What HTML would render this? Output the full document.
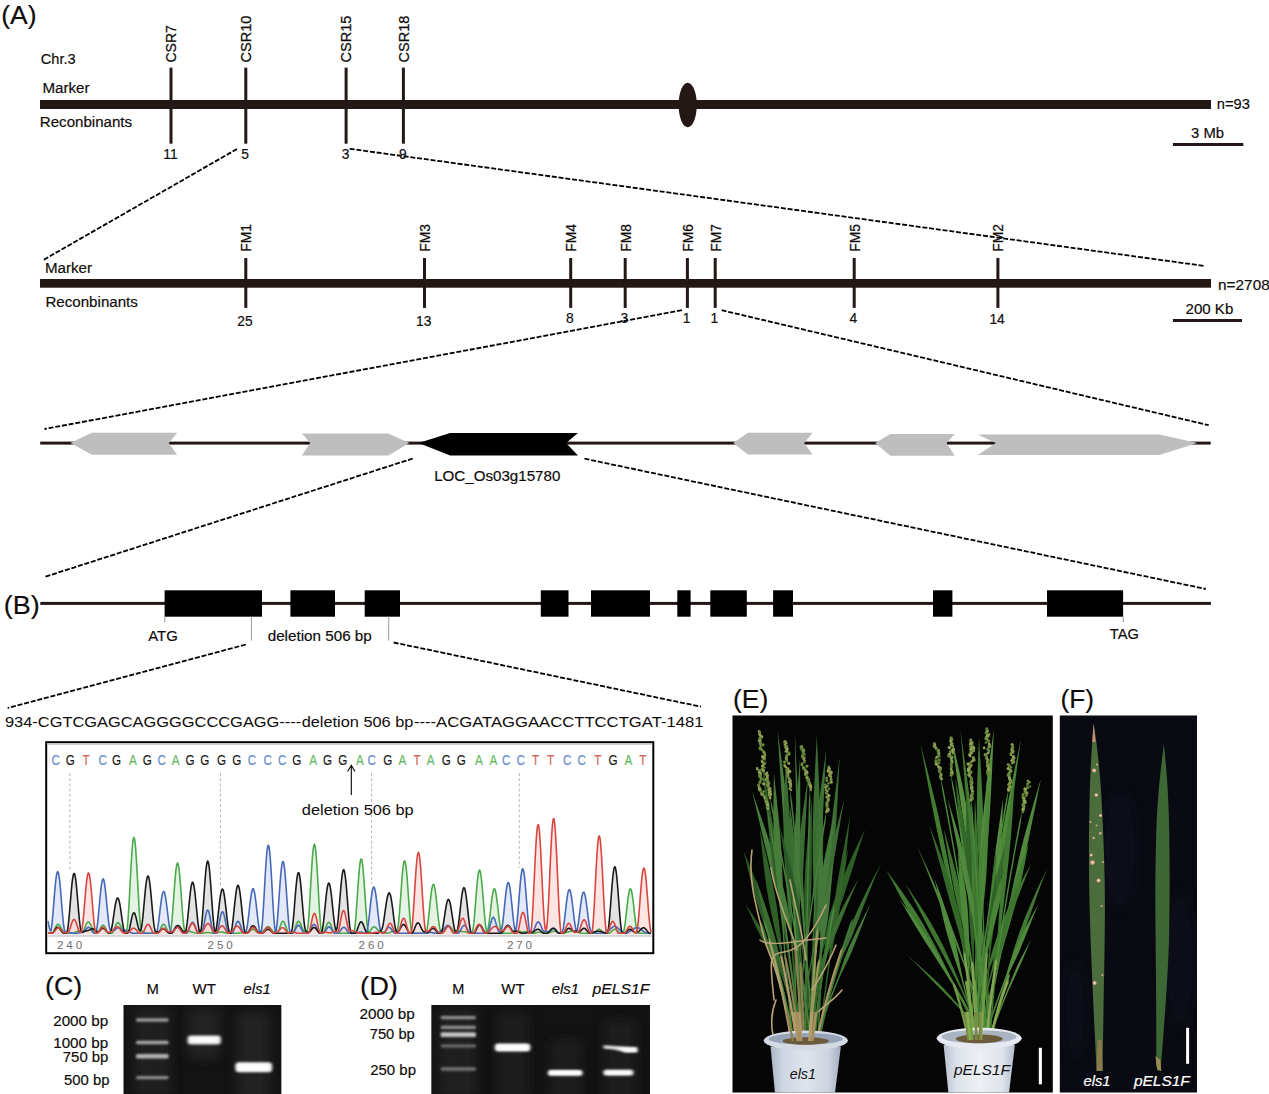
<!DOCTYPE html>
<html><head><meta charset="utf-8"><title>Figure</title>
<style>
html,body{margin:0;padding:0;background:#fff;}
body{width:1269px;height:1094px;overflow:hidden;}
svg{display:block;font-family:"Liberation Sans",sans-serif;}
</style></head><body>
<svg width="1269" height="1094" viewBox="0 0 1269 1094">
<rect width="1269" height="1094" fill="#fff"/>
<text x="1.3" y="23.6" font-size="26.4" textLength="35.3" lengthAdjust="spacingAndGlyphs" fill="#0f0b0a" stroke="#0f0b0a" stroke-width="0.18">(A)</text>
<text x="40.8" y="63.8" font-size="14.2" textLength="34.8" lengthAdjust="spacingAndGlyphs" fill="#0f0b0a" stroke="#0f0b0a" stroke-width="0.18">Chr.3</text>
<text x="42.4" y="93.3" font-size="14.7" textLength="47.1" lengthAdjust="spacingAndGlyphs" fill="#0f0b0a" stroke="#0f0b0a" stroke-width="0.18">Marker</text>
<text x="39.8" y="126.5" font-size="14.7" textLength="92.3" lengthAdjust="spacingAndGlyphs" fill="#0f0b0a" stroke="#0f0b0a" stroke-width="0.18">Reconbinants</text>
<rect x="40" y="100" width="1171" height="9" fill="#231815"/>
<ellipse cx="687.7" cy="105" rx="9.1" ry="22.2" fill="#231815"/>
<rect x="169.5" y="67.6" width="3" height="76.1" fill="#231815"/>
<text transform="translate(176.3,62.5) rotate(-90)" font-size="14.3" textLength="37.3" lengthAdjust="spacingAndGlyphs" fill="#0f0b0a" stroke="#0f0b0a" stroke-width="0.25">CSR7</text>
<text x="170.4" y="159.4" font-size="13.8" text-anchor="middle" fill="#0f0b0a" stroke="#0f0b0a" stroke-width="0.18">11</text>
<rect x="244.3" y="67.6" width="3" height="76.1" fill="#231815"/>
<text transform="translate(251.10000000000002,62.5) rotate(-90)" font-size="14.3" textLength="46.9" lengthAdjust="spacingAndGlyphs" fill="#0f0b0a" stroke="#0f0b0a" stroke-width="0.25">CSR10</text>
<text x="245.20000000000002" y="159.4" font-size="13.8" text-anchor="middle" fill="#0f0b0a" stroke="#0f0b0a" stroke-width="0.18">5</text>
<rect x="344.6" y="67.6" width="3" height="76.1" fill="#231815"/>
<text transform="translate(351.40000000000003,62.5) rotate(-90)" font-size="14.3" textLength="46.9" lengthAdjust="spacingAndGlyphs" fill="#0f0b0a" stroke="#0f0b0a" stroke-width="0.25">CSR15</text>
<text x="345.5" y="159.4" font-size="13.8" text-anchor="middle" fill="#0f0b0a" stroke="#0f0b0a" stroke-width="0.18">3</text>
<rect x="401.9" y="67.6" width="3" height="76.1" fill="#231815"/>
<text transform="translate(408.7,62.5) rotate(-90)" font-size="14.3" textLength="46.9" lengthAdjust="spacingAndGlyphs" fill="#0f0b0a" stroke="#0f0b0a" stroke-width="0.25">CSR18</text>
<text x="402.79999999999995" y="159.4" font-size="13.8" text-anchor="middle" fill="#0f0b0a" stroke="#0f0b0a" stroke-width="0.18">9</text>
<text x="1216.8" y="108.5" font-size="14.7" textLength="33.1" lengthAdjust="spacingAndGlyphs" fill="#0f0b0a" stroke="#0f0b0a" stroke-width="0.18">n=93</text>
<text x="1191" y="138.2" font-size="14.7" textLength="33" lengthAdjust="spacingAndGlyphs" fill="#0f0b0a" stroke="#0f0b0a" stroke-width="0.18">3 Mb</text>
<rect x="1172.9" y="143" width="70.4" height="3" fill="#231815"/>
<line x1="237" y1="149" x2="42.4" y2="260.5" stroke="#000" stroke-width="1.8" stroke-dasharray="5 1.8"/>
<line x1="349.7" y1="148.8" x2="1204.9" y2="266" stroke="#000" stroke-width="1.8" stroke-dasharray="5 1.8"/>
<text x="44.9" y="273.1" font-size="14.7" textLength="47.1" lengthAdjust="spacingAndGlyphs" fill="#0f0b0a" stroke="#0f0b0a" stroke-width="0.18">Marker</text>
<text x="45.4" y="306.7" font-size="14.7" textLength="92.5" lengthAdjust="spacingAndGlyphs" fill="#0f0b0a" stroke="#0f0b0a" stroke-width="0.18">Reconbinants</text>
<rect x="40" y="279" width="1171" height="8.7" fill="#231815"/>
<rect x="244.3" y="258" width="3" height="49.9" fill="#231815"/>
<text transform="translate(251.10000000000002,251.7) rotate(-90)" font-size="14.3" textLength="27.7" lengthAdjust="spacingAndGlyphs" fill="#0f0b0a" stroke="#0f0b0a" stroke-width="0.25">FM1</text>
<text x="245.0" y="326" font-size="13.8" text-anchor="middle" fill="#0f0b0a" stroke="#0f0b0a" stroke-width="0.18">25</text>
<rect x="423.0" y="258" width="3" height="49.9" fill="#231815"/>
<text transform="translate(429.8,251.7) rotate(-90)" font-size="14.3" textLength="27.7" lengthAdjust="spacingAndGlyphs" fill="#0f0b0a" stroke="#0f0b0a" stroke-width="0.25">FM3</text>
<text x="423.7" y="326" font-size="13.8" text-anchor="middle" fill="#0f0b0a" stroke="#0f0b0a" stroke-width="0.18">13</text>
<rect x="569.2" y="258" width="3" height="49.9" fill="#231815"/>
<text transform="translate(576.0,251.7) rotate(-90)" font-size="14.3" textLength="27.7" lengthAdjust="spacingAndGlyphs" fill="#0f0b0a" stroke="#0f0b0a" stroke-width="0.25">FM4</text>
<text x="569.9000000000001" y="322.8" font-size="13.8" text-anchor="middle" fill="#0f0b0a" stroke="#0f0b0a" stroke-width="0.18">8</text>
<rect x="623.7" y="258" width="3" height="49.9" fill="#231815"/>
<text transform="translate(630.5,251.7) rotate(-90)" font-size="14.3" textLength="27.7" lengthAdjust="spacingAndGlyphs" fill="#0f0b0a" stroke="#0f0b0a" stroke-width="0.25">FM8</text>
<text x="624.4000000000001" y="322.8" font-size="13.8" text-anchor="middle" fill="#0f0b0a" stroke="#0f0b0a" stroke-width="0.18">3</text>
<rect x="685.9" y="258" width="3" height="49.9" fill="#231815"/>
<text transform="translate(692.6999999999999,251.7) rotate(-90)" font-size="14.3" textLength="27.7" lengthAdjust="spacingAndGlyphs" fill="#0f0b0a" stroke="#0f0b0a" stroke-width="0.25">FM6</text>
<text x="686.6" y="322.8" font-size="13.8" text-anchor="middle" fill="#0f0b0a" stroke="#0f0b0a" stroke-width="0.18">1</text>
<rect x="713.7" y="258" width="3" height="49.9" fill="#231815"/>
<text transform="translate(720.5,251.7) rotate(-90)" font-size="14.3" textLength="27.7" lengthAdjust="spacingAndGlyphs" fill="#0f0b0a" stroke="#0f0b0a" stroke-width="0.25">FM7</text>
<text x="714.4000000000001" y="322.8" font-size="13.8" text-anchor="middle" fill="#0f0b0a" stroke="#0f0b0a" stroke-width="0.18">1</text>
<rect x="852.7" y="258" width="3" height="49.9" fill="#231815"/>
<text transform="translate(859.5,251.7) rotate(-90)" font-size="14.3" textLength="27.7" lengthAdjust="spacingAndGlyphs" fill="#0f0b0a" stroke="#0f0b0a" stroke-width="0.25">FM5</text>
<text x="853.4000000000001" y="322.8" font-size="13.8" text-anchor="middle" fill="#0f0b0a" stroke="#0f0b0a" stroke-width="0.18">4</text>
<rect x="996.4" y="258" width="3" height="49.9" fill="#231815"/>
<text transform="translate(1003.1999999999999,251.7) rotate(-90)" font-size="14.3" textLength="27.7" lengthAdjust="spacingAndGlyphs" fill="#0f0b0a" stroke="#0f0b0a" stroke-width="0.25">FM2</text>
<text x="997.1" y="323.5" font-size="13.8" text-anchor="middle" fill="#0f0b0a" stroke="#0f0b0a" stroke-width="0.18">14</text>
<text x="1218.1" y="289.8" font-size="14.7" textLength="51.6" lengthAdjust="spacingAndGlyphs" fill="#0f0b0a" stroke="#0f0b0a" stroke-width="0.18">n=2708</text>
<text x="1185.5" y="314.3" font-size="14.7" textLength="47.8" lengthAdjust="spacingAndGlyphs" fill="#0f0b0a" stroke="#0f0b0a" stroke-width="0.18">200 Kb</text>
<rect x="1172.9" y="319" width="69.1" height="3" fill="#231815"/>
<line x1="681.9" y1="310.2" x2="44.5" y2="429" stroke="#000" stroke-width="1.8" stroke-dasharray="5 1.8"/>
<line x1="721.6" y1="310.2" x2="1208.7" y2="425.2" stroke="#000" stroke-width="1.8" stroke-dasharray="5 1.8"/>
<rect x="40.2" y="441.6" width="1170.5" height="3" fill="#231815"/>
<polygon points="70.4,443.1 91.9,432.8 177.1,432.8 168.8,443.1 177.1,454.7 91.9,454.7" fill="#bebebe"/>
<polygon points="301.9,433.5 388.3,433.5 409.3,443.1 388.3,455.5 301.9,455.5 310.2,443.1" fill="#bebebe"/>
<polygon points="418.6,443.1 450.1,433 578,433 566.1,443.1 578,455.5 450.1,455.5" fill="#000"/>
<polygon points="733.3,443.1 747.9,432.8 812.7,432.8 804.1,443.1 812.7,454.5 747.9,454.5" fill="#bebebe"/>
<polygon points="875.2,443.1 890.4,434 954.7,434 946.6,443.1 954.7,455.7 890.4,455.7" fill="#bebebe"/>
<polygon points="977.7,434.6 1159.5,434.6 1197.4,443.1 1159.5,455 977.7,455 995.9,443.1" fill="#bebebe"/>
<text x="434.2" y="480.7" font-size="14.5" textLength="126.1" lengthAdjust="spacingAndGlyphs" fill="#0f0b0a" stroke="#0f0b0a" stroke-width="0.18">LOC_Os03g15780</text>
<line x1="412.8" y1="458.5" x2="44.1" y2="577.1" stroke="#000" stroke-width="1.8" stroke-dasharray="5 1.8"/>
<line x1="584.5" y1="458.7" x2="1205.8" y2="589" stroke="#000" stroke-width="1.8" stroke-dasharray="5 1.8"/>
<text x="3.8" y="613.7" font-size="26.4" textLength="36" lengthAdjust="spacingAndGlyphs" fill="#0f0b0a" stroke="#0f0b0a" stroke-width="0.18">(B)</text>
<rect x="40.3" y="601.9" width="1170.6" height="3" fill="#231815"/>
<rect x="164.6" y="590.3" width="97.4" height="26.4" fill="#000"/>
<rect x="290.4" y="590.3" width="44.6" height="26.4" fill="#000"/>
<rect x="364.7" y="590.3" width="35.3" height="26.4" fill="#000"/>
<rect x="540.8" y="590.3" width="27.7" height="26.4" fill="#000"/>
<rect x="591" y="590.3" width="59" height="26.4" fill="#000"/>
<rect x="677.3" y="590.3" width="13.3" height="26.4" fill="#000"/>
<rect x="710.3" y="590.3" width="36.5" height="26.4" fill="#000"/>
<rect x="773.1" y="590.3" width="19.9" height="26.4" fill="#000"/>
<rect x="933" y="590.3" width="19.4" height="26.4" fill="#000"/>
<rect x="1047" y="590.3" width="76.1" height="26.4" fill="#000"/>
<line x1="164.8" y1="616.7" x2="164.8" y2="622.5" stroke="#9a9a9a" stroke-width="1"/>
<line x1="251.4" y1="616.7" x2="251.4" y2="640.7" stroke="#9a9a9a" stroke-width="1"/>
<line x1="388.7" y1="616.7" x2="388.7" y2="640.7" stroke="#9a9a9a" stroke-width="1"/>
<line x1="1123.3" y1="616.7" x2="1123.3" y2="622.5" stroke="#9a9a9a" stroke-width="1"/>
<text x="148.3" y="641.4" font-size="14.2" textLength="29.5" lengthAdjust="spacingAndGlyphs" fill="#0f0b0a" stroke="#0f0b0a" stroke-width="0.18">ATG</text>
<text x="267.7" y="640.7" font-size="14.2" textLength="104.1" lengthAdjust="spacingAndGlyphs" fill="#0f0b0a" stroke="#0f0b0a" stroke-width="0.18">deletion 506 bp</text>
<text x="1109.8" y="638.7" font-size="14.2" textLength="29" lengthAdjust="spacingAndGlyphs" fill="#0f0b0a" stroke="#0f0b0a" stroke-width="0.18">TAG</text>
<line x1="245.8" y1="644.5" x2="7.6" y2="708" stroke="#000" stroke-width="1.8" stroke-dasharray="5 1.8"/>
<line x1="393.7" y1="642.5" x2="701" y2="706.7" stroke="#000" stroke-width="1.8" stroke-dasharray="5 1.8"/>
<text x="5" y="727.1" font-size="15" textLength="296.2" lengthAdjust="spacingAndGlyphs" fill="#0f0b0a" stroke="#0f0b0a" stroke-width="0">934-CGTCGAGCAGGGGCCCGAGG----</text>
<text x="301.7" y="727.1" font-size="15" textLength="111.7" lengthAdjust="spacingAndGlyphs" fill="#0f0b0a" stroke="#0f0b0a" stroke-width="0">deletion 506 bp</text>
<text x="413.9" y="727.1" font-size="15" textLength="289.6" lengthAdjust="spacingAndGlyphs" fill="#0f0b0a" stroke="#0f0b0a" stroke-width="0">----ACGATAGGAACCTTCCTGAT-1481</text>
<g id="chrom">
<rect x="46.2" y="742.2" width="607.1" height="211" fill="#fff" stroke="#000" stroke-width="2"/>
<rect x="47.2" y="743.2" width="605.1" height="1.6" fill="#c8c8c8"/>
<rect x="47.2" y="935.3" width="605.1" height="1.3" fill="#c4c4c4"/>
<text transform="translate(55.7,764.6) scale(0.8,1)" text-anchor="middle" font-size="14.6" fill="#6a8bd0" stroke="#6a8bd0" stroke-width="0.15">C</text>
<text transform="translate(70.3,764.6) scale(0.8,1)" text-anchor="middle" font-size="14.6" fill="#1c1c1c" stroke="#1c1c1c" stroke-width="0.15">G</text>
<text transform="translate(86,764.6) scale(0.8,1)" text-anchor="middle" font-size="14.6" fill="#d4605a" stroke="#d4605a" stroke-width="0.15">T</text>
<text transform="translate(102.6,764.6) scale(0.8,1)" text-anchor="middle" font-size="14.6" fill="#6a8bd0" stroke="#6a8bd0" stroke-width="0.15">C</text>
<text transform="translate(116.5,764.6) scale(0.8,1)" text-anchor="middle" font-size="14.6" fill="#1c1c1c" stroke="#1c1c1c" stroke-width="0.15">G</text>
<text transform="translate(132.9,764.6) scale(0.8,1)" text-anchor="middle" font-size="14.6" fill="#5cb85c" stroke="#5cb85c" stroke-width="0.15">A</text>
<text transform="translate(147.2,764.6) scale(0.8,1)" text-anchor="middle" font-size="14.6" fill="#1c1c1c" stroke="#1c1c1c" stroke-width="0.15">G</text>
<text transform="translate(161.6,764.6) scale(0.8,1)" text-anchor="middle" font-size="14.6" fill="#6a8bd0" stroke="#6a8bd0" stroke-width="0.15">C</text>
<text transform="translate(175.7,764.6) scale(0.8,1)" text-anchor="middle" font-size="14.6" fill="#5cb85c" stroke="#5cb85c" stroke-width="0.15">A</text>
<text transform="translate(190.1,764.6) scale(0.8,1)" text-anchor="middle" font-size="14.6" fill="#1c1c1c" stroke="#1c1c1c" stroke-width="0.15">G</text>
<text transform="translate(204.7,764.6) scale(0.8,1)" text-anchor="middle" font-size="14.6" fill="#1c1c1c" stroke="#1c1c1c" stroke-width="0.15">G</text>
<text transform="translate(221.6,764.6) scale(0.8,1)" text-anchor="middle" font-size="14.6" fill="#1c1c1c" stroke="#1c1c1c" stroke-width="0.15">G</text>
<text transform="translate(236.8,764.6) scale(0.8,1)" text-anchor="middle" font-size="14.6" fill="#1c1c1c" stroke="#1c1c1c" stroke-width="0.15">G</text>
<text transform="translate(251.9,764.6) scale(0.8,1)" text-anchor="middle" font-size="14.6" fill="#6a8bd0" stroke="#6a8bd0" stroke-width="0.15">C</text>
<text transform="translate(267.8,764.6) scale(0.8,1)" text-anchor="middle" font-size="14.6" fill="#6a8bd0" stroke="#6a8bd0" stroke-width="0.15">C</text>
<text transform="translate(282.1,764.6) scale(0.8,1)" text-anchor="middle" font-size="14.6" fill="#6a8bd0" stroke="#6a8bd0" stroke-width="0.15">C</text>
<text transform="translate(296.8,764.6) scale(0.8,1)" text-anchor="middle" font-size="14.6" fill="#1c1c1c" stroke="#1c1c1c" stroke-width="0.15">G</text>
<text transform="translate(313.2,764.6) scale(0.8,1)" text-anchor="middle" font-size="14.6" fill="#5cb85c" stroke="#5cb85c" stroke-width="0.15">A</text>
<text transform="translate(327.5,764.6) scale(0.8,1)" text-anchor="middle" font-size="14.6" fill="#1c1c1c" stroke="#1c1c1c" stroke-width="0.15">G</text>
<text transform="translate(342.9,764.6) scale(0.8,1)" text-anchor="middle" font-size="14.6" fill="#1c1c1c" stroke="#1c1c1c" stroke-width="0.15">G</text>
<text transform="translate(359.9,764.6) scale(0.8,1)" text-anchor="middle" font-size="14.6" fill="#5cb85c" stroke="#5cb85c" stroke-width="0.15">A</text>
<text transform="translate(371.6,764.6) scale(0.8,1)" text-anchor="middle" font-size="14.6" fill="#6a8bd0" stroke="#6a8bd0" stroke-width="0.15">C</text>
<text transform="translate(387.7,764.6) scale(0.8,1)" text-anchor="middle" font-size="14.6" fill="#1c1c1c" stroke="#1c1c1c" stroke-width="0.15">G</text>
<text transform="translate(402.3,764.6) scale(0.8,1)" text-anchor="middle" font-size="14.6" fill="#5cb85c" stroke="#5cb85c" stroke-width="0.15">A</text>
<text transform="translate(417.1,764.6) scale(0.8,1)" text-anchor="middle" font-size="14.6" fill="#d4605a" stroke="#d4605a" stroke-width="0.15">T</text>
<text transform="translate(430.6,764.6) scale(0.8,1)" text-anchor="middle" font-size="14.6" fill="#5cb85c" stroke="#5cb85c" stroke-width="0.15">A</text>
<text transform="translate(446.3,764.6) scale(0.8,1)" text-anchor="middle" font-size="14.6" fill="#1c1c1c" stroke="#1c1c1c" stroke-width="0.15">G</text>
<text transform="translate(461.3,764.6) scale(0.8,1)" text-anchor="middle" font-size="14.6" fill="#1c1c1c" stroke="#1c1c1c" stroke-width="0.15">G</text>
<text transform="translate(479,764.6) scale(0.8,1)" text-anchor="middle" font-size="14.6" fill="#5cb85c" stroke="#5cb85c" stroke-width="0.15">A</text>
<text transform="translate(493.3,764.6) scale(0.8,1)" text-anchor="middle" font-size="14.6" fill="#5cb85c" stroke="#5cb85c" stroke-width="0.15">A</text>
<text transform="translate(506.1,764.6) scale(0.8,1)" text-anchor="middle" font-size="14.6" fill="#6a8bd0" stroke="#6a8bd0" stroke-width="0.15">C</text>
<text transform="translate(520.6,764.6) scale(0.8,1)" text-anchor="middle" font-size="14.6" fill="#6a8bd0" stroke="#6a8bd0" stroke-width="0.15">C</text>
<text transform="translate(535.5,764.6) scale(0.8,1)" text-anchor="middle" font-size="14.6" fill="#d4605a" stroke="#d4605a" stroke-width="0.15">T</text>
<text transform="translate(550.5,764.6) scale(0.8,1)" text-anchor="middle" font-size="14.6" fill="#d4605a" stroke="#d4605a" stroke-width="0.15">T</text>
<text transform="translate(567.2,764.6) scale(0.8,1)" text-anchor="middle" font-size="14.6" fill="#6a8bd0" stroke="#6a8bd0" stroke-width="0.15">C</text>
<text transform="translate(581.8,764.6) scale(0.8,1)" text-anchor="middle" font-size="14.6" fill="#6a8bd0" stroke="#6a8bd0" stroke-width="0.15">C</text>
<text transform="translate(597.9,764.6) scale(0.8,1)" text-anchor="middle" font-size="14.6" fill="#d4605a" stroke="#d4605a" stroke-width="0.15">T</text>
<text transform="translate(613,764.6) scale(0.8,1)" text-anchor="middle" font-size="14.6" fill="#1c1c1c" stroke="#1c1c1c" stroke-width="0.15">G</text>
<text transform="translate(628.3,764.6) scale(0.8,1)" text-anchor="middle" font-size="14.6" fill="#5cb85c" stroke="#5cb85c" stroke-width="0.15">A</text>
<text transform="translate(642.9,764.6) scale(0.8,1)" text-anchor="middle" font-size="14.6" fill="#d4605a" stroke="#d4605a" stroke-width="0.15">T</text>
<line x1="69.9" y1="773" x2="69.9" y2="871" stroke="#b8b8b8" stroke-width="1" stroke-dasharray="3 2.2"/>
<line x1="220.4" y1="773" x2="220.4" y2="886" stroke="#b8b8b8" stroke-width="1" stroke-dasharray="3 2.2"/>
<line x1="371.6" y1="773" x2="371.6" y2="884" stroke="#b8b8b8" stroke-width="1" stroke-dasharray="3 2.2"/>
<line x1="519.3" y1="773" x2="519.3" y2="868" stroke="#b8b8b8" stroke-width="1" stroke-dasharray="3 2.2"/>
<path d="M48,934.3 L48.0,933.3 L48.6,933.3 L49.2,933.3 L49.8,933.3 L50.4,933.3 L51.0,933.3 L51.6,933.3 L52.2,933.2 L52.8,932.7 L53.4,931.9 L54.0,930.8 L54.6,929.5 L55.2,928.1 L55.8,926.8 L56.4,925.7 L57.0,924.9 L57.6,924.4 L58.2,924.3 L58.8,924.6 L59.4,925.1 L60.0,926.0 L60.6,927.0 L61.2,928.1 L61.8,929.2 L62.4,930.2 L63.0,931.1 L63.6,931.6 L64.2,931.9 L64.8,932.0 L65.4,932.2 L66.0,932.4 L66.6,932.7 L67.2,932.9 L67.8,933.1 L68.4,933.2 L69.0,933.3 L69.6,933.3 L70.2,933.3 L70.8,933.3 L71.4,933.3 L72.0,933.3 L72.6,933.2 L73.2,933.1 L73.8,932.8 L74.4,932.5 L75.0,932.2 L75.6,931.9 L76.2,931.7 L76.8,931.5 L77.4,931.3 L78.0,931.3 L78.6,931.4 L79.2,931.5 L79.8,931.7 L80.4,931.9 L81.0,932.0 L81.6,932.1 L82.2,932.1 L82.8,931.9 L83.4,931.1 L84.0,929.9 L84.6,928.4 L85.2,926.8 L85.8,925.2 L86.4,923.9 L87.0,922.9 L87.6,922.2 L88.2,922.0 L88.8,922.1 L89.4,922.6 L90.0,923.4 L90.6,924.5 L91.2,925.9 L91.8,927.3 L92.4,928.7 L93.0,930.0 L93.6,931.0 L94.2,931.6 L94.8,931.9 L95.4,932.1 L96.0,932.3 L96.6,932.5 L97.2,932.6 L97.8,932.4 L98.4,931.9 L99.0,931.0 L99.6,929.9 L100.2,928.7 L100.8,927.5 L101.4,926.5 L102.0,925.8 L102.6,925.4 L103.2,925.3 L103.8,925.6 L104.4,926.3 L105.0,927.2 L105.6,928.3 L106.2,929.5 L106.8,930.7 L107.4,931.7 L108.0,932.6 L108.6,933.1 L109.2,933.3 L109.8,933.3 L110.4,933.3 L111.0,933.3 L111.6,933.3 L112.2,933.0 L112.8,932.3 L113.4,931.3 L114.0,930.0 L114.6,928.5 L115.2,926.9 L115.8,925.4 L116.4,924.2 L117.0,923.3 L117.6,922.7 L118.2,922.6 L118.8,923.0 L119.4,923.7 L120.0,924.8 L120.6,926.1 L121.2,927.5 L121.8,928.8 L122.4,929.9 L123.0,930.8 L123.6,931.3 L124.2,931.4 L124.8,931.5 L125.4,931.6 L126.0,931.8 L126.6,931.2 L127.2,928.1 L127.8,922.3 L128.4,914.3 L129.0,904.5 L129.6,893.5 L130.2,882.0 L130.8,870.7 L131.4,860.3 L132.0,851.3 L132.6,844.2 L133.2,839.5 L133.8,837.6 L134.4,838.4 L135.0,842.0 L135.6,848.1 L136.2,856.4 L136.8,866.4 L137.4,877.3 L138.0,888.6 L138.6,899.6 L139.2,909.7 L139.8,918.3 L140.4,925.0 L141.0,929.2 L141.6,930.8 L142.2,931.1 L142.8,931.4 L143.4,931.8 L144.0,932.3 L144.6,932.7 L145.2,933.0 L145.8,933.2 L146.4,933.3 L147.0,933.3 L147.6,933.3 L148.2,933.3 L148.8,933.3 L149.4,933.3 L150.0,933.3 L150.6,933.3 L151.2,933.3 L151.8,933.3 L152.4,933.3 L153.0,933.3 L153.6,933.3 L154.2,933.3 L154.8,933.3 L155.4,933.3 L156.0,933.3 L156.6,933.3 L157.2,933.3 L157.8,933.2 L158.4,932.7 L159.0,931.9 L159.6,930.8 L160.2,929.5 L160.8,928.1 L161.4,926.8 L162.0,925.7 L162.6,924.9 L163.2,924.4 L163.8,924.3 L164.4,924.7 L165.0,925.4 L165.6,926.4 L166.2,927.7 L166.8,929.0 L167.4,930.4 L168.0,931.6 L168.6,932.5 L169.2,933.1 L169.8,933.3 L170.4,932.3 L171.0,929.2 L171.6,924.3 L172.2,917.8 L172.8,910.2 L173.4,901.9 L174.0,893.3 L174.6,885.1 L175.2,877.6 L175.8,871.4 L176.4,866.7 L177.0,863.8 L177.6,863.0 L178.2,864.3 L178.8,867.5 L179.4,872.5 L180.0,879.0 L180.6,886.6 L181.2,894.9 L181.8,903.2 L182.4,911.3 L183.0,918.5 L183.6,924.4 L184.2,928.6 L184.8,930.9 L185.4,931.3 L186.0,931.2 L186.6,931.1 L187.2,931.1 L187.8,931.1 L188.4,931.2 L189.0,931.2 L189.6,931.4 L190.2,931.5 L190.8,931.7 L191.4,931.9 L192.0,932.0 L192.6,932.2 L193.2,932.4 L193.8,932.6 L194.4,932.8 L195.0,933.0 L195.6,933.1 L196.2,933.2 L196.8,933.3 L197.4,933.3 L198.0,933.3 L198.6,933.3 L199.2,933.3 L199.8,933.3 L200.4,933.3 L201.0,933.3 L201.6,933.3 L202.2,933.2 L202.8,933.2 L203.4,933.1 L204.0,933.0 L204.6,932.8 L205.2,932.7 L205.8,932.6 L206.4,932.6 L207.0,932.5 L207.6,932.5 L208.2,932.5 L208.8,932.6 L209.4,932.6 L210.0,932.7 L210.6,932.8 L211.2,932.9 L211.8,933.0 L212.4,933.1 L213.0,933.2 L213.6,933.3 L214.2,933.2 L214.8,933.1 L215.4,933.0 L216.0,932.9 L216.6,932.7 L217.2,932.6 L217.8,932.4 L218.4,932.2 L219.0,932.1 L219.6,932.0 L220.2,932.0 L220.8,932.0 L221.4,932.0 L222.0,932.0 L222.6,932.1 L223.2,932.3 L223.8,932.4 L224.4,932.6 L225.0,932.7 L225.6,932.9 L226.2,933.0 L226.8,933.2 L227.4,933.2 L228.0,933.3 L228.6,933.3 L229.2,933.3 L229.8,933.3 L230.4,933.3 L231.0,933.3 L231.6,933.3 L232.2,933.3 L232.8,933.3 L233.4,933.3 L234.0,933.3 L234.6,933.3 L235.2,933.3 L235.8,933.3 L236.4,933.3 L237.0,933.3 L237.6,933.3 L238.2,933.2 L238.8,933.1 L239.4,933.0 L240.0,932.9 L240.6,932.8 L241.2,932.6 L241.8,932.5 L242.4,932.4 L243.0,932.4 L243.6,932.3 L244.2,932.3 L244.8,932.3 L245.4,932.3 L246.0,932.4 L246.6,932.5 L247.2,932.6 L247.8,932.5 L248.4,932.2 L249.0,931.9 L249.6,931.4 L250.2,930.9 L250.8,930.4 L251.4,929.9 L252.0,929.6 L252.6,929.3 L253.2,929.3 L253.8,929.5 L254.4,929.8 L255.0,930.2 L255.6,930.8 L256.2,931.4 L256.8,932.0 L257.4,932.5 L258.0,932.8 L258.6,932.9 L259.2,932.8 L259.8,932.7 L260.4,932.4 L261.0,932.2 L261.6,932.0 L262.2,931.8 L262.8,931.4 L263.4,930.8 L264.0,930.2 L264.6,929.4 L265.2,928.7 L265.8,928.0 L266.4,927.4 L267.0,926.9 L267.6,926.7 L268.2,926.7 L268.8,926.9 L269.4,927.3 L270.0,927.9 L270.6,928.6 L271.2,929.3 L271.8,930.1 L272.4,930.8 L273.0,931.4 L273.6,931.8 L274.2,932.0 L274.8,932.2 L275.4,932.3 L276.0,932.5 L276.6,932.7 L277.2,932.7 L277.8,932.2 L278.4,931.2 L279.0,929.8 L279.6,928.2 L280.2,926.4 L280.8,924.7 L281.4,923.2 L282.0,922.1 L282.6,921.4 L283.2,921.3 L283.8,921.8 L284.4,922.7 L285.0,924.1 L285.6,925.8 L286.2,927.6 L286.8,929.4 L287.4,931.0 L288.0,932.2 L288.6,933.0 L289.2,933.3 L289.8,933.3 L290.4,933.3 L291.0,933.3 L291.6,933.3 L292.2,933.3 L292.8,933.1 L293.4,932.4 L294.0,931.2 L294.6,929.7 L295.2,927.9 L295.8,926.1 L296.4,924.4 L297.0,923.0 L297.6,921.9 L298.2,921.4 L298.8,921.4 L299.4,921.9 L300.0,922.9 L300.6,924.1 L301.2,925.5 L301.8,927.0 L302.4,928.4 L303.0,929.7 L303.6,930.6 L304.2,931.2 L304.8,931.3 L305.4,931.4 L306.0,931.5 L306.6,931.6 L307.2,930.9 L307.8,927.6 L308.4,921.9 L309.0,914.1 L309.6,904.7 L310.2,894.3 L310.8,883.5 L311.4,873.0 L312.0,863.4 L312.6,855.3 L313.2,849.3 L313.8,845.5 L314.4,844.3 L315.0,845.7 L315.6,849.6 L316.2,855.9 L316.8,864.1 L317.4,873.7 L318.0,884.3 L318.6,895.2 L319.2,905.7 L319.8,915.1 L320.4,923.0 L321.0,928.9 L321.6,932.4 L322.2,933.3 L322.8,933.3 L323.4,932.9 L324.0,932.0 L324.6,930.7 L325.2,929.2 L325.8,927.5 L326.4,925.9 L327.0,924.4 L327.6,923.3 L328.2,922.6 L328.8,922.3 L329.4,922.6 L330.0,923.3 L330.6,924.4 L331.2,925.9 L331.8,927.5 L332.4,929.2 L333.0,930.7 L333.6,932.0 L334.2,932.9 L334.8,933.3 L335.4,933.3 L336.0,933.3 L336.6,933.3 L337.2,933.3 L337.8,933.3 L338.4,933.3 L339.0,933.3 L339.6,933.3 L340.2,933.3 L340.8,933.3 L341.4,933.3 L342.0,933.3 L342.6,933.3 L343.2,933.3 L343.8,933.3 L344.4,933.3 L345.0,933.3 L345.6,933.3 L346.2,933.3 L346.8,933.3 L347.4,933.3 L348.0,933.3 L348.6,933.3 L349.2,933.3 L349.8,933.3 L350.4,933.3 L351.0,933.3 L351.6,933.3 L352.2,933.3 L352.8,933.3 L353.4,933.3 L354.0,932.5 L354.6,929.6 L355.2,924.7 L355.8,918.1 L356.4,910.2 L357.0,901.4 L357.6,892.3 L358.2,883.5 L358.8,875.4 L359.4,868.5 L360.0,863.3 L360.6,860.0 L361.2,858.9 L361.8,860.0 L362.4,863.3 L363.0,868.5 L363.6,875.4 L364.2,883.5 L364.8,892.3 L365.4,901.4 L366.0,910.2 L366.6,918.1 L367.2,924.7 L367.8,929.6 L368.4,932.2 L369.0,932.5 L369.6,931.8 L370.2,930.9 L370.8,930.0 L371.4,929.1 L372.0,928.3 L372.6,927.6 L373.2,927.2 L373.8,926.9 L374.4,926.9 L375.0,927.1 L375.6,927.5 L376.2,928.1 L376.8,928.8 L377.4,929.5 L378.0,930.2 L378.6,930.7 L379.2,931.1 L379.8,931.3 L380.4,931.3 L381.0,931.4 L381.6,931.5 L382.2,931.7 L382.8,931.9 L383.4,932.1 L384.0,932.4 L384.6,932.6 L385.2,932.8 L385.8,933.0 L386.4,933.1 L387.0,933.2 L387.6,933.2 L388.2,933.1 L388.8,932.9 L389.4,932.6 L390.0,932.4 L390.6,932.1 L391.2,931.8 L391.8,931.5 L392.4,931.2 L393.0,930.9 L393.6,930.7 L394.2,930.6 L394.8,930.5 L395.4,930.5 L396.0,930.4 L396.6,930.4 L397.2,930.1 L397.8,928.1 L398.4,924.0 L399.0,918.3 L399.6,911.3 L400.2,903.3 L400.8,894.9 L401.4,886.5 L402.0,878.6 L402.6,871.7 L403.2,866.3 L403.8,862.6 L404.4,860.9 L405.0,861.4 L405.6,863.9 L406.2,868.3 L406.8,874.4 L407.4,881.8 L408.0,890.2 L408.6,898.9 L409.2,907.6 L409.8,915.6 L410.4,922.6 L411.0,928.0 L411.6,931.6 L412.2,933.1 L412.8,933.3 L413.4,933.3 L414.0,933.3 L414.6,933.3 L415.2,933.3 L415.8,933.3 L416.4,933.3 L417.0,933.3 L417.6,933.3 L418.2,933.3 L418.8,933.3 L419.4,933.3 L420.0,933.3 L420.6,933.3 L421.2,933.3 L421.8,933.3 L422.4,933.3 L423.0,933.3 L423.6,933.3 L424.2,933.3 L424.8,933.3 L425.4,933.3 L426.0,933.0 L426.6,931.4 L427.2,928.4 L427.8,924.3 L428.4,919.3 L429.0,913.7 L429.6,907.8 L430.2,902.0 L430.8,896.6 L431.4,891.9 L432.0,888.1 L432.6,885.6 L433.2,884.4 L433.8,884.6 L434.4,886.3 L435.0,889.2 L435.6,893.3 L436.2,898.2 L436.8,903.8 L437.4,909.6 L438.0,915.3 L438.6,920.5 L439.2,925.0 L439.8,928.5 L440.4,930.7 L441.0,931.6 L441.6,931.8 L442.2,932.0 L442.8,931.9 L443.4,931.6 L444.0,931.1 L444.6,930.4 L445.2,929.5 L445.8,928.6 L446.4,927.8 L447.0,927.0 L447.6,926.4 L448.2,926.1 L448.8,926.0 L449.4,926.2 L450.0,926.7 L450.6,927.3 L451.2,928.0 L451.8,928.8 L452.4,929.6 L453.0,930.2 L453.6,930.7 L454.2,930.9 L454.8,930.9 L455.4,931.0 L456.0,931.0 L456.6,931.1 L457.2,931.1 L457.8,931.1 L458.4,931.1 L459.0,931.1 L459.6,931.1 L460.2,931.2 L460.8,931.3 L461.4,931.4 L462.0,931.5 L462.6,931.6 L463.2,931.7 L463.8,931.7 L464.4,931.8 L465.0,931.8 L465.6,931.9 L466.2,932.0 L466.8,932.2 L467.4,932.3 L468.0,932.5 L468.6,932.7 L469.2,932.9 L469.8,933.1 L470.4,933.2 L471.0,933.3 L471.6,933.3 L472.2,932.9 L472.8,930.7 L473.4,926.8 L474.0,921.4 L474.6,914.8 L475.2,907.4 L475.8,899.7 L476.4,892.1 L477.0,885.1 L477.6,879.0 L478.2,874.3 L478.8,871.3 L479.4,870.0 L480.0,870.6 L480.6,873.0 L481.2,877.1 L481.8,882.6 L482.4,889.3 L483.0,896.6 L483.6,904.2 L484.2,911.6 L484.8,918.4 L485.4,924.1 L486.0,928.5 L486.6,931.2 L487.2,931.6 L487.8,929.9 L488.4,927.0 L489.0,923.1 L489.6,918.5 L490.2,913.3 L490.8,908.0 L491.4,902.9 L492.0,898.2 L492.6,894.2 L493.2,891.2 L493.8,889.4 L494.4,888.8 L495.0,889.6 L495.6,891.6 L496.2,894.7 L496.8,898.8 L497.4,903.6 L498.0,908.9 L498.6,914.3 L499.2,919.5 L499.8,924.2 L500.4,928.2 L501.0,931.1 L501.6,932.8 L502.2,933.3 L502.8,933.3 L503.4,933.3 L504.0,933.3 L504.6,933.3 L505.2,933.3 L505.8,933.3 L506.4,933.3 L507.0,933.3 L507.6,933.3 L508.2,933.3 L508.8,933.3 L509.4,933.3 L510.0,933.3 L510.6,933.3 L511.2,933.2 L511.8,933.0 L512.4,932.8 L513.0,932.6 L513.6,932.4 L514.2,932.2 L514.8,931.9 L515.4,931.7 L516.0,931.6 L516.6,931.4 L517.2,931.3 L517.8,931.3 L518.4,931.3 L519.0,931.4 L519.6,931.5 L520.2,931.6 L520.8,931.8 L521.4,932.0 L522.0,932.0 L522.6,932.1 L523.2,932.0 L523.8,931.9 L524.4,931.8 L525.0,931.7 L525.6,931.6 L526.2,931.5 L526.8,931.5 L527.4,931.6 L528.0,931.7 L528.6,932.0 L529.2,932.2 L529.8,932.5 L530.4,932.8 L531.0,933.0 L531.6,933.2 L532.2,933.3 L532.8,933.3 L533.4,933.2 L534.0,933.2 L534.6,933.1 L535.2,933.0 L535.8,932.8 L536.4,932.7 L537.0,932.6 L537.6,932.4 L538.2,932.3 L538.8,932.3 L539.4,932.3 L540.0,932.3 L540.6,932.3 L541.2,932.4 L541.8,932.5 L542.4,932.6 L543.0,932.7 L543.6,932.8 L544.2,933.0 L544.8,933.1 L545.4,933.2 L546.0,933.3 L546.6,933.3 L547.2,933.3 L547.8,933.2 L548.4,933.1 L549.0,932.9 L549.6,932.7 L550.2,932.4 L550.8,932.1 L551.4,931.8 L552.0,931.6 L552.6,931.4 L553.2,931.2 L553.8,931.2 L554.4,931.2 L555.0,931.3 L555.6,931.5 L556.2,931.7 L556.8,931.9 L557.4,932.2 L558.0,932.5 L558.6,932.8 L559.2,933.0 L559.8,933.2 L560.4,933.3 L561.0,933.3 L561.6,933.3 L562.2,933.3 L562.8,933.2 L563.4,933.1 L564.0,933.0 L564.6,932.8 L565.2,932.7 L565.8,932.5 L566.4,932.3 L567.0,932.2 L567.6,932.0 L568.2,931.9 L568.8,931.7 L569.4,931.6 L570.0,931.4 L570.6,931.3 L571.2,931.2 L571.8,931.1 L572.4,931.1 L573.0,931.1 L573.6,931.2 L574.2,931.2 L574.8,931.3 L575.4,931.4 L576.0,931.6 L576.6,931.8 L577.2,932.0 L577.8,932.2 L578.4,932.4 L579.0,932.6 L579.6,932.8 L580.2,932.9 L580.8,933.1 L581.4,933.2 L582.0,933.2 L582.6,933.3 L583.2,933.3 L583.8,933.3 L584.4,933.3 L585.0,933.3 L585.6,933.3 L586.2,933.3 L586.8,933.3 L587.4,933.3 L588.0,933.3 L588.6,933.3 L589.2,933.3 L589.8,933.3 L590.4,933.3 L591.0,933.3 L591.6,933.3 L592.2,933.3 L592.8,933.3 L593.4,933.2 L594.0,932.9 L594.6,932.5 L595.2,932.0 L595.8,931.4 L596.4,930.8 L597.0,930.2 L597.6,929.8 L598.2,929.5 L598.8,929.3 L599.4,929.3 L600.0,929.6 L600.6,929.9 L601.2,930.4 L601.8,931.0 L602.4,931.6 L603.0,932.2 L603.6,932.7 L604.2,933.0 L604.8,933.3 L605.4,933.3 L606.0,933.3 L606.6,933.3 L607.2,933.3 L607.8,933.3 L608.4,933.3 L609.0,933.3 L609.6,933.0 L610.2,932.7 L610.8,932.2 L611.4,931.6 L612.0,931.0 L612.6,930.4 L613.2,929.9 L613.8,929.6 L614.4,929.3 L615.0,929.3 L615.6,929.5 L616.2,929.8 L616.8,930.2 L617.4,930.8 L618.0,931.4 L618.6,932.0 L619.2,932.5 L619.8,932.9 L620.4,933.2 L621.0,933.3 L621.6,933.3 L622.2,933.3 L622.8,933.3 L623.4,932.4 L624.0,930.2 L624.6,926.9 L625.2,922.7 L625.8,917.8 L626.4,912.4 L627.0,907.0 L627.6,901.8 L628.2,897.2 L628.8,893.4 L629.4,890.6 L630.0,889.1 L630.6,888.9 L631.2,890.0 L631.8,892.3 L632.4,895.8 L633.0,900.2 L633.6,905.2 L634.2,910.6 L634.8,916.0 L635.4,921.1 L636.0,925.6 L636.6,929.3 L637.2,931.8 L637.8,933.1 L638.4,933.3 L639.0,933.3 L639.6,933.3 L640.2,933.3 L640.8,933.3 L641.4,933.3 L642.0,933.3 L642.6,933.3 L643.2,933.3 L643.8,933.3 L644.4,933.3 L645.0,933.3 L645.6,933.3 L646.2,933.3 L646.8,933.3 L647.4,933.3 L648.0,933.3 L648.6,933.3 L649.2,933.3 L649.8,933.3 L650.4,933.3 L651.0,933.3 L651.6,934.3 Z" fill="#dff0dd" fill-opacity="0.8" stroke="none"/>
<path d="M48,934.3 L48.0,921.0 L48.6,924.4 L49.2,927.2 L49.8,929.3 L50.4,930.8 L51.0,930.8 L51.6,927.0 L52.2,921.7 L52.8,915.3 L53.4,908.1 L54.0,900.6 L54.6,893.2 L55.2,886.3 L55.8,880.4 L56.4,875.8 L57.0,872.8 L57.6,871.6 L58.2,872.2 L58.8,874.7 L59.4,878.7 L60.0,884.2 L60.6,890.8 L61.2,898.0 L61.8,905.5 L62.4,912.7 L63.0,919.3 L63.6,924.8 L64.2,928.9 L64.8,931.5 L65.4,932.3 L66.0,932.2 L66.6,932.1 L67.2,932.1 L67.8,932.2 L68.4,932.3 L69.0,932.5 L69.6,932.6 L70.2,932.8 L70.8,933.0 L71.4,933.1 L72.0,933.2 L72.6,933.3 L73.2,933.3 L73.8,933.3 L74.4,933.3 L75.0,933.3 L75.6,933.3 L76.2,933.3 L76.8,933.3 L77.4,933.2 L78.0,933.1 L78.6,932.9 L79.2,932.8 L79.8,932.7 L80.4,932.6 L81.0,932.5 L81.6,932.5 L82.2,932.5 L82.8,932.5 L83.4,932.2 L84.0,931.8 L84.6,931.1 L85.2,930.4 L85.8,929.6 L86.4,928.8 L87.0,928.1 L87.6,927.6 L88.2,927.3 L88.8,927.3 L89.4,927.6 L90.0,928.1 L90.6,928.8 L91.2,929.7 L91.8,930.6 L92.4,931.5 L93.0,932.3 L93.6,932.8 L94.2,933.2 L94.8,933.3 L95.4,933.3 L96.0,932.5 L96.6,930.1 L97.2,926.3 L97.8,921.3 L98.4,915.3 L99.0,908.9 L99.6,902.2 L100.2,895.8 L100.8,890.0 L101.4,885.2 L102.0,881.6 L102.6,879.5 L103.2,878.9 L103.8,880.0 L104.4,882.6 L105.0,886.7 L105.6,891.9 L106.2,897.8 L106.8,904.1 L107.4,910.4 L108.0,916.3 L108.6,921.6 L109.2,925.8 L109.8,928.8 L110.4,930.4 L111.0,930.7 L111.6,930.8 L112.2,930.8 L112.8,930.8 L113.4,930.6 L114.0,930.4 L114.6,930.0 L115.2,929.6 L115.8,929.1 L116.4,928.6 L117.0,928.1 L117.6,927.8 L118.2,927.7 L118.8,927.8 L119.4,928.0 L120.0,928.4 L120.6,928.8 L121.2,929.3 L121.8,929.8 L122.4,930.1 L123.0,930.4 L123.6,930.5 L124.2,930.4 L124.8,930.4 L125.4,930.5 L126.0,930.6 L126.6,930.8 L127.2,931.0 L127.8,931.2 L128.4,931.5 L129.0,931.8 L129.6,932.1 L130.2,932.4 L130.8,932.6 L131.4,932.9 L132.0,933.0 L132.6,933.1 L133.2,933.2 L133.8,933.3 L134.4,933.3 L135.0,933.3 L135.6,933.3 L136.2,933.3 L136.8,933.3 L137.4,933.3 L138.0,933.3 L138.6,933.3 L139.2,933.3 L139.8,933.3 L140.4,933.3 L141.0,933.3 L141.6,933.3 L142.2,933.3 L142.8,933.3 L143.4,933.3 L144.0,933.3 L144.6,933.3 L145.2,933.3 L145.8,933.3 L146.4,933.3 L147.0,933.3 L147.6,933.3 L148.2,933.3 L148.8,933.3 L149.4,933.3 L150.0,933.3 L150.6,933.3 L151.2,933.3 L151.8,933.3 L152.4,933.3 L153.0,933.3 L153.6,933.3 L154.2,933.3 L154.8,933.3 L155.4,933.3 L156.0,933.3 L156.6,932.5 L157.2,930.4 L157.8,927.4 L158.4,923.4 L159.0,918.8 L159.6,913.8 L160.2,908.8 L160.8,903.9 L161.4,899.6 L162.0,896.0 L162.6,893.3 L163.2,891.8 L163.8,891.4 L164.4,892.3 L165.0,894.4 L165.6,897.5 L166.2,901.5 L166.8,906.1 L167.4,911.1 L168.0,916.1 L168.6,920.9 L169.2,925.1 L169.8,928.5 L170.4,930.9 L171.0,932.2 L171.6,932.3 L172.2,932.0 L172.8,931.3 L173.4,930.5 L174.0,929.5 L174.6,928.4 L175.2,927.4 L175.8,926.5 L176.4,925.9 L177.0,925.6 L177.6,925.6 L178.2,925.9 L178.8,926.6 L179.4,927.5 L180.0,928.6 L180.6,929.7 L181.2,930.8 L181.8,931.8 L182.4,932.6 L183.0,933.1 L183.6,933.3 L184.2,933.3 L184.8,933.3 L185.4,933.3 L186.0,933.3 L186.6,933.3 L187.2,932.9 L187.8,932.0 L188.4,930.7 L189.0,929.2 L189.6,927.5 L190.2,925.9 L190.8,924.4 L191.4,923.3 L192.0,922.6 L192.6,922.3 L193.2,922.6 L193.8,923.3 L194.4,924.4 L195.0,925.9 L195.6,927.5 L196.2,929.1 L196.8,930.5 L197.4,931.6 L198.0,932.3 L198.6,932.5 L199.2,932.3 L199.8,932.2 L200.4,932.1 L201.0,932.0 L201.6,932.0 L202.2,931.4 L202.8,929.9 L203.4,927.5 L204.0,924.6 L204.6,921.3 L205.2,918.0 L205.8,915.0 L206.4,912.5 L207.0,910.8 L207.6,910.1 L208.2,910.4 L208.8,911.8 L209.4,914.0 L210.0,917.0 L210.6,920.4 L211.2,923.8 L211.8,927.1 L212.4,929.9 L213.0,931.9 L213.6,933.1 L214.2,933.3 L214.8,933.3 L215.4,933.3 L216.0,933.3 L216.6,933.1 L217.2,932.0 L217.8,930.0 L218.4,927.4 L219.0,924.4 L219.6,921.1 L220.2,918.0 L220.8,915.3 L221.4,913.2 L222.0,912.0 L222.6,911.7 L223.2,912.3 L223.8,913.9 L224.4,916.2 L225.0,919.1 L225.6,922.2 L226.2,925.3 L226.8,928.1 L227.4,930.4 L228.0,931.9 L228.6,932.5 L229.2,932.7 L229.8,932.8 L230.4,933.0 L231.0,933.1 L231.6,933.2 L232.2,933.1 L232.8,932.5 L233.4,931.4 L234.0,929.9 L234.6,928.2 L235.2,926.4 L235.8,924.7 L236.4,923.2 L237.0,922.1 L237.6,921.4 L238.2,921.3 L238.8,921.8 L239.4,922.7 L240.0,924.1 L240.6,925.8 L241.2,927.5 L241.8,929.2 L242.4,930.7 L243.0,931.8 L243.6,932.5 L244.2,932.6 L244.8,932.5 L245.4,932.4 L246.0,931.7 L246.6,929.6 L247.2,926.5 L247.8,922.4 L248.4,917.6 L249.0,912.4 L249.6,907.0 L250.2,901.9 L250.8,897.3 L251.4,893.5 L252.0,890.7 L252.6,889.0 L253.2,888.7 L253.8,889.7 L254.4,891.9 L255.0,895.3 L255.6,899.5 L256.2,904.5 L256.8,909.8 L257.4,915.2 L258.0,920.4 L258.6,925.0 L259.2,928.7 L259.8,931.5 L260.4,933.0 L261.0,932.7 L261.6,929.7 L262.2,924.3 L262.8,916.9 L263.4,907.8 L264.0,897.6 L264.6,886.9 L265.2,876.3 L265.8,866.4 L266.4,857.9 L267.0,851.3 L267.6,847.0 L268.2,845.2 L268.8,846.0 L269.4,849.4 L270.0,855.3 L270.6,863.1 L271.2,872.6 L271.8,883.0 L272.4,893.8 L273.0,904.3 L273.6,913.9 L274.2,922.1 L274.8,928.2 L275.4,931.9 L276.0,931.4 L276.6,927.6 L277.2,922.1 L277.8,915.1 L278.4,907.0 L279.0,898.4 L279.6,889.8 L280.2,881.6 L280.8,874.3 L281.4,868.4 L282.0,864.1 L282.6,861.7 L283.2,861.5 L283.8,863.4 L284.4,867.3 L285.0,873.0 L285.6,880.2 L286.2,888.5 L286.8,897.3 L287.4,906.1 L288.0,914.3 L288.6,921.6 L289.2,927.4 L289.8,931.3 L290.4,933.2 L291.0,933.3 L291.6,933.3 L292.2,933.3 L292.8,933.2 L293.4,932.7 L294.0,931.9 L294.6,930.9 L295.2,929.7 L295.8,928.5 L296.4,927.4 L297.0,926.4 L297.6,925.7 L298.2,925.3 L298.8,925.3 L299.4,925.7 L300.0,926.4 L300.6,927.4 L301.2,928.5 L301.8,929.7 L302.4,930.9 L303.0,931.9 L303.6,932.7 L304.2,933.2 L304.8,933.3 L305.4,933.3 L306.0,933.3 L306.6,933.3 L307.2,933.3 L307.8,933.3 L308.4,933.1 L309.0,932.5 L309.6,931.6 L310.2,930.4 L310.8,929.0 L311.4,927.7 L312.0,926.4 L312.6,925.4 L313.2,924.7 L313.8,924.3 L314.4,924.4 L315.0,924.9 L315.6,925.7 L316.2,926.8 L316.8,928.1 L317.4,929.5 L318.0,930.8 L318.6,931.9 L319.2,932.7 L319.8,933.2 L320.4,933.3 L321.0,933.3 L321.6,933.3 L322.2,933.3 L322.8,933.3 L323.4,933.1 L324.0,932.7 L324.6,932.1 L325.2,931.3 L325.8,930.4 L326.4,929.4 L327.0,928.5 L327.6,927.7 L328.2,927.2 L328.8,926.9 L329.4,926.9 L330.0,927.3 L330.6,927.9 L331.2,928.8 L331.8,929.7 L332.4,930.7 L333.0,931.7 L333.6,932.5 L334.2,933.0 L334.8,933.3 L335.4,933.3 L336.0,933.3 L336.6,933.3 L337.2,933.3 L337.8,933.3 L338.4,933.0 L339.0,932.5 L339.6,931.8 L340.2,930.9 L340.8,930.0 L341.4,929.1 L342.0,928.3 L342.6,927.8 L343.2,927.4 L343.8,927.3 L344.4,927.5 L345.0,927.9 L345.6,928.6 L346.2,929.4 L346.8,930.3 L347.4,931.2 L348.0,932.0 L348.6,932.7 L349.2,933.1 L349.8,933.3 L350.4,933.3 L351.0,933.3 L351.6,933.3 L352.2,933.3 L352.8,933.3 L353.4,933.3 L354.0,933.3 L354.6,933.3 L355.2,933.3 L355.8,933.3 L356.4,933.2 L357.0,933.0 L357.6,932.8 L358.2,932.6 L358.8,932.4 L359.4,932.2 L360.0,932.0 L360.6,932.0 L361.2,932.0 L361.8,932.2 L362.4,932.4 L363.0,932.6 L363.6,932.8 L364.2,933.0 L364.8,933.2 L365.4,933.3 L366.0,933.3 L366.6,932.6 L367.2,930.6 L367.8,927.4 L368.4,923.2 L369.0,918.2 L369.6,912.8 L370.2,907.2 L370.8,901.7 L371.4,896.8 L372.0,892.6 L372.6,889.5 L373.2,887.6 L373.8,887.0 L374.4,887.9 L375.0,890.0 L375.6,893.2 L376.2,897.4 L376.8,902.3 L377.4,907.6 L378.0,913.1 L378.6,918.4 L379.2,923.3 L379.8,927.3 L380.4,930.3 L381.0,932.1 L381.6,932.7 L382.2,932.9 L382.8,933.1 L383.4,933.1 L384.0,932.8 L384.6,932.1 L385.2,931.3 L385.8,930.5 L386.4,929.5 L387.0,928.7 L387.6,928.0 L388.2,927.5 L388.8,927.3 L389.4,927.4 L390.0,927.7 L390.6,928.2 L391.2,929.0 L391.8,929.8 L392.4,930.8 L393.0,931.6 L393.6,932.4 L394.2,932.9 L394.8,933.2 L395.4,933.3 L396.0,933.3 L396.6,933.3 L397.2,933.3 L397.8,933.3 L398.4,933.3 L399.0,933.3 L399.6,933.3 L400.2,933.3 L400.8,933.3 L401.4,933.3 L402.0,933.3 L402.6,933.3 L403.2,933.3 L403.8,933.3 L404.4,933.3 L405.0,933.3 L405.6,933.3 L406.2,933.3 L406.8,933.3 L407.4,933.3 L408.0,933.3 L408.6,933.3 L409.2,933.3 L409.8,933.3 L410.4,933.3 L411.0,933.3 L411.6,933.3 L412.2,933.3 L412.8,933.3 L413.4,933.3 L414.0,933.3 L414.6,933.3 L415.2,933.3 L415.8,933.3 L416.4,933.3 L417.0,933.3 L417.6,933.3 L418.2,933.3 L418.8,933.3 L419.4,933.3 L420.0,933.3 L420.6,933.3 L421.2,933.3 L421.8,933.3 L422.4,933.3 L423.0,933.3 L423.6,933.3 L424.2,933.3 L424.8,933.3 L425.4,933.3 L426.0,933.3 L426.6,933.2 L427.2,933.0 L427.8,932.9 L428.4,932.7 L429.0,932.6 L429.6,932.5 L430.2,932.4 L430.8,932.4 L431.4,932.5 L432.0,932.6 L432.6,932.7 L433.2,932.9 L433.8,933.0 L434.4,933.1 L435.0,933.2 L435.6,933.3 L436.2,933.3 L436.8,933.3 L437.4,933.2 L438.0,932.9 L438.6,932.6 L439.2,932.2 L439.8,931.8 L440.4,931.3 L441.0,930.9 L441.6,930.6 L442.2,930.3 L442.8,929.9 L443.4,929.4 L444.0,928.7 L444.6,928.0 L445.2,927.3 L445.8,926.7 L446.4,926.1 L447.0,925.6 L447.6,925.4 L448.2,925.5 L448.8,925.9 L449.4,926.6 L450.0,927.5 L450.6,928.6 L451.2,929.7 L451.8,930.8 L452.4,931.8 L453.0,932.6 L453.6,933.1 L454.2,933.3 L454.8,933.3 L455.4,933.3 L456.0,933.3 L456.6,933.3 L457.2,933.3 L457.8,933.3 L458.4,933.1 L459.0,932.7 L459.6,931.9 L460.2,931.0 L460.8,929.8 L461.4,928.7 L462.0,927.6 L462.6,926.6 L463.2,925.9 L463.8,925.5 L464.4,925.4 L465.0,925.6 L465.6,926.2 L466.2,927.0 L466.8,928.0 L467.4,929.1 L468.0,930.3 L468.6,931.3 L469.2,932.1 L469.8,932.6 L470.4,932.9 L471.0,933.1 L471.6,933.2 L472.2,933.3 L472.8,933.3 L473.4,933.3 L474.0,933.3 L474.6,933.3 L475.2,933.3 L475.8,933.3 L476.4,933.3 L477.0,933.3 L477.6,933.3 L478.2,933.3 L478.8,933.3 L479.4,933.3 L480.0,933.3 L480.6,933.3 L481.2,933.3 L481.8,933.3 L482.4,933.3 L483.0,933.3 L483.6,933.3 L484.2,933.3 L484.8,933.3 L485.4,933.3 L486.0,933.3 L486.6,933.3 L487.2,933.3 L487.8,932.8 L488.4,931.6 L489.0,929.9 L489.6,927.7 L490.2,925.3 L490.8,922.9 L491.4,920.7 L492.0,919.0 L492.6,917.8 L493.2,917.3 L493.8,917.6 L494.4,918.5 L495.0,920.0 L495.6,922.0 L496.2,924.1 L496.8,926.3 L497.4,928.4 L498.0,930.1 L498.6,931.2 L499.2,931.8 L499.8,931.8 L500.4,931.8 L501.0,931.4 L501.6,929.6 L502.2,926.5 L502.8,922.2 L503.4,917.1 L504.0,911.4 L504.6,905.4 L505.2,899.6 L505.8,894.1 L506.4,889.4 L507.0,885.7 L507.6,883.4 L508.2,882.5 L508.8,883.1 L509.4,885.1 L510.0,888.4 L510.6,892.9 L511.2,898.3 L511.8,904.1 L512.4,910.2 L513.0,916.1 L513.6,921.5 L514.2,926.0 L514.8,929.4 L515.4,931.1 L516.0,929.6 L516.6,925.8 L517.2,920.4 L517.8,913.9 L518.4,906.6 L519.0,898.9 L519.6,891.3 L520.2,884.2 L520.8,878.1 L521.4,873.3 L522.0,870.1 L522.6,868.8 L523.2,869.4 L523.8,871.9 L524.4,876.1 L525.0,881.8 L525.6,888.6 L526.2,896.2 L526.8,904.0 L527.4,911.6 L528.0,918.6 L528.6,924.5 L529.2,928.9 L529.8,931.7 L530.4,932.6 L531.0,932.5 L531.6,932.5 L532.2,932.3 L532.8,931.7 L533.4,930.7 L534.0,929.5 L534.6,928.1 L535.2,926.6 L535.8,925.2 L536.4,923.8 L537.0,922.8 L537.6,922.1 L538.2,921.9 L538.8,922.1 L539.4,922.7 L540.0,923.8 L540.6,925.1 L541.2,926.5 L541.8,928.0 L542.4,929.3 L543.0,930.3 L543.6,931.0 L544.2,931.2 L544.8,931.2 L545.4,931.2 L546.0,931.2 L546.6,931.3 L547.2,931.3 L547.8,931.5 L548.4,931.5 L549.0,931.4 L549.6,931.1 L550.2,930.7 L550.8,930.3 L551.4,929.7 L552.0,929.2 L552.6,928.7 L553.2,928.4 L553.8,928.3 L554.4,928.5 L555.0,928.8 L555.6,929.4 L556.2,930.1 L556.8,930.8 L557.4,931.5 L558.0,932.2 L558.6,932.8 L559.2,933.1 L559.8,933.3 L560.4,933.3 L561.0,933.3 L561.6,933.3 L562.2,932.6 L562.8,930.7 L563.4,927.7 L564.0,923.6 L564.6,918.8 L565.2,913.6 L565.8,908.3 L566.4,903.1 L567.0,898.5 L567.6,894.6 L568.2,891.7 L568.8,890.0 L569.4,889.5 L570.0,890.3 L570.6,892.2 L571.2,895.2 L571.8,899.1 L572.4,903.7 L573.0,908.7 L573.6,913.9 L574.2,918.9 L574.8,923.4 L575.4,927.2 L576.0,930.1 L576.6,931.0 L577.2,929.5 L577.8,926.8 L578.4,923.1 L579.0,918.7 L579.6,913.9 L580.2,908.9 L580.8,904.1 L581.4,899.9 L582.0,896.3 L582.6,893.8 L583.2,892.4 L583.8,892.1 L584.4,893.1 L585.0,895.1 L585.6,898.1 L586.2,901.9 L586.8,906.3 L587.4,911.0 L588.0,915.8 L588.6,920.3 L589.2,924.3 L589.8,927.6 L590.4,930.0 L591.0,931.2 L591.6,931.5 L592.2,931.7 L592.8,931.9 L593.4,932.2 L594.0,932.5 L594.6,932.7 L595.2,933.0 L595.8,933.1 L596.4,933.3 L597.0,933.3 L597.6,933.3 L598.2,933.3 L598.8,933.3 L599.4,933.3 L600.0,933.3 L600.6,933.3 L601.2,933.3 L601.8,933.3 L602.4,933.3 L603.0,933.2 L603.6,933.1 L604.2,933.0 L604.8,932.7 L605.4,932.5 L606.0,932.1 L606.6,931.8 L607.2,931.4 L607.8,931.1 L608.4,930.7 L609.0,930.4 L609.6,929.9 L610.2,929.4 L610.8,928.7 L611.4,928.1 L612.0,927.6 L612.6,927.1 L613.2,926.7 L613.8,926.4 L614.4,926.3 L615.0,926.3 L615.6,926.4 L616.2,926.7 L616.8,927.1 L617.4,927.6 L618.0,928.1 L618.6,928.7 L619.2,929.3 L619.8,929.9 L620.4,930.5 L621.0,930.9 L621.6,931.3 L622.2,931.7 L622.8,932.2 L623.4,932.5 L624.0,932.8 L624.6,933.0 L625.2,933.2 L625.8,933.3 L626.4,933.2 L627.0,933.1 L627.6,932.8 L628.2,932.5 L628.8,932.1 L629.4,931.7 L630.0,931.3 L630.6,930.8 L631.2,930.3 L631.8,929.9 L632.4,929.5 L633.0,929.2 L633.6,928.8 L634.2,928.5 L634.8,928.2 L635.4,927.9 L636.0,927.8 L636.6,927.7 L637.2,927.7 L637.8,927.8 L638.4,927.9 L639.0,928.1 L639.6,928.4 L640.2,928.7 L640.8,929.1 L641.4,929.6 L642.0,930.2 L642.6,930.7 L643.2,931.2 L643.8,931.7 L644.4,932.0 L645.0,932.3 L645.6,932.5 L646.2,932.7 L646.8,932.9 L647.4,933.1 L648.0,933.2 L648.6,933.3 L649.2,933.3 L649.8,933.3 L650.4,933.3 L651.0,933.3 L651.6,934.3 Z" fill="#dde4f5" fill-opacity="0.8" stroke="none"/>
<path d="M48,934.3 L48.0,933.3 L48.6,933.3 L49.2,933.3 L49.8,933.3 L50.4,933.3 L51.0,933.3 L51.6,933.3 L52.2,933.1 L52.8,932.7 L53.4,932.0 L54.0,931.2 L54.6,930.3 L55.2,929.4 L55.8,928.6 L56.4,927.9 L57.0,927.5 L57.6,927.3 L58.2,927.4 L58.8,927.8 L59.4,928.3 L60.0,929.1 L60.6,930.0 L61.2,930.9 L61.8,931.8 L62.4,932.5 L63.0,933.0 L63.6,933.3 L64.2,933.3 L64.8,933.3 L65.4,933.3 L66.0,933.3 L66.6,933.2 L67.2,931.7 L67.8,928.5 L68.4,923.9 L69.0,918.0 L69.6,911.2 L70.2,904.0 L70.8,896.7 L71.4,889.8 L72.0,883.7 L72.6,878.8 L73.2,875.4 L73.8,873.6 L74.4,873.6 L75.0,875.4 L75.6,878.8 L76.2,883.7 L76.8,889.8 L77.4,896.7 L78.0,904.0 L78.6,911.1 L79.2,917.8 L79.8,923.5 L80.4,928.0 L81.0,930.9 L81.6,932.1 L82.2,932.0 L82.8,931.8 L83.4,931.6 L84.0,931.5 L84.6,931.3 L85.2,931.2 L85.8,931.0 L86.4,930.9 L87.0,930.8 L87.6,930.6 L88.2,930.4 L88.8,930.2 L89.4,930.0 L90.0,929.7 L90.6,929.4 L91.2,929.1 L91.8,928.9 L92.4,928.8 L93.0,928.9 L93.6,929.1 L94.2,929.5 L94.8,930.0 L95.4,930.5 L96.0,931.0 L96.6,931.5 L97.2,931.9 L97.8,932.1 L98.4,931.9 L99.0,931.6 L99.6,931.0 L100.2,930.4 L100.8,929.7 L101.4,929.1 L102.0,928.6 L102.6,928.4 L103.2,928.3 L103.8,928.5 L104.4,928.9 L105.0,929.5 L105.6,930.2 L106.2,930.9 L106.8,931.7 L107.4,932.3 L108.0,932.8 L108.6,933.1 L109.2,933.1 L109.8,932.9 L110.4,932.4 L111.0,931.0 L111.6,928.7 L112.2,925.5 L112.8,921.8 L113.4,917.7 L114.0,913.5 L114.6,909.4 L115.2,905.7 L115.8,902.5 L116.4,900.1 L117.0,898.5 L117.6,897.9 L118.2,898.3 L118.8,899.7 L119.4,902.0 L120.0,905.1 L120.6,908.9 L121.2,913.1 L121.8,917.4 L122.4,921.6 L123.0,925.5 L123.6,928.7 L124.2,931.2 L124.8,932.8 L125.4,933.3 L126.0,933.3 L126.6,933.2 L127.2,933.2 L127.8,933.0 L128.4,932.2 L129.0,930.6 L129.6,928.4 L130.2,925.6 L130.8,922.6 L131.4,919.6 L132.0,916.9 L132.6,914.8 L133.2,913.3 L133.8,912.7 L134.4,912.9 L135.0,914.0 L135.6,915.9 L136.2,918.3 L136.8,920.9 L137.4,923.7 L138.0,926.3 L138.6,928.4 L139.2,930.0 L139.8,930.8 L140.4,930.9 L141.0,929.7 L141.6,927.0 L142.2,922.9 L142.8,917.6 L143.4,911.4 L144.0,904.7 L144.6,897.9 L145.2,891.5 L145.8,885.8 L146.4,881.2 L147.0,877.9 L147.6,876.2 L148.2,876.0 L148.8,877.5 L149.4,880.5 L150.0,884.9 L150.6,890.4 L151.2,896.7 L151.8,903.4 L152.4,910.2 L153.0,916.6 L153.6,922.2 L154.2,926.7 L154.8,929.8 L155.4,931.5 L156.0,931.8 L156.6,931.8 L157.2,931.9 L157.8,932.0 L158.4,931.9 L159.0,931.6 L159.6,931.2 L160.2,930.7 L160.8,930.2 L161.4,929.7 L162.0,929.2 L162.6,928.9 L163.2,928.8 L163.8,928.9 L164.4,929.1 L165.0,929.5 L165.6,930.1 L166.2,930.7 L166.8,931.4 L167.4,932.0 L168.0,932.5 L168.6,932.9 L169.2,933.2 L169.8,933.3 L170.4,933.3 L171.0,933.3 L171.6,933.3 L172.2,932.9 L172.8,932.3 L173.4,931.5 L174.0,930.5 L174.6,929.4 L175.2,928.4 L175.8,927.5 L176.4,926.6 L177.0,926.0 L177.6,925.7 L178.2,925.6 L178.8,925.8 L179.4,926.3 L180.0,927.0 L180.6,927.8 L181.2,928.8 L181.8,929.7 L182.4,930.5 L183.0,931.1 L183.6,931.5 L184.2,931.8 L184.8,932.1 L185.4,931.9 L186.0,930.2 L186.6,927.0 L187.2,922.7 L187.8,917.4 L188.4,911.4 L189.0,905.1 L189.6,899.1 L190.2,893.5 L190.8,888.8 L191.4,885.2 L192.0,883.0 L192.6,882.2 L193.2,883.0 L193.8,885.2 L194.4,888.8 L195.0,893.5 L195.6,899.1 L196.2,905.1 L196.8,911.4 L197.4,917.4 L198.0,922.8 L198.6,927.3 L199.2,930.5 L199.8,932.4 L200.4,932.6 L201.0,930.3 L201.6,926.0 L202.2,919.9 L202.8,912.5 L203.4,904.1 L204.0,895.3 L204.6,886.5 L205.2,878.5 L205.8,871.5 L206.4,866.1 L207.0,862.6 L207.6,861.1 L208.2,861.8 L208.8,864.5 L209.4,869.2 L210.0,875.5 L210.6,883.1 L211.2,891.4 L211.8,900.1 L212.4,908.6 L213.0,916.5 L213.6,923.2 L214.2,928.5 L214.8,931.9 L215.4,932.4 L216.0,930.3 L216.6,927.0 L217.2,922.7 L217.8,917.8 L218.4,912.5 L219.0,907.1 L219.6,901.9 L220.2,897.3 L220.8,893.6 L221.4,890.8 L222.0,889.3 L222.6,889.1 L223.2,890.2 L223.8,892.5 L224.4,896.0 L225.0,900.3 L225.6,905.3 L226.2,910.7 L226.8,916.1 L227.4,921.2 L228.0,925.7 L228.6,929.3 L229.2,931.8 L229.8,933.1 L230.4,933.3 L231.0,932.3 L231.6,930.0 L232.2,926.4 L232.8,921.8 L233.4,916.5 L234.0,910.7 L234.6,904.9 L235.2,899.3 L235.8,894.3 L236.4,890.1 L237.0,887.2 L237.6,885.5 L238.2,885.3 L238.8,886.5 L239.4,889.0 L240.0,892.8 L240.6,897.5 L241.2,902.9 L241.8,908.8 L242.4,914.6 L243.0,920.1 L243.6,925.0 L244.2,928.9 L244.8,931.7 L245.4,933.1 L246.0,933.2 L246.6,933.1 L247.2,933.0 L247.8,932.5 L248.4,931.8 L249.0,930.9 L249.6,929.9 L250.2,928.8 L250.8,927.8 L251.4,926.9 L252.0,926.2 L252.6,925.8 L253.2,925.7 L253.8,925.9 L254.4,926.4 L255.0,927.1 L255.6,928.0 L256.2,929.1 L256.8,930.1 L257.4,931.1 L258.0,931.9 L258.6,932.5 L259.2,932.9 L259.8,933.0 L260.4,933.1 L261.0,933.2 L261.6,933.3 L262.2,933.3 L262.8,933.0 L263.4,932.7 L264.0,932.2 L264.6,931.6 L265.2,931.0 L265.8,930.4 L266.4,929.9 L267.0,929.6 L267.6,929.3 L268.2,929.3 L268.8,929.5 L269.4,929.8 L270.0,930.2 L270.6,930.8 L271.2,931.4 L271.8,932.0 L272.4,932.5 L273.0,932.9 L273.6,933.2 L274.2,933.3 L274.8,933.3 L275.4,933.3 L276.0,933.3 L276.6,933.3 L277.2,933.3 L277.8,933.3 L278.4,933.3 L279.0,933.3 L279.6,933.3 L280.2,933.3 L280.8,933.3 L281.4,933.3 L282.0,933.3 L282.6,933.3 L283.2,933.3 L283.8,933.3 L284.4,933.3 L285.0,933.3 L285.6,933.3 L286.2,933.3 L286.8,933.3 L287.4,933.3 L288.0,933.3 L288.6,933.3 L289.2,933.3 L289.8,933.3 L290.4,933.3 L291.0,933.2 L291.6,931.9 L292.2,928.9 L292.8,924.4 L293.4,918.5 L294.0,911.7 L294.6,904.3 L295.2,896.8 L295.8,889.7 L296.4,883.3 L297.0,878.2 L297.6,874.6 L298.2,872.8 L298.8,872.8 L299.4,874.6 L300.0,878.2 L300.6,883.2 L301.2,889.4 L301.8,896.4 L302.4,903.6 L303.0,910.7 L303.6,917.2 L304.2,922.8 L304.8,927.1 L305.4,930.1 L306.0,931.6 L306.6,931.9 L307.2,932.1 L307.8,932.4 L308.4,932.5 L309.0,932.3 L309.6,931.9 L310.2,931.3 L310.8,930.5 L311.4,929.7 L312.0,928.9 L312.6,928.2 L313.2,927.7 L313.8,927.5 L314.4,927.5 L315.0,927.8 L315.6,928.3 L316.2,929.0 L316.8,929.9 L317.4,930.8 L318.0,931.6 L318.6,932.3 L319.2,932.9 L319.8,933.2 L320.4,933.3 L321.0,933.3 L321.6,932.8 L322.2,930.8 L322.8,927.5 L323.4,923.0 L324.0,917.7 L324.6,911.7 L325.2,905.6 L325.8,899.6 L326.4,894.1 L327.0,889.5 L327.6,886.0 L328.2,883.7 L328.8,883.0 L329.4,883.7 L330.0,885.9 L330.6,889.3 L331.2,893.7 L331.8,899.0 L332.4,904.8 L333.0,910.6 L333.6,916.3 L334.2,921.4 L334.8,925.7 L335.4,928.7 L336.0,930.4 L336.6,929.8 L337.2,926.9 L337.8,922.4 L338.4,916.6 L339.0,909.8 L339.6,902.5 L340.2,895.1 L340.8,887.9 L341.4,881.5 L342.0,876.2 L342.6,872.3 L343.2,870.1 L343.8,869.7 L344.4,871.2 L345.0,874.3 L345.6,879.1 L346.2,885.2 L346.8,892.3 L347.4,899.9 L348.0,907.6 L348.6,915.0 L349.2,921.6 L349.8,926.9 L350.4,930.8 L351.0,932.9 L351.6,933.3 L352.2,933.3 L352.8,933.3 L353.4,933.3 L354.0,933.3 L354.6,933.3 L355.2,933.2 L355.8,932.6 L356.4,931.6 L357.0,930.2 L357.6,928.6 L358.2,926.9 L358.8,925.3 L359.4,923.8 L360.0,922.7 L360.6,922.0 L361.2,921.8 L361.8,922.1 L362.4,922.9 L363.0,924.1 L363.6,925.6 L364.2,927.3 L364.8,928.9 L365.4,930.4 L366.0,931.6 L366.6,932.5 L367.2,932.8 L367.8,932.9 L368.4,933.1 L369.0,933.2 L369.6,933.2 L370.2,933.3 L370.8,933.3 L371.4,933.3 L372.0,933.3 L372.6,933.3 L373.2,933.3 L373.8,933.3 L374.4,933.3 L375.0,933.3 L375.6,933.3 L376.2,933.3 L376.8,933.3 L377.4,933.3 L378.0,933.2 L378.6,932.9 L379.2,932.5 L379.8,931.9 L380.4,931.2 L381.0,930.4 L381.6,929.6 L382.2,928.3 L382.8,926.0 L383.4,922.9 L384.0,919.1 L384.6,915.0 L385.2,910.6 L385.8,906.4 L386.4,902.4 L387.0,899.0 L387.6,896.2 L388.2,894.2 L388.8,893.0 L389.4,892.8 L390.0,893.8 L390.6,895.8 L391.2,898.7 L391.8,902.4 L392.4,906.7 L393.0,911.4 L393.6,916.3 L394.2,920.9 L394.8,924.9 L395.4,928.3 L396.0,930.6 L396.6,931.9 L397.2,932.0 L397.8,931.7 L398.4,931.3 L399.0,930.6 L399.6,929.7 L400.2,928.6 L400.8,927.5 L401.4,926.4 L402.0,925.5 L402.6,924.9 L403.2,924.5 L403.8,924.5 L404.4,924.8 L405.0,925.5 L405.6,926.4 L406.2,927.5 L406.8,928.7 L407.4,929.9 L408.0,931.1 L408.6,932.1 L409.2,932.8 L409.8,933.2 L410.4,933.3 L411.0,933.3 L411.6,933.2 L412.2,933.0 L412.8,932.4 L413.4,931.3 L414.0,930.0 L414.6,928.5 L415.2,927.0 L415.8,925.5 L416.4,924.3 L417.0,923.4 L417.6,922.9 L418.2,922.9 L418.8,923.3 L419.4,924.1 L420.0,925.2 L420.6,926.5 L421.2,927.8 L421.8,929.1 L422.4,930.2 L423.0,931.0 L423.6,931.6 L424.2,931.8 L424.8,931.8 L425.4,931.9 L426.0,932.1 L426.6,932.4 L427.2,932.6 L427.8,932.6 L428.4,932.3 L429.0,931.9 L429.6,931.2 L430.2,930.4 L430.8,929.7 L431.4,929.1 L432.0,928.6 L432.6,928.4 L433.2,928.3 L433.8,928.5 L434.4,928.9 L435.0,929.5 L435.6,930.2 L436.2,930.9 L436.8,931.7 L437.4,932.3 L438.0,932.9 L438.6,933.2 L439.2,933.3 L439.8,933.3 L440.4,933.3 L441.0,933.1 L441.6,932.0 L442.2,929.9 L442.8,927.2 L443.4,923.8 L444.0,919.9 L444.6,915.9 L445.2,911.8 L445.8,908.0 L446.4,904.7 L447.0,902.1 L447.6,900.3 L448.2,899.5 L448.8,899.6 L449.4,900.7 L450.0,902.7 L450.6,905.5 L451.2,909.0 L451.8,912.8 L452.4,916.8 L453.0,920.8 L453.6,924.4 L454.2,927.6 L454.8,930.0 L455.4,931.7 L456.0,932.4 L456.6,932.3 L457.2,930.9 L457.8,928.4 L458.4,924.7 L459.0,920.2 L459.6,915.0 L460.2,909.5 L460.8,904.0 L461.4,898.9 L462.0,894.5 L462.6,891.0 L463.2,888.6 L463.8,887.6 L464.4,887.9 L465.0,889.6 L465.6,892.5 L466.2,896.5 L466.8,901.3 L467.4,906.7 L468.0,912.2 L468.6,917.7 L469.2,922.7 L469.8,927.0 L470.4,930.3 L471.0,932.4 L471.6,933.2 L472.2,933.3 L472.8,933.3 L473.4,933.3 L474.0,933.1 L474.6,932.5 L475.2,931.6 L475.8,930.5 L476.4,929.3 L477.0,928.1 L477.6,926.9 L478.2,926.0 L478.8,925.3 L479.4,924.9 L480.0,925.0 L480.6,925.3 L481.2,926.0 L481.8,927.0 L482.4,928.1 L483.0,929.3 L483.6,930.4 L484.2,931.4 L484.8,932.2 L485.4,932.6 L486.0,932.7 L486.6,932.8 L487.2,932.9 L487.8,933.0 L488.4,933.1 L489.0,933.2 L489.6,933.3 L490.2,933.3 L490.8,933.3 L491.4,933.3 L492.0,933.3 L492.6,933.3 L493.2,933.3 L493.8,933.3 L494.4,933.3 L495.0,933.3 L495.6,933.3 L496.2,933.3 L496.8,933.3 L497.4,933.3 L498.0,933.3 L498.6,933.3 L499.2,933.3 L499.8,933.3 L500.4,933.1 L501.0,933.0 L501.6,932.7 L502.2,932.4 L502.8,931.8 L503.4,931.0 L504.0,930.0 L504.6,928.9 L505.2,927.8 L505.8,926.9 L506.4,926.2 L507.0,925.7 L507.6,925.4 L508.2,925.4 L508.8,925.8 L509.4,926.3 L510.0,927.1 L510.6,928.0 L511.2,929.0 L511.8,929.9 L512.4,930.6 L513.0,931.1 L513.6,931.4 L514.2,931.4 L514.8,931.3 L515.4,931.2 L516.0,931.2 L516.6,931.3 L517.2,931.4 L517.8,931.6 L518.4,931.9 L519.0,932.2 L519.6,932.5 L520.2,932.7 L520.8,932.9 L521.4,933.1 L522.0,933.2 L522.6,933.3 L523.2,933.3 L523.8,933.3 L524.4,933.2 L525.0,933.1 L525.6,933.0 L526.2,932.9 L526.8,932.8 L527.4,932.7 L528.0,932.6 L528.6,932.6 L529.2,932.5 L529.8,932.4 L530.4,932.4 L531.0,932.4 L531.6,932.4 L532.2,932.4 L532.8,932.2 L533.4,931.9 L534.0,931.5 L534.6,931.0 L535.2,930.5 L535.8,930.1 L536.4,929.7 L537.0,929.4 L537.6,929.2 L538.2,929.3 L538.8,929.5 L539.4,929.8 L540.0,930.2 L540.6,930.8 L541.2,931.4 L541.8,932.0 L542.4,932.5 L543.0,932.9 L543.6,933.2 L544.2,933.3 L544.8,933.3 L545.4,933.3 L546.0,933.3 L546.6,933.3 L547.2,933.2 L547.8,933.0 L548.4,932.5 L549.0,931.9 L549.6,931.2 L550.2,930.4 L550.8,929.7 L551.4,929.1 L552.0,928.6 L552.6,928.4 L553.2,928.3 L553.8,928.5 L554.4,928.9 L555.0,929.5 L555.6,930.2 L556.2,930.9 L556.8,931.7 L557.4,932.3 L558.0,932.9 L558.6,933.2 L559.2,933.3 L559.8,933.3 L560.4,933.3 L561.0,933.3 L561.6,933.3 L562.2,933.3 L562.8,933.3 L563.4,933.2 L564.0,932.9 L564.6,932.3 L565.2,931.7 L565.8,930.9 L566.4,930.2 L567.0,929.5 L567.6,928.9 L568.2,928.5 L568.8,928.3 L569.4,928.4 L570.0,928.6 L570.6,929.0 L571.2,929.5 L571.8,929.9 L572.4,930.4 L573.0,930.8 L573.6,931.1 L574.2,931.3 L574.8,931.3 L575.4,931.2 L576.0,931.2 L576.6,931.2 L577.2,931.4 L577.8,931.6 L578.4,931.8 L579.0,931.8 L579.6,931.6 L580.2,931.3 L580.8,930.7 L581.4,930.1 L582.0,929.5 L582.6,928.9 L583.2,928.5 L583.8,928.3 L584.4,928.4 L585.0,928.6 L585.6,929.1 L586.2,929.7 L586.8,930.4 L587.4,931.2 L588.0,931.9 L588.6,932.5 L589.2,933.0 L589.8,933.2 L590.4,933.2 L591.0,933.1 L591.6,932.9 L592.2,932.8 L592.8,932.6 L593.4,932.4 L594.0,932.2 L594.6,932.1 L595.2,931.8 L595.8,931.7 L596.4,931.5 L597.0,931.3 L597.6,931.2 L598.2,931.2 L598.8,931.2 L599.4,931.3 L600.0,931.3 L600.6,931.5 L601.2,931.6 L601.8,931.8 L602.4,932.0 L603.0,932.2 L603.6,932.4 L604.2,932.6 L604.8,932.7 L605.4,932.9 L606.0,933.1 L606.6,933.2 L607.2,933.2 L607.8,932.0 L608.4,928.7 L609.0,923.8 L609.6,917.4 L610.2,910.0 L610.8,902.0 L611.4,893.9 L612.0,886.2 L612.6,879.2 L613.2,873.5 L613.8,869.4 L614.4,867.1 L615.0,866.8 L615.6,868.5 L616.2,872.0 L616.8,877.2 L617.4,883.7 L618.0,891.3 L618.6,899.3 L619.2,907.4 L619.8,915.1 L620.4,921.8 L621.0,927.3 L621.6,931.1 L622.2,933.1 L622.8,933.3 L623.4,933.3 L624.0,933.3 L624.6,933.1 L625.2,932.8 L625.8,932.4 L626.4,931.8 L627.0,931.2 L627.6,930.6 L628.2,930.1 L628.8,929.7 L629.4,929.4 L630.0,929.3 L630.6,929.4 L631.2,929.7 L631.8,930.1 L632.4,930.6 L633.0,931.2 L633.6,931.7 L634.2,932.1 L634.8,932.4 L635.4,932.6 L636.0,932.5 L636.6,932.4 L637.2,932.1 L637.8,932.0 L638.4,931.7 L639.0,931.3 L639.6,930.7 L640.2,930.1 L640.8,929.5 L641.4,928.9 L642.0,928.4 L642.6,928.0 L643.2,927.8 L643.8,927.8 L644.4,928.0 L645.0,928.4 L645.6,929.0 L646.2,929.7 L646.8,930.5 L647.4,931.2 L648.0,932.0 L648.6,932.6 L649.2,933.0 L649.8,933.3 L650.4,933.3 L651.0,933.3 L651.6,934.3 Z" fill="#dcdcdc" fill-opacity="0.8" stroke="none"/>
<path d="M48,934.3 L48.0,933.3 L48.6,933.3 L49.2,933.3 L49.8,933.3 L50.4,933.3 L51.0,933.3 L51.6,933.3 L52.2,933.2 L52.8,933.0 L53.4,932.5 L54.0,931.9 L54.6,931.2 L55.2,930.4 L55.8,929.7 L56.4,929.0 L57.0,928.5 L57.6,928.0 L58.2,927.8 L58.8,927.8 L59.4,928.0 L60.0,928.4 L60.6,929.0 L61.2,929.8 L61.8,930.6 L62.4,931.4 L63.0,932.1 L63.6,932.6 L64.2,932.8 L64.8,932.8 L65.4,932.8 L66.0,932.7 L66.6,932.5 L67.2,932.4 L67.8,932.4 L68.4,932.0 L69.0,931.2 L69.6,929.8 L70.2,928.1 L70.8,926.2 L71.4,924.2 L72.0,922.4 L72.6,921.0 L73.2,920.0 L73.8,919.5 L74.4,919.6 L75.0,920.2 L75.6,921.3 L76.2,922.9 L76.8,924.7 L77.4,926.6 L78.0,928.4 L78.6,930.1 L79.2,931.3 L79.8,932.0 L80.4,932.2 L81.0,932.2 L81.6,930.7 L82.2,927.7 L82.8,923.1 L83.4,917.3 L84.0,910.6 L84.6,903.5 L85.2,896.3 L85.8,889.4 L86.4,883.3 L87.0,878.4 L87.6,874.9 L88.2,873.1 L88.8,873.1 L89.4,874.9 L90.0,878.4 L90.6,883.3 L91.2,889.4 L91.8,896.4 L92.4,903.7 L93.0,911.0 L93.6,917.8 L94.2,923.8 L94.8,928.5 L95.4,931.7 L96.0,933.2 L96.6,933.3 L97.2,933.2 L97.8,932.9 L98.4,932.4 L99.0,931.6 L99.6,930.8 L100.2,929.8 L100.8,929.0 L101.4,928.2 L102.0,927.7 L102.6,927.4 L103.2,927.3 L103.8,927.5 L104.4,928.0 L105.0,928.7 L105.6,929.5 L106.2,930.4 L106.8,931.2 L107.4,931.9 L108.0,932.3 L108.6,932.5 L109.2,932.4 L109.8,932.1 L110.4,931.9 L111.0,931.7 L111.6,931.5 L112.2,931.2 L112.8,930.7 L113.4,930.1 L114.0,929.3 L114.6,928.6 L115.2,927.9 L115.8,927.3 L116.4,926.9 L117.0,926.7 L117.6,926.7 L118.2,927.1 L118.8,927.6 L119.4,928.3 L120.0,929.1 L120.6,930.0 L121.2,930.8 L121.8,931.6 L122.4,932.3 L123.0,932.7 L123.6,932.9 L124.2,932.8 L124.8,932.7 L125.4,932.6 L126.0,932.5 L126.6,932.5 L127.2,932.4 L127.8,932.4 L128.4,932.3 L129.0,931.9 L129.6,931.4 L130.2,930.8 L130.8,930.2 L131.4,929.5 L132.0,928.9 L132.6,928.5 L133.2,928.2 L133.8,928.2 L134.4,928.3 L135.0,928.7 L135.6,929.2 L136.2,929.8 L136.8,930.5 L137.4,931.3 L138.0,932.0 L138.6,932.6 L139.2,933.0 L139.8,933.3 L140.4,933.3 L141.0,933.3 L141.6,933.3 L142.2,933.2 L142.8,932.7 L143.4,931.9 L144.0,930.8 L144.6,929.5 L145.2,928.1 L145.8,926.8 L146.4,925.7 L147.0,924.9 L147.6,924.4 L148.2,924.3 L148.8,924.7 L149.4,925.4 L150.0,926.4 L150.6,927.7 L151.2,929.0 L151.8,930.4 L152.4,931.6 L153.0,932.5 L153.6,933.1 L154.2,933.3 L154.8,933.3 L155.4,933.3 L156.0,933.3 L156.6,933.3 L157.2,933.3 L157.8,933.2 L158.4,933.0 L159.0,932.5 L159.6,931.9 L160.2,931.2 L160.8,930.4 L161.4,929.7 L162.0,929.1 L162.6,928.6 L163.2,928.4 L163.8,928.3 L164.4,928.5 L165.0,928.9 L165.6,929.5 L166.2,930.1 L166.8,930.7 L167.4,931.2 L168.0,931.6 L168.6,931.9 L169.2,931.9 L169.8,931.9 L170.4,931.8 L171.0,931.8 L171.6,931.9 L172.2,931.8 L172.8,931.6 L173.4,931.1 L174.0,930.6 L174.6,929.9 L175.2,929.1 L175.8,928.3 L176.4,927.8 L177.0,927.4 L177.6,927.3 L178.2,927.5 L178.8,927.9 L179.4,928.6 L180.0,929.4 L180.6,930.3 L181.2,931.2 L181.8,932.0 L182.4,932.7 L183.0,933.1 L183.6,933.2 L184.2,933.1 L184.8,932.9 L185.4,932.7 L186.0,932.5 L186.6,932.3 L187.2,931.8 L187.8,931.0 L188.4,929.9 L189.0,928.5 L189.6,927.2 L190.2,925.8 L190.8,924.7 L191.4,923.9 L192.0,923.4 L192.6,923.3 L193.2,923.7 L193.8,924.5 L194.4,925.6 L195.0,927.0 L195.6,928.4 L196.2,929.9 L196.8,931.2 L197.4,932.2 L198.0,932.9 L198.6,933.2 L199.2,933.2 L199.8,933.0 L200.4,932.8 L201.0,932.4 L201.6,932.1 L202.2,931.6 L202.8,930.9 L203.4,930.0 L204.0,928.9 L204.6,927.7 L205.2,926.5 L205.8,925.5 L206.4,924.6 L207.0,924.0 L207.6,923.6 L208.2,923.6 L208.8,923.8 L209.4,924.4 L210.0,925.3 L210.6,926.4 L211.2,927.7 L211.8,928.9 L212.4,930.1 L213.0,931.1 L213.6,931.8 L214.2,932.2 L214.8,932.4 L215.4,932.5 L216.0,932.6 L216.6,932.4 L217.2,932.0 L217.8,931.2 L218.4,930.2 L219.0,929.2 L219.6,928.1 L220.2,927.2 L220.8,926.4 L221.4,925.9 L222.0,925.7 L222.6,925.9 L223.2,926.3 L223.8,927.0 L224.4,927.9 L225.0,928.9 L225.6,930.0 L226.2,931.0 L226.8,931.9 L227.4,932.6 L228.0,933.0 L228.6,933.0 L229.2,932.7 L229.8,932.4 L230.4,932.1 L231.0,931.9 L231.6,931.6 L232.2,931.2 L232.8,930.6 L233.4,929.8 L234.0,928.9 L234.6,928.0 L235.2,927.2 L235.8,926.6 L236.4,926.2 L237.0,926.1 L237.6,926.2 L238.2,926.5 L238.8,927.1 L239.4,927.8 L240.0,928.6 L240.6,929.5 L241.2,930.5 L241.8,931.3 L242.4,932.1 L243.0,932.8 L243.6,933.2 L244.2,933.3 L244.8,933.3 L245.4,933.3 L246.0,933.3 L246.6,933.3 L247.2,933.3 L247.8,933.0 L248.4,932.5 L249.0,931.8 L249.6,930.9 L250.2,930.0 L250.8,929.1 L251.4,928.3 L252.0,927.8 L252.6,927.4 L253.2,927.3 L253.8,927.5 L254.4,927.9 L255.0,928.6 L255.6,929.4 L256.2,930.3 L256.8,931.2 L257.4,932.0 L258.0,932.7 L258.6,933.1 L259.2,933.3 L259.8,933.3 L260.4,933.3 L261.0,933.3 L261.6,933.3 L262.2,933.2 L262.8,932.9 L263.4,932.4 L264.0,931.6 L264.6,930.8 L265.2,929.8 L265.8,929.0 L266.4,928.2 L267.0,927.7 L267.6,927.4 L268.2,927.3 L268.8,927.5 L269.4,928.0 L270.0,928.7 L270.6,929.5 L271.2,930.5 L271.8,931.3 L272.4,932.1 L273.0,932.7 L273.6,933.0 L274.2,933.0 L274.8,932.8 L275.4,932.6 L276.0,932.4 L276.6,932.2 L277.2,932.0 L277.8,931.6 L278.4,931.1 L279.0,930.4 L279.6,929.7 L280.2,929.1 L280.8,928.5 L281.4,928.0 L282.0,927.7 L282.6,927.7 L283.2,927.8 L283.8,928.2 L284.4,928.7 L285.0,929.4 L285.6,930.2 L286.2,930.9 L286.8,931.7 L287.4,932.3 L288.0,932.8 L288.6,933.1 L289.2,933.0 L289.8,932.8 L290.4,932.6 L291.0,932.4 L291.6,932.2 L292.2,932.1 L292.8,932.0 L293.4,932.1 L294.0,932.2 L294.6,932.3 L295.2,932.6 L295.8,932.8 L296.4,933.0 L297.0,933.2 L297.6,933.3 L298.2,933.3 L298.8,933.3 L299.4,933.3 L300.0,933.3 L300.6,933.3 L301.2,933.3 L301.8,933.3 L302.4,933.3 L303.0,933.3 L303.6,933.3 L304.2,933.3 L304.8,933.3 L305.4,933.3 L306.0,933.3 L306.6,933.3 L307.2,933.3 L307.8,933.3 L308.4,933.2 L309.0,932.5 L309.6,930.9 L310.2,928.6 L310.8,925.8 L311.4,922.8 L312.0,919.8 L312.6,917.2 L313.2,915.1 L313.8,913.8 L314.4,913.3 L315.0,913.8 L315.6,915.1 L316.2,917.2 L316.8,919.8 L317.4,922.8 L318.0,925.8 L318.6,928.6 L319.2,930.9 L319.8,932.4 L320.4,933.1 L321.0,933.1 L321.6,932.9 L322.2,932.8 L322.8,932.7 L323.4,932.5 L324.0,932.4 L324.6,932.3 L325.2,932.3 L325.8,932.3 L326.4,932.3 L327.0,932.4 L327.6,932.5 L328.2,932.6 L328.8,932.7 L329.4,932.9 L330.0,932.9 L330.6,932.9 L331.2,932.7 L331.8,932.4 L332.4,932.1 L333.0,931.7 L333.6,931.5 L334.2,931.3 L334.8,931.2 L335.4,931.2 L336.0,931.4 L336.6,931.6 L337.2,931.9 L337.8,931.9 L338.4,930.8 L339.0,928.9 L339.6,926.1 L340.2,922.9 L340.8,919.5 L341.4,916.3 L342.0,913.6 L342.6,911.6 L343.2,910.6 L343.8,910.6 L344.4,911.6 L345.0,913.4 L345.6,916.0 L346.2,918.9 L346.8,922.0 L347.4,925.0 L348.0,927.5 L348.6,929.4 L349.2,930.5 L349.8,930.7 L350.4,930.6 L351.0,930.5 L351.6,930.5 L352.2,930.6 L352.8,930.7 L353.4,930.9 L354.0,931.1 L354.6,931.4 L355.2,931.7 L355.8,931.9 L356.4,932.2 L357.0,932.4 L357.6,932.6 L358.2,932.8 L358.8,933.0 L359.4,933.2 L360.0,933.2 L360.6,933.3 L361.2,933.3 L361.8,933.3 L362.4,933.3 L363.0,933.3 L363.6,933.3 L364.2,933.3 L364.8,933.3 L365.4,933.3 L366.0,933.3 L366.6,933.3 L367.2,933.3 L367.8,933.3 L368.4,933.3 L369.0,933.3 L369.6,933.3 L370.2,933.3 L370.8,933.2 L371.4,933.2 L372.0,933.1 L372.6,933.0 L373.2,932.9 L373.8,932.7 L374.4,932.6 L375.0,932.5 L375.6,932.4 L376.2,932.3 L376.8,932.2 L377.4,932.2 L378.0,932.2 L378.6,932.2 L379.2,932.2 L379.8,932.2 L380.4,932.3 L381.0,932.4 L381.6,932.5 L382.2,932.6 L382.8,932.8 L383.4,932.9 L384.0,933.0 L384.6,932.7 L385.2,932.0 L385.8,930.9 L386.4,929.5 L387.0,928.0 L387.6,926.6 L388.2,925.2 L388.8,924.2 L389.4,923.5 L390.0,923.3 L390.6,923.5 L391.2,924.2 L391.8,925.2 L392.4,926.6 L393.0,928.0 L393.6,929.6 L394.2,930.9 L394.8,932.1 L395.4,932.9 L396.0,933.3 L396.6,933.3 L397.2,933.3 L397.8,933.1 L398.4,932.4 L399.0,931.0 L399.6,929.1 L400.2,926.9 L400.8,924.7 L401.4,922.5 L402.0,920.6 L402.6,919.2 L403.2,918.5 L403.8,918.3 L404.4,918.9 L405.0,920.1 L405.6,921.8 L406.2,923.9 L406.8,926.2 L407.4,928.4 L408.0,930.4 L408.6,932.0 L409.2,933.0 L409.8,933.3 L410.4,933.3 L411.0,933.0 L411.6,930.6 L412.2,926.0 L412.8,919.3 L413.4,911.1 L414.0,901.9 L414.6,892.0 L415.2,882.2 L415.8,873.1 L416.4,865.1 L417.0,858.8 L417.6,854.5 L418.2,852.5 L418.8,852.9 L419.4,855.7 L420.0,860.6 L420.6,867.4 L421.2,875.7 L421.8,885.0 L422.4,894.6 L423.0,904.1 L423.6,912.9 L424.2,920.5 L424.8,926.3 L425.4,930.1 L426.0,931.6 L426.6,931.6 L427.2,931.6 L427.8,931.5 L428.4,931.2 L429.0,930.6 L429.6,929.9 L430.2,929.2 L430.8,928.4 L431.4,927.7 L432.0,927.1 L432.6,926.7 L433.2,926.6 L433.8,926.6 L434.4,927.0 L435.0,927.5 L435.6,928.3 L436.2,929.1 L436.8,930.1 L437.4,931.0 L438.0,931.7 L438.6,932.3 L439.2,932.7 L439.8,932.8 L440.4,932.9 L441.0,933.0 L441.6,933.1 L442.2,933.2 L442.8,933.0 L443.4,932.5 L444.0,931.8 L444.6,930.8 L445.2,929.8 L445.8,928.8 L446.4,927.8 L447.0,927.0 L447.6,926.5 L448.2,926.3 L448.8,926.4 L449.4,926.8 L450.0,927.5 L450.6,928.4 L451.2,929.4 L451.8,930.5 L452.4,931.5 L453.0,932.3 L453.6,932.9 L454.2,933.2 L454.8,933.2 L455.4,933.0 L456.0,932.8 L456.6,932.5 L457.2,932.0 L457.8,930.9 L458.4,929.3 L459.0,927.4 L459.6,925.3 L460.2,923.2 L460.8,921.3 L461.4,919.7 L462.0,918.7 L462.6,918.3 L463.2,918.5 L463.8,919.4 L464.4,920.8 L465.0,922.6 L465.6,924.6 L466.2,926.7 L466.8,928.8 L467.4,930.6 L468.0,932.1 L468.6,933.0 L469.2,933.3 L469.8,933.3 L470.4,933.3 L471.0,933.3 L471.6,933.3 L472.2,933.3 L472.8,933.3 L473.4,933.1 L474.0,932.5 L474.6,931.6 L475.2,930.4 L475.8,929.0 L476.4,927.7 L477.0,926.4 L477.6,925.4 L478.2,924.7 L478.8,924.3 L479.4,924.4 L480.0,924.9 L480.6,925.7 L481.2,926.8 L481.8,928.1 L482.4,929.5 L483.0,930.8 L483.6,931.9 L484.2,932.7 L484.8,933.1 L485.4,933.1 L486.0,932.9 L486.6,932.7 L487.2,932.4 L487.8,932.2 L488.4,931.9 L489.0,931.6 L489.6,931.0 L490.2,930.3 L490.8,929.6 L491.4,928.8 L492.0,928.2 L492.6,927.6 L493.2,927.1 L493.8,926.7 L494.4,926.5 L495.0,926.4 L495.6,926.4 L496.2,926.7 L496.8,927.1 L497.4,927.6 L498.0,928.2 L498.6,928.9 L499.2,929.4 L499.8,929.9 L500.4,930.2 L501.0,930.4 L501.6,930.6 L502.2,930.9 L502.8,930.9 L503.4,930.6 L504.0,930.1 L504.6,929.4 L505.2,928.7 L505.8,927.9 L506.4,927.2 L507.0,926.6 L507.6,926.3 L508.2,926.3 L508.8,926.6 L509.4,927.1 L510.0,927.9 L510.6,928.9 L511.2,930.0 L511.8,931.0 L512.4,931.9 L513.0,932.7 L513.6,933.1 L514.2,933.3 L514.8,933.3 L515.4,933.3 L516.0,933.3 L516.6,933.3 L517.2,933.1 L517.8,932.0 L518.4,930.0 L519.0,927.4 L519.6,924.4 L520.2,921.2 L520.8,918.2 L521.4,915.6 L522.0,913.6 L522.6,912.5 L523.2,912.4 L523.8,913.2 L524.4,914.8 L525.0,917.2 L525.6,920.2 L526.2,923.3 L526.8,926.4 L527.4,929.2 L528.0,931.4 L528.6,932.8 L529.2,933.3 L529.8,933.3 L530.4,933.3 L531.0,931.7 L531.6,926.9 L532.2,919.3 L532.8,909.3 L533.4,897.6 L534.0,884.7 L534.6,871.5 L535.2,858.7 L535.8,847.2 L536.4,837.4 L537.0,830.2 L537.6,825.8 L538.2,824.5 L538.8,826.5 L539.4,831.5 L540.0,839.2 L540.6,849.3 L541.2,861.2 L541.8,874.0 L542.4,887.0 L543.0,899.4 L543.6,910.5 L544.2,919.5 L544.8,926.0 L545.4,929.5 L546.0,930.0 L546.6,928.1 L547.2,923.0 L547.8,915.0 L548.4,904.5 L549.0,892.2 L549.6,878.8 L550.2,865.1 L550.8,852.0 L551.4,840.2 L552.0,830.5 L552.6,823.4 L553.2,819.3 L553.8,818.5 L554.4,821.1 L555.0,826.8 L555.6,835.4 L556.2,846.4 L556.8,859.1 L557.4,872.7 L558.0,886.5 L558.6,899.7 L559.2,911.6 L559.8,921.3 L560.4,928.4 L561.0,932.4 L561.6,933.2 L562.2,933.3 L562.8,933.3 L563.4,932.9 L564.0,932.1 L564.6,930.9 L565.2,929.6 L565.8,928.0 L566.4,926.6 L567.0,925.2 L567.6,924.2 L568.2,923.5 L568.8,923.3 L569.4,923.5 L570.0,924.2 L570.6,925.2 L571.2,926.6 L571.8,928.0 L572.4,929.4 L573.0,930.7 L573.6,931.7 L574.2,932.3 L574.8,932.4 L575.4,932.3 L576.0,932.1 L576.6,932.0 L577.2,932.0 L577.8,931.9 L578.4,931.7 L579.0,930.9 L579.6,929.6 L580.2,928.1 L580.8,926.3 L581.4,924.5 L582.0,922.8 L582.6,921.4 L583.2,920.3 L583.8,919.8 L584.4,919.8 L585.0,920.4 L585.6,921.5 L586.2,923.0 L586.8,924.9 L587.4,926.8 L588.0,928.7 L588.6,930.4 L589.2,931.7 L589.8,932.6 L590.4,932.9 L591.0,933.0 L591.6,933.1 L592.2,931.3 L592.8,926.6 L593.4,919.4 L594.0,910.0 L594.6,899.2 L595.2,887.5 L595.8,875.6 L596.4,864.2 L597.0,854.1 L597.6,845.7 L598.2,839.7 L598.8,836.3 L599.4,835.9 L600.0,838.3 L600.6,843.4 L601.2,851.1 L601.8,860.7 L602.4,871.7 L603.0,883.5 L603.6,895.4 L604.2,906.6 L604.8,916.5 L605.4,924.4 L606.0,930.0 L606.6,932.9 L607.2,932.9 L607.8,932.0 L608.4,930.7 L609.0,929.1 L609.6,927.3 L610.2,925.5 L610.8,923.9 L611.4,922.6 L612.0,921.7 L612.6,921.3 L613.2,921.5 L613.8,922.2 L614.4,923.4 L615.0,924.9 L615.6,926.7 L616.2,928.5 L616.8,930.2 L617.4,931.6 L618.0,932.7 L618.6,933.2 L619.2,933.3 L619.8,933.3 L620.4,933.3 L621.0,933.3 L621.6,933.3 L622.2,933.3 L622.8,933.3 L623.4,933.3 L624.0,933.3 L624.6,933.0 L625.2,932.5 L625.8,931.7 L626.4,930.7 L627.0,929.6 L627.6,928.6 L628.2,927.7 L628.8,926.9 L629.4,926.5 L630.0,926.3 L630.6,926.5 L631.2,926.9 L631.8,927.7 L632.4,928.6 L633.0,929.6 L633.6,930.7 L634.2,931.6 L634.8,932.3 L635.4,932.8 L636.0,933.0 L636.6,932.4 L637.2,930.1 L637.8,926.0 L638.4,920.3 L639.0,913.5 L639.6,905.9 L640.2,898.0 L640.8,890.3 L641.4,883.1 L642.0,877.0 L642.6,872.2 L643.2,869.2 L643.8,868.0 L644.4,868.8 L645.0,871.4 L645.6,875.8 L646.2,881.7 L646.8,888.6 L647.4,896.3 L648.0,904.3 L648.6,912.0 L649.2,919.0 L649.8,925.0 L650.4,929.5 L651.0,932.3 L651.6,934.3 Z" fill="#fbdedc" fill-opacity="0.8" stroke="none"/>
<path d="M48.0,933.3 L48.6,933.3 L49.2,933.3 L49.8,933.3 L50.4,933.3 L51.0,933.3 L51.6,933.3 L52.2,933.2 L52.8,932.7 L53.4,931.9 L54.0,930.8 L54.6,929.5 L55.2,928.1 L55.8,926.8 L56.4,925.7 L57.0,924.9 L57.6,924.4 L58.2,924.3 L58.8,924.6 L59.4,925.1 L60.0,926.0 L60.6,927.0 L61.2,928.1 L61.8,929.2 L62.4,930.2 L63.0,931.1 L63.6,931.6 L64.2,931.9 L64.8,932.0 L65.4,932.2 L66.0,932.4 L66.6,932.7 L67.2,932.9 L67.8,933.1 L68.4,933.2 L69.0,933.3 L69.6,933.3 L70.2,933.3 L70.8,933.3 L71.4,933.3 L72.0,933.3 L72.6,933.2 L73.2,933.1 L73.8,932.8 L74.4,932.5 L75.0,932.2 L75.6,931.9 L76.2,931.7 L76.8,931.5 L77.4,931.3 L78.0,931.3 L78.6,931.4 L79.2,931.5 L79.8,931.7 L80.4,931.9 L81.0,932.0 L81.6,932.1 L82.2,932.1 L82.8,931.9 L83.4,931.1 L84.0,929.9 L84.6,928.4 L85.2,926.8 L85.8,925.2 L86.4,923.9 L87.0,922.9 L87.6,922.2 L88.2,922.0 L88.8,922.1 L89.4,922.6 L90.0,923.4 L90.6,924.5 L91.2,925.9 L91.8,927.3 L92.4,928.7 L93.0,930.0 L93.6,931.0 L94.2,931.6 L94.8,931.9 L95.4,932.1 L96.0,932.3 L96.6,932.5 L97.2,932.6 L97.8,932.4 L98.4,931.9 L99.0,931.0 L99.6,929.9 L100.2,928.7 L100.8,927.5 L101.4,926.5 L102.0,925.8 L102.6,925.4 L103.2,925.3 L103.8,925.6 L104.4,926.3 L105.0,927.2 L105.6,928.3 L106.2,929.5 L106.8,930.7 L107.4,931.7 L108.0,932.6 L108.6,933.1 L109.2,933.3 L109.8,933.3 L110.4,933.3 L111.0,933.3 L111.6,933.3 L112.2,933.0 L112.8,932.3 L113.4,931.3 L114.0,930.0 L114.6,928.5 L115.2,926.9 L115.8,925.4 L116.4,924.2 L117.0,923.3 L117.6,922.7 L118.2,922.6 L118.8,923.0 L119.4,923.7 L120.0,924.8 L120.6,926.1 L121.2,927.5 L121.8,928.8 L122.4,929.9 L123.0,930.8 L123.6,931.3 L124.2,931.4 L124.8,931.5 L125.4,931.6 L126.0,931.8 L126.6,931.2 L127.2,928.1 L127.8,922.3 L128.4,914.3 L129.0,904.5 L129.6,893.5 L130.2,882.0 L130.8,870.7 L131.4,860.3 L132.0,851.3 L132.6,844.2 L133.2,839.5 L133.8,837.6 L134.4,838.4 L135.0,842.0 L135.6,848.1 L136.2,856.4 L136.8,866.4 L137.4,877.3 L138.0,888.6 L138.6,899.6 L139.2,909.7 L139.8,918.3 L140.4,925.0 L141.0,929.2 L141.6,930.8 L142.2,931.1 L142.8,931.4 L143.4,931.8 L144.0,932.3 L144.6,932.7 L145.2,933.0 L145.8,933.2 L146.4,933.3 L147.0,933.3 L147.6,933.3 L148.2,933.3 L148.8,933.3 L149.4,933.3 L150.0,933.3 L150.6,933.3 L151.2,933.3 L151.8,933.3 L152.4,933.3 L153.0,933.3 L153.6,933.3 L154.2,933.3 L154.8,933.3 L155.4,933.3 L156.0,933.3 L156.6,933.3 L157.2,933.3 L157.8,933.2 L158.4,932.7 L159.0,931.9 L159.6,930.8 L160.2,929.5 L160.8,928.1 L161.4,926.8 L162.0,925.7 L162.6,924.9 L163.2,924.4 L163.8,924.3 L164.4,924.7 L165.0,925.4 L165.6,926.4 L166.2,927.7 L166.8,929.0 L167.4,930.4 L168.0,931.6 L168.6,932.5 L169.2,933.1 L169.8,933.3 L170.4,932.3 L171.0,929.2 L171.6,924.3 L172.2,917.8 L172.8,910.2 L173.4,901.9 L174.0,893.3 L174.6,885.1 L175.2,877.6 L175.8,871.4 L176.4,866.7 L177.0,863.8 L177.6,863.0 L178.2,864.3 L178.8,867.5 L179.4,872.5 L180.0,879.0 L180.6,886.6 L181.2,894.9 L181.8,903.2 L182.4,911.3 L183.0,918.5 L183.6,924.4 L184.2,928.6 L184.8,930.9 L185.4,931.3 L186.0,931.2 L186.6,931.1 L187.2,931.1 L187.8,931.1 L188.4,931.2 L189.0,931.2 L189.6,931.4 L190.2,931.5 L190.8,931.7 L191.4,931.9 L192.0,932.0 L192.6,932.2 L193.2,932.4 L193.8,932.6 L194.4,932.8 L195.0,933.0 L195.6,933.1 L196.2,933.2 L196.8,933.3 L197.4,933.3 L198.0,933.3 L198.6,933.3 L199.2,933.3 L199.8,933.3 L200.4,933.3 L201.0,933.3 L201.6,933.3 L202.2,933.2 L202.8,933.2 L203.4,933.1 L204.0,933.0 L204.6,932.8 L205.2,932.7 L205.8,932.6 L206.4,932.6 L207.0,932.5 L207.6,932.5 L208.2,932.5 L208.8,932.6 L209.4,932.6 L210.0,932.7 L210.6,932.8 L211.2,932.9 L211.8,933.0 L212.4,933.1 L213.0,933.2 L213.6,933.3 L214.2,933.2 L214.8,933.1 L215.4,933.0 L216.0,932.9 L216.6,932.7 L217.2,932.6 L217.8,932.4 L218.4,932.2 L219.0,932.1 L219.6,932.0 L220.2,932.0 L220.8,932.0 L221.4,932.0 L222.0,932.0 L222.6,932.1 L223.2,932.3 L223.8,932.4 L224.4,932.6 L225.0,932.7 L225.6,932.9 L226.2,933.0 L226.8,933.2 L227.4,933.2 L228.0,933.3 L228.6,933.3 L229.2,933.3 L229.8,933.3 L230.4,933.3 L231.0,933.3 L231.6,933.3 L232.2,933.3 L232.8,933.3 L233.4,933.3 L234.0,933.3 L234.6,933.3 L235.2,933.3 L235.8,933.3 L236.4,933.3 L237.0,933.3 L237.6,933.3 L238.2,933.2 L238.8,933.1 L239.4,933.0 L240.0,932.9 L240.6,932.8 L241.2,932.6 L241.8,932.5 L242.4,932.4 L243.0,932.4 L243.6,932.3 L244.2,932.3 L244.8,932.3 L245.4,932.3 L246.0,932.4 L246.6,932.5 L247.2,932.6 L247.8,932.5 L248.4,932.2 L249.0,931.9 L249.6,931.4 L250.2,930.9 L250.8,930.4 L251.4,929.9 L252.0,929.6 L252.6,929.3 L253.2,929.3 L253.8,929.5 L254.4,929.8 L255.0,930.2 L255.6,930.8 L256.2,931.4 L256.8,932.0 L257.4,932.5 L258.0,932.8 L258.6,932.9 L259.2,932.8 L259.8,932.7 L260.4,932.4 L261.0,932.2 L261.6,932.0 L262.2,931.8 L262.8,931.4 L263.4,930.8 L264.0,930.2 L264.6,929.4 L265.2,928.7 L265.8,928.0 L266.4,927.4 L267.0,926.9 L267.6,926.7 L268.2,926.7 L268.8,926.9 L269.4,927.3 L270.0,927.9 L270.6,928.6 L271.2,929.3 L271.8,930.1 L272.4,930.8 L273.0,931.4 L273.6,931.8 L274.2,932.0 L274.8,932.2 L275.4,932.3 L276.0,932.5 L276.6,932.7 L277.2,932.7 L277.8,932.2 L278.4,931.2 L279.0,929.8 L279.6,928.2 L280.2,926.4 L280.8,924.7 L281.4,923.2 L282.0,922.1 L282.6,921.4 L283.2,921.3 L283.8,921.8 L284.4,922.7 L285.0,924.1 L285.6,925.8 L286.2,927.6 L286.8,929.4 L287.4,931.0 L288.0,932.2 L288.6,933.0 L289.2,933.3 L289.8,933.3 L290.4,933.3 L291.0,933.3 L291.6,933.3 L292.2,933.3 L292.8,933.1 L293.4,932.4 L294.0,931.2 L294.6,929.7 L295.2,927.9 L295.8,926.1 L296.4,924.4 L297.0,923.0 L297.6,921.9 L298.2,921.4 L298.8,921.4 L299.4,921.9 L300.0,922.9 L300.6,924.1 L301.2,925.5 L301.8,927.0 L302.4,928.4 L303.0,929.7 L303.6,930.6 L304.2,931.2 L304.8,931.3 L305.4,931.4 L306.0,931.5 L306.6,931.6 L307.2,930.9 L307.8,927.6 L308.4,921.9 L309.0,914.1 L309.6,904.7 L310.2,894.3 L310.8,883.5 L311.4,873.0 L312.0,863.4 L312.6,855.3 L313.2,849.3 L313.8,845.5 L314.4,844.3 L315.0,845.7 L315.6,849.6 L316.2,855.9 L316.8,864.1 L317.4,873.7 L318.0,884.3 L318.6,895.2 L319.2,905.7 L319.8,915.1 L320.4,923.0 L321.0,928.9 L321.6,932.4 L322.2,933.3 L322.8,933.3 L323.4,932.9 L324.0,932.0 L324.6,930.7 L325.2,929.2 L325.8,927.5 L326.4,925.9 L327.0,924.4 L327.6,923.3 L328.2,922.6 L328.8,922.3 L329.4,922.6 L330.0,923.3 L330.6,924.4 L331.2,925.9 L331.8,927.5 L332.4,929.2 L333.0,930.7 L333.6,932.0 L334.2,932.9 L334.8,933.3 L335.4,933.3 L336.0,933.3 L336.6,933.3 L337.2,933.3 L337.8,933.3 L338.4,933.3 L339.0,933.3 L339.6,933.3 L340.2,933.3 L340.8,933.3 L341.4,933.3 L342.0,933.3 L342.6,933.3 L343.2,933.3 L343.8,933.3 L344.4,933.3 L345.0,933.3 L345.6,933.3 L346.2,933.3 L346.8,933.3 L347.4,933.3 L348.0,933.3 L348.6,933.3 L349.2,933.3 L349.8,933.3 L350.4,933.3 L351.0,933.3 L351.6,933.3 L352.2,933.3 L352.8,933.3 L353.4,933.3 L354.0,932.5 L354.6,929.6 L355.2,924.7 L355.8,918.1 L356.4,910.2 L357.0,901.4 L357.6,892.3 L358.2,883.5 L358.8,875.4 L359.4,868.5 L360.0,863.3 L360.6,860.0 L361.2,858.9 L361.8,860.0 L362.4,863.3 L363.0,868.5 L363.6,875.4 L364.2,883.5 L364.8,892.3 L365.4,901.4 L366.0,910.2 L366.6,918.1 L367.2,924.7 L367.8,929.6 L368.4,932.2 L369.0,932.5 L369.6,931.8 L370.2,930.9 L370.8,930.0 L371.4,929.1 L372.0,928.3 L372.6,927.6 L373.2,927.2 L373.8,926.9 L374.4,926.9 L375.0,927.1 L375.6,927.5 L376.2,928.1 L376.8,928.8 L377.4,929.5 L378.0,930.2 L378.6,930.7 L379.2,931.1 L379.8,931.3 L380.4,931.3 L381.0,931.4 L381.6,931.5 L382.2,931.7 L382.8,931.9 L383.4,932.1 L384.0,932.4 L384.6,932.6 L385.2,932.8 L385.8,933.0 L386.4,933.1 L387.0,933.2 L387.6,933.2 L388.2,933.1 L388.8,932.9 L389.4,932.6 L390.0,932.4 L390.6,932.1 L391.2,931.8 L391.8,931.5 L392.4,931.2 L393.0,930.9 L393.6,930.7 L394.2,930.6 L394.8,930.5 L395.4,930.5 L396.0,930.4 L396.6,930.4 L397.2,930.1 L397.8,928.1 L398.4,924.0 L399.0,918.3 L399.6,911.3 L400.2,903.3 L400.8,894.9 L401.4,886.5 L402.0,878.6 L402.6,871.7 L403.2,866.3 L403.8,862.6 L404.4,860.9 L405.0,861.4 L405.6,863.9 L406.2,868.3 L406.8,874.4 L407.4,881.8 L408.0,890.2 L408.6,898.9 L409.2,907.6 L409.8,915.6 L410.4,922.6 L411.0,928.0 L411.6,931.6 L412.2,933.1 L412.8,933.3 L413.4,933.3 L414.0,933.3 L414.6,933.3 L415.2,933.3 L415.8,933.3 L416.4,933.3 L417.0,933.3 L417.6,933.3 L418.2,933.3 L418.8,933.3 L419.4,933.3 L420.0,933.3 L420.6,933.3 L421.2,933.3 L421.8,933.3 L422.4,933.3 L423.0,933.3 L423.6,933.3 L424.2,933.3 L424.8,933.3 L425.4,933.3 L426.0,933.0 L426.6,931.4 L427.2,928.4 L427.8,924.3 L428.4,919.3 L429.0,913.7 L429.6,907.8 L430.2,902.0 L430.8,896.6 L431.4,891.9 L432.0,888.1 L432.6,885.6 L433.2,884.4 L433.8,884.6 L434.4,886.3 L435.0,889.2 L435.6,893.3 L436.2,898.2 L436.8,903.8 L437.4,909.6 L438.0,915.3 L438.6,920.5 L439.2,925.0 L439.8,928.5 L440.4,930.7 L441.0,931.6 L441.6,931.8 L442.2,932.0 L442.8,931.9 L443.4,931.6 L444.0,931.1 L444.6,930.4 L445.2,929.5 L445.8,928.6 L446.4,927.8 L447.0,927.0 L447.6,926.4 L448.2,926.1 L448.8,926.0 L449.4,926.2 L450.0,926.7 L450.6,927.3 L451.2,928.0 L451.8,928.8 L452.4,929.6 L453.0,930.2 L453.6,930.7 L454.2,930.9 L454.8,930.9 L455.4,931.0 L456.0,931.0 L456.6,931.1 L457.2,931.1 L457.8,931.1 L458.4,931.1 L459.0,931.1 L459.6,931.1 L460.2,931.2 L460.8,931.3 L461.4,931.4 L462.0,931.5 L462.6,931.6 L463.2,931.7 L463.8,931.7 L464.4,931.8 L465.0,931.8 L465.6,931.9 L466.2,932.0 L466.8,932.2 L467.4,932.3 L468.0,932.5 L468.6,932.7 L469.2,932.9 L469.8,933.1 L470.4,933.2 L471.0,933.3 L471.6,933.3 L472.2,932.9 L472.8,930.7 L473.4,926.8 L474.0,921.4 L474.6,914.8 L475.2,907.4 L475.8,899.7 L476.4,892.1 L477.0,885.1 L477.6,879.0 L478.2,874.3 L478.8,871.3 L479.4,870.0 L480.0,870.6 L480.6,873.0 L481.2,877.1 L481.8,882.6 L482.4,889.3 L483.0,896.6 L483.6,904.2 L484.2,911.6 L484.8,918.4 L485.4,924.1 L486.0,928.5 L486.6,931.2 L487.2,931.6 L487.8,929.9 L488.4,927.0 L489.0,923.1 L489.6,918.5 L490.2,913.3 L490.8,908.0 L491.4,902.9 L492.0,898.2 L492.6,894.2 L493.2,891.2 L493.8,889.4 L494.4,888.8 L495.0,889.6 L495.6,891.6 L496.2,894.7 L496.8,898.8 L497.4,903.6 L498.0,908.9 L498.6,914.3 L499.2,919.5 L499.8,924.2 L500.4,928.2 L501.0,931.1 L501.6,932.8 L502.2,933.3 L502.8,933.3 L503.4,933.3 L504.0,933.3 L504.6,933.3 L505.2,933.3 L505.8,933.3 L506.4,933.3 L507.0,933.3 L507.6,933.3 L508.2,933.3 L508.8,933.3 L509.4,933.3 L510.0,933.3 L510.6,933.3 L511.2,933.2 L511.8,933.0 L512.4,932.8 L513.0,932.6 L513.6,932.4 L514.2,932.2 L514.8,931.9 L515.4,931.7 L516.0,931.6 L516.6,931.4 L517.2,931.3 L517.8,931.3 L518.4,931.3 L519.0,931.4 L519.6,931.5 L520.2,931.6 L520.8,931.8 L521.4,932.0 L522.0,932.0 L522.6,932.1 L523.2,932.0 L523.8,931.9 L524.4,931.8 L525.0,931.7 L525.6,931.6 L526.2,931.5 L526.8,931.5 L527.4,931.6 L528.0,931.7 L528.6,932.0 L529.2,932.2 L529.8,932.5 L530.4,932.8 L531.0,933.0 L531.6,933.2 L532.2,933.3 L532.8,933.3 L533.4,933.2 L534.0,933.2 L534.6,933.1 L535.2,933.0 L535.8,932.8 L536.4,932.7 L537.0,932.6 L537.6,932.4 L538.2,932.3 L538.8,932.3 L539.4,932.3 L540.0,932.3 L540.6,932.3 L541.2,932.4 L541.8,932.5 L542.4,932.6 L543.0,932.7 L543.6,932.8 L544.2,933.0 L544.8,933.1 L545.4,933.2 L546.0,933.3 L546.6,933.3 L547.2,933.3 L547.8,933.2 L548.4,933.1 L549.0,932.9 L549.6,932.7 L550.2,932.4 L550.8,932.1 L551.4,931.8 L552.0,931.6 L552.6,931.4 L553.2,931.2 L553.8,931.2 L554.4,931.2 L555.0,931.3 L555.6,931.5 L556.2,931.7 L556.8,931.9 L557.4,932.2 L558.0,932.5 L558.6,932.8 L559.2,933.0 L559.8,933.2 L560.4,933.3 L561.0,933.3 L561.6,933.3 L562.2,933.3 L562.8,933.2 L563.4,933.1 L564.0,933.0 L564.6,932.8 L565.2,932.7 L565.8,932.5 L566.4,932.3 L567.0,932.2 L567.6,932.0 L568.2,931.9 L568.8,931.7 L569.4,931.6 L570.0,931.4 L570.6,931.3 L571.2,931.2 L571.8,931.1 L572.4,931.1 L573.0,931.1 L573.6,931.2 L574.2,931.2 L574.8,931.3 L575.4,931.4 L576.0,931.6 L576.6,931.8 L577.2,932.0 L577.8,932.2 L578.4,932.4 L579.0,932.6 L579.6,932.8 L580.2,932.9 L580.8,933.1 L581.4,933.2 L582.0,933.2 L582.6,933.3 L583.2,933.3 L583.8,933.3 L584.4,933.3 L585.0,933.3 L585.6,933.3 L586.2,933.3 L586.8,933.3 L587.4,933.3 L588.0,933.3 L588.6,933.3 L589.2,933.3 L589.8,933.3 L590.4,933.3 L591.0,933.3 L591.6,933.3 L592.2,933.3 L592.8,933.3 L593.4,933.2 L594.0,932.9 L594.6,932.5 L595.2,932.0 L595.8,931.4 L596.4,930.8 L597.0,930.2 L597.6,929.8 L598.2,929.5 L598.8,929.3 L599.4,929.3 L600.0,929.6 L600.6,929.9 L601.2,930.4 L601.8,931.0 L602.4,931.6 L603.0,932.2 L603.6,932.7 L604.2,933.0 L604.8,933.3 L605.4,933.3 L606.0,933.3 L606.6,933.3 L607.2,933.3 L607.8,933.3 L608.4,933.3 L609.0,933.3 L609.6,933.0 L610.2,932.7 L610.8,932.2 L611.4,931.6 L612.0,931.0 L612.6,930.4 L613.2,929.9 L613.8,929.6 L614.4,929.3 L615.0,929.3 L615.6,929.5 L616.2,929.8 L616.8,930.2 L617.4,930.8 L618.0,931.4 L618.6,932.0 L619.2,932.5 L619.8,932.9 L620.4,933.2 L621.0,933.3 L621.6,933.3 L622.2,933.3 L622.8,933.3 L623.4,932.4 L624.0,930.2 L624.6,926.9 L625.2,922.7 L625.8,917.8 L626.4,912.4 L627.0,907.0 L627.6,901.8 L628.2,897.2 L628.8,893.4 L629.4,890.6 L630.0,889.1 L630.6,888.9 L631.2,890.0 L631.8,892.3 L632.4,895.8 L633.0,900.2 L633.6,905.2 L634.2,910.6 L634.8,916.0 L635.4,921.1 L636.0,925.6 L636.6,929.3 L637.2,931.8 L637.8,933.1 L638.4,933.3 L639.0,933.3 L639.6,933.3 L640.2,933.3 L640.8,933.3 L641.4,933.3 L642.0,933.3 L642.6,933.3 L643.2,933.3 L643.8,933.3 L644.4,933.3 L645.0,933.3 L645.6,933.3 L646.2,933.3 L646.8,933.3 L647.4,933.3 L648.0,933.3 L648.6,933.3 L649.2,933.3 L649.8,933.3 L650.4,933.3 L651.0,933.3" fill="none" stroke="#4aab4a" stroke-width="1.6" stroke-linejoin="round"/>
<path d="M48.0,921.0 L48.6,924.4 L49.2,927.2 L49.8,929.3 L50.4,930.8 L51.0,930.8 L51.6,927.0 L52.2,921.7 L52.8,915.3 L53.4,908.1 L54.0,900.6 L54.6,893.2 L55.2,886.3 L55.8,880.4 L56.4,875.8 L57.0,872.8 L57.6,871.6 L58.2,872.2 L58.8,874.7 L59.4,878.7 L60.0,884.2 L60.6,890.8 L61.2,898.0 L61.8,905.5 L62.4,912.7 L63.0,919.3 L63.6,924.8 L64.2,928.9 L64.8,931.5 L65.4,932.3 L66.0,932.2 L66.6,932.1 L67.2,932.1 L67.8,932.2 L68.4,932.3 L69.0,932.5 L69.6,932.6 L70.2,932.8 L70.8,933.0 L71.4,933.1 L72.0,933.2 L72.6,933.3 L73.2,933.3 L73.8,933.3 L74.4,933.3 L75.0,933.3 L75.6,933.3 L76.2,933.3 L76.8,933.3 L77.4,933.2 L78.0,933.1 L78.6,932.9 L79.2,932.8 L79.8,932.7 L80.4,932.6 L81.0,932.5 L81.6,932.5 L82.2,932.5 L82.8,932.5 L83.4,932.2 L84.0,931.8 L84.6,931.1 L85.2,930.4 L85.8,929.6 L86.4,928.8 L87.0,928.1 L87.6,927.6 L88.2,927.3 L88.8,927.3 L89.4,927.6 L90.0,928.1 L90.6,928.8 L91.2,929.7 L91.8,930.6 L92.4,931.5 L93.0,932.3 L93.6,932.8 L94.2,933.2 L94.8,933.3 L95.4,933.3 L96.0,932.5 L96.6,930.1 L97.2,926.3 L97.8,921.3 L98.4,915.3 L99.0,908.9 L99.6,902.2 L100.2,895.8 L100.8,890.0 L101.4,885.2 L102.0,881.6 L102.6,879.5 L103.2,878.9 L103.8,880.0 L104.4,882.6 L105.0,886.7 L105.6,891.9 L106.2,897.8 L106.8,904.1 L107.4,910.4 L108.0,916.3 L108.6,921.6 L109.2,925.8 L109.8,928.8 L110.4,930.4 L111.0,930.7 L111.6,930.8 L112.2,930.8 L112.8,930.8 L113.4,930.6 L114.0,930.4 L114.6,930.0 L115.2,929.6 L115.8,929.1 L116.4,928.6 L117.0,928.1 L117.6,927.8 L118.2,927.7 L118.8,927.8 L119.4,928.0 L120.0,928.4 L120.6,928.8 L121.2,929.3 L121.8,929.8 L122.4,930.1 L123.0,930.4 L123.6,930.5 L124.2,930.4 L124.8,930.4 L125.4,930.5 L126.0,930.6 L126.6,930.8 L127.2,931.0 L127.8,931.2 L128.4,931.5 L129.0,931.8 L129.6,932.1 L130.2,932.4 L130.8,932.6 L131.4,932.9 L132.0,933.0 L132.6,933.1 L133.2,933.2 L133.8,933.3 L134.4,933.3 L135.0,933.3 L135.6,933.3 L136.2,933.3 L136.8,933.3 L137.4,933.3 L138.0,933.3 L138.6,933.3 L139.2,933.3 L139.8,933.3 L140.4,933.3 L141.0,933.3 L141.6,933.3 L142.2,933.3 L142.8,933.3 L143.4,933.3 L144.0,933.3 L144.6,933.3 L145.2,933.3 L145.8,933.3 L146.4,933.3 L147.0,933.3 L147.6,933.3 L148.2,933.3 L148.8,933.3 L149.4,933.3 L150.0,933.3 L150.6,933.3 L151.2,933.3 L151.8,933.3 L152.4,933.3 L153.0,933.3 L153.6,933.3 L154.2,933.3 L154.8,933.3 L155.4,933.3 L156.0,933.3 L156.6,932.5 L157.2,930.4 L157.8,927.4 L158.4,923.4 L159.0,918.8 L159.6,913.8 L160.2,908.8 L160.8,903.9 L161.4,899.6 L162.0,896.0 L162.6,893.3 L163.2,891.8 L163.8,891.4 L164.4,892.3 L165.0,894.4 L165.6,897.5 L166.2,901.5 L166.8,906.1 L167.4,911.1 L168.0,916.1 L168.6,920.9 L169.2,925.1 L169.8,928.5 L170.4,930.9 L171.0,932.2 L171.6,932.3 L172.2,932.0 L172.8,931.3 L173.4,930.5 L174.0,929.5 L174.6,928.4 L175.2,927.4 L175.8,926.5 L176.4,925.9 L177.0,925.6 L177.6,925.6 L178.2,925.9 L178.8,926.6 L179.4,927.5 L180.0,928.6 L180.6,929.7 L181.2,930.8 L181.8,931.8 L182.4,932.6 L183.0,933.1 L183.6,933.3 L184.2,933.3 L184.8,933.3 L185.4,933.3 L186.0,933.3 L186.6,933.3 L187.2,932.9 L187.8,932.0 L188.4,930.7 L189.0,929.2 L189.6,927.5 L190.2,925.9 L190.8,924.4 L191.4,923.3 L192.0,922.6 L192.6,922.3 L193.2,922.6 L193.8,923.3 L194.4,924.4 L195.0,925.9 L195.6,927.5 L196.2,929.1 L196.8,930.5 L197.4,931.6 L198.0,932.3 L198.6,932.5 L199.2,932.3 L199.8,932.2 L200.4,932.1 L201.0,932.0 L201.6,932.0 L202.2,931.4 L202.8,929.9 L203.4,927.5 L204.0,924.6 L204.6,921.3 L205.2,918.0 L205.8,915.0 L206.4,912.5 L207.0,910.8 L207.6,910.1 L208.2,910.4 L208.8,911.8 L209.4,914.0 L210.0,917.0 L210.6,920.4 L211.2,923.8 L211.8,927.1 L212.4,929.9 L213.0,931.9 L213.6,933.1 L214.2,933.3 L214.8,933.3 L215.4,933.3 L216.0,933.3 L216.6,933.1 L217.2,932.0 L217.8,930.0 L218.4,927.4 L219.0,924.4 L219.6,921.1 L220.2,918.0 L220.8,915.3 L221.4,913.2 L222.0,912.0 L222.6,911.7 L223.2,912.3 L223.8,913.9 L224.4,916.2 L225.0,919.1 L225.6,922.2 L226.2,925.3 L226.8,928.1 L227.4,930.4 L228.0,931.9 L228.6,932.5 L229.2,932.7 L229.8,932.8 L230.4,933.0 L231.0,933.1 L231.6,933.2 L232.2,933.1 L232.8,932.5 L233.4,931.4 L234.0,929.9 L234.6,928.2 L235.2,926.4 L235.8,924.7 L236.4,923.2 L237.0,922.1 L237.6,921.4 L238.2,921.3 L238.8,921.8 L239.4,922.7 L240.0,924.1 L240.6,925.8 L241.2,927.5 L241.8,929.2 L242.4,930.7 L243.0,931.8 L243.6,932.5 L244.2,932.6 L244.8,932.5 L245.4,932.4 L246.0,931.7 L246.6,929.6 L247.2,926.5 L247.8,922.4 L248.4,917.6 L249.0,912.4 L249.6,907.0 L250.2,901.9 L250.8,897.3 L251.4,893.5 L252.0,890.7 L252.6,889.0 L253.2,888.7 L253.8,889.7 L254.4,891.9 L255.0,895.3 L255.6,899.5 L256.2,904.5 L256.8,909.8 L257.4,915.2 L258.0,920.4 L258.6,925.0 L259.2,928.7 L259.8,931.5 L260.4,933.0 L261.0,932.7 L261.6,929.7 L262.2,924.3 L262.8,916.9 L263.4,907.8 L264.0,897.6 L264.6,886.9 L265.2,876.3 L265.8,866.4 L266.4,857.9 L267.0,851.3 L267.6,847.0 L268.2,845.2 L268.8,846.0 L269.4,849.4 L270.0,855.3 L270.6,863.1 L271.2,872.6 L271.8,883.0 L272.4,893.8 L273.0,904.3 L273.6,913.9 L274.2,922.1 L274.8,928.2 L275.4,931.9 L276.0,931.4 L276.6,927.6 L277.2,922.1 L277.8,915.1 L278.4,907.0 L279.0,898.4 L279.6,889.8 L280.2,881.6 L280.8,874.3 L281.4,868.4 L282.0,864.1 L282.6,861.7 L283.2,861.5 L283.8,863.4 L284.4,867.3 L285.0,873.0 L285.6,880.2 L286.2,888.5 L286.8,897.3 L287.4,906.1 L288.0,914.3 L288.6,921.6 L289.2,927.4 L289.8,931.3 L290.4,933.2 L291.0,933.3 L291.6,933.3 L292.2,933.3 L292.8,933.2 L293.4,932.7 L294.0,931.9 L294.6,930.9 L295.2,929.7 L295.8,928.5 L296.4,927.4 L297.0,926.4 L297.6,925.7 L298.2,925.3 L298.8,925.3 L299.4,925.7 L300.0,926.4 L300.6,927.4 L301.2,928.5 L301.8,929.7 L302.4,930.9 L303.0,931.9 L303.6,932.7 L304.2,933.2 L304.8,933.3 L305.4,933.3 L306.0,933.3 L306.6,933.3 L307.2,933.3 L307.8,933.3 L308.4,933.1 L309.0,932.5 L309.6,931.6 L310.2,930.4 L310.8,929.0 L311.4,927.7 L312.0,926.4 L312.6,925.4 L313.2,924.7 L313.8,924.3 L314.4,924.4 L315.0,924.9 L315.6,925.7 L316.2,926.8 L316.8,928.1 L317.4,929.5 L318.0,930.8 L318.6,931.9 L319.2,932.7 L319.8,933.2 L320.4,933.3 L321.0,933.3 L321.6,933.3 L322.2,933.3 L322.8,933.3 L323.4,933.1 L324.0,932.7 L324.6,932.1 L325.2,931.3 L325.8,930.4 L326.4,929.4 L327.0,928.5 L327.6,927.7 L328.2,927.2 L328.8,926.9 L329.4,926.9 L330.0,927.3 L330.6,927.9 L331.2,928.8 L331.8,929.7 L332.4,930.7 L333.0,931.7 L333.6,932.5 L334.2,933.0 L334.8,933.3 L335.4,933.3 L336.0,933.3 L336.6,933.3 L337.2,933.3 L337.8,933.3 L338.4,933.0 L339.0,932.5 L339.6,931.8 L340.2,930.9 L340.8,930.0 L341.4,929.1 L342.0,928.3 L342.6,927.8 L343.2,927.4 L343.8,927.3 L344.4,927.5 L345.0,927.9 L345.6,928.6 L346.2,929.4 L346.8,930.3 L347.4,931.2 L348.0,932.0 L348.6,932.7 L349.2,933.1 L349.8,933.3 L350.4,933.3 L351.0,933.3 L351.6,933.3 L352.2,933.3 L352.8,933.3 L353.4,933.3 L354.0,933.3 L354.6,933.3 L355.2,933.3 L355.8,933.3 L356.4,933.2 L357.0,933.0 L357.6,932.8 L358.2,932.6 L358.8,932.4 L359.4,932.2 L360.0,932.0 L360.6,932.0 L361.2,932.0 L361.8,932.2 L362.4,932.4 L363.0,932.6 L363.6,932.8 L364.2,933.0 L364.8,933.2 L365.4,933.3 L366.0,933.3 L366.6,932.6 L367.2,930.6 L367.8,927.4 L368.4,923.2 L369.0,918.2 L369.6,912.8 L370.2,907.2 L370.8,901.7 L371.4,896.8 L372.0,892.6 L372.6,889.5 L373.2,887.6 L373.8,887.0 L374.4,887.9 L375.0,890.0 L375.6,893.2 L376.2,897.4 L376.8,902.3 L377.4,907.6 L378.0,913.1 L378.6,918.4 L379.2,923.3 L379.8,927.3 L380.4,930.3 L381.0,932.1 L381.6,932.7 L382.2,932.9 L382.8,933.1 L383.4,933.1 L384.0,932.8 L384.6,932.1 L385.2,931.3 L385.8,930.5 L386.4,929.5 L387.0,928.7 L387.6,928.0 L388.2,927.5 L388.8,927.3 L389.4,927.4 L390.0,927.7 L390.6,928.2 L391.2,929.0 L391.8,929.8 L392.4,930.8 L393.0,931.6 L393.6,932.4 L394.2,932.9 L394.8,933.2 L395.4,933.3 L396.0,933.3 L396.6,933.3 L397.2,933.3 L397.8,933.3 L398.4,933.3 L399.0,933.3 L399.6,933.3 L400.2,933.3 L400.8,933.3 L401.4,933.3 L402.0,933.3 L402.6,933.3 L403.2,933.3 L403.8,933.3 L404.4,933.3 L405.0,933.3 L405.6,933.3 L406.2,933.3 L406.8,933.3 L407.4,933.3 L408.0,933.3 L408.6,933.3 L409.2,933.3 L409.8,933.3 L410.4,933.3 L411.0,933.3 L411.6,933.3 L412.2,933.3 L412.8,933.3 L413.4,933.3 L414.0,933.3 L414.6,933.3 L415.2,933.3 L415.8,933.3 L416.4,933.3 L417.0,933.3 L417.6,933.3 L418.2,933.3 L418.8,933.3 L419.4,933.3 L420.0,933.3 L420.6,933.3 L421.2,933.3 L421.8,933.3 L422.4,933.3 L423.0,933.3 L423.6,933.3 L424.2,933.3 L424.8,933.3 L425.4,933.3 L426.0,933.3 L426.6,933.2 L427.2,933.0 L427.8,932.9 L428.4,932.7 L429.0,932.6 L429.6,932.5 L430.2,932.4 L430.8,932.4 L431.4,932.5 L432.0,932.6 L432.6,932.7 L433.2,932.9 L433.8,933.0 L434.4,933.1 L435.0,933.2 L435.6,933.3 L436.2,933.3 L436.8,933.3 L437.4,933.2 L438.0,932.9 L438.6,932.6 L439.2,932.2 L439.8,931.8 L440.4,931.3 L441.0,930.9 L441.6,930.6 L442.2,930.3 L442.8,929.9 L443.4,929.4 L444.0,928.7 L444.6,928.0 L445.2,927.3 L445.8,926.7 L446.4,926.1 L447.0,925.6 L447.6,925.4 L448.2,925.5 L448.8,925.9 L449.4,926.6 L450.0,927.5 L450.6,928.6 L451.2,929.7 L451.8,930.8 L452.4,931.8 L453.0,932.6 L453.6,933.1 L454.2,933.3 L454.8,933.3 L455.4,933.3 L456.0,933.3 L456.6,933.3 L457.2,933.3 L457.8,933.3 L458.4,933.1 L459.0,932.7 L459.6,931.9 L460.2,931.0 L460.8,929.8 L461.4,928.7 L462.0,927.6 L462.6,926.6 L463.2,925.9 L463.8,925.5 L464.4,925.4 L465.0,925.6 L465.6,926.2 L466.2,927.0 L466.8,928.0 L467.4,929.1 L468.0,930.3 L468.6,931.3 L469.2,932.1 L469.8,932.6 L470.4,932.9 L471.0,933.1 L471.6,933.2 L472.2,933.3 L472.8,933.3 L473.4,933.3 L474.0,933.3 L474.6,933.3 L475.2,933.3 L475.8,933.3 L476.4,933.3 L477.0,933.3 L477.6,933.3 L478.2,933.3 L478.8,933.3 L479.4,933.3 L480.0,933.3 L480.6,933.3 L481.2,933.3 L481.8,933.3 L482.4,933.3 L483.0,933.3 L483.6,933.3 L484.2,933.3 L484.8,933.3 L485.4,933.3 L486.0,933.3 L486.6,933.3 L487.2,933.3 L487.8,932.8 L488.4,931.6 L489.0,929.9 L489.6,927.7 L490.2,925.3 L490.8,922.9 L491.4,920.7 L492.0,919.0 L492.6,917.8 L493.2,917.3 L493.8,917.6 L494.4,918.5 L495.0,920.0 L495.6,922.0 L496.2,924.1 L496.8,926.3 L497.4,928.4 L498.0,930.1 L498.6,931.2 L499.2,931.8 L499.8,931.8 L500.4,931.8 L501.0,931.4 L501.6,929.6 L502.2,926.5 L502.8,922.2 L503.4,917.1 L504.0,911.4 L504.6,905.4 L505.2,899.6 L505.8,894.1 L506.4,889.4 L507.0,885.7 L507.6,883.4 L508.2,882.5 L508.8,883.1 L509.4,885.1 L510.0,888.4 L510.6,892.9 L511.2,898.3 L511.8,904.1 L512.4,910.2 L513.0,916.1 L513.6,921.5 L514.2,926.0 L514.8,929.4 L515.4,931.1 L516.0,929.6 L516.6,925.8 L517.2,920.4 L517.8,913.9 L518.4,906.6 L519.0,898.9 L519.6,891.3 L520.2,884.2 L520.8,878.1 L521.4,873.3 L522.0,870.1 L522.6,868.8 L523.2,869.4 L523.8,871.9 L524.4,876.1 L525.0,881.8 L525.6,888.6 L526.2,896.2 L526.8,904.0 L527.4,911.6 L528.0,918.6 L528.6,924.5 L529.2,928.9 L529.8,931.7 L530.4,932.6 L531.0,932.5 L531.6,932.5 L532.2,932.3 L532.8,931.7 L533.4,930.7 L534.0,929.5 L534.6,928.1 L535.2,926.6 L535.8,925.2 L536.4,923.8 L537.0,922.8 L537.6,922.1 L538.2,921.9 L538.8,922.1 L539.4,922.7 L540.0,923.8 L540.6,925.1 L541.2,926.5 L541.8,928.0 L542.4,929.3 L543.0,930.3 L543.6,931.0 L544.2,931.2 L544.8,931.2 L545.4,931.2 L546.0,931.2 L546.6,931.3 L547.2,931.3 L547.8,931.5 L548.4,931.5 L549.0,931.4 L549.6,931.1 L550.2,930.7 L550.8,930.3 L551.4,929.7 L552.0,929.2 L552.6,928.7 L553.2,928.4 L553.8,928.3 L554.4,928.5 L555.0,928.8 L555.6,929.4 L556.2,930.1 L556.8,930.8 L557.4,931.5 L558.0,932.2 L558.6,932.8 L559.2,933.1 L559.8,933.3 L560.4,933.3 L561.0,933.3 L561.6,933.3 L562.2,932.6 L562.8,930.7 L563.4,927.7 L564.0,923.6 L564.6,918.8 L565.2,913.6 L565.8,908.3 L566.4,903.1 L567.0,898.5 L567.6,894.6 L568.2,891.7 L568.8,890.0 L569.4,889.5 L570.0,890.3 L570.6,892.2 L571.2,895.2 L571.8,899.1 L572.4,903.7 L573.0,908.7 L573.6,913.9 L574.2,918.9 L574.8,923.4 L575.4,927.2 L576.0,930.1 L576.6,931.0 L577.2,929.5 L577.8,926.8 L578.4,923.1 L579.0,918.7 L579.6,913.9 L580.2,908.9 L580.8,904.1 L581.4,899.9 L582.0,896.3 L582.6,893.8 L583.2,892.4 L583.8,892.1 L584.4,893.1 L585.0,895.1 L585.6,898.1 L586.2,901.9 L586.8,906.3 L587.4,911.0 L588.0,915.8 L588.6,920.3 L589.2,924.3 L589.8,927.6 L590.4,930.0 L591.0,931.2 L591.6,931.5 L592.2,931.7 L592.8,931.9 L593.4,932.2 L594.0,932.5 L594.6,932.7 L595.2,933.0 L595.8,933.1 L596.4,933.3 L597.0,933.3 L597.6,933.3 L598.2,933.3 L598.8,933.3 L599.4,933.3 L600.0,933.3 L600.6,933.3 L601.2,933.3 L601.8,933.3 L602.4,933.3 L603.0,933.2 L603.6,933.1 L604.2,933.0 L604.8,932.7 L605.4,932.5 L606.0,932.1 L606.6,931.8 L607.2,931.4 L607.8,931.1 L608.4,930.7 L609.0,930.4 L609.6,929.9 L610.2,929.4 L610.8,928.7 L611.4,928.1 L612.0,927.6 L612.6,927.1 L613.2,926.7 L613.8,926.4 L614.4,926.3 L615.0,926.3 L615.6,926.4 L616.2,926.7 L616.8,927.1 L617.4,927.6 L618.0,928.1 L618.6,928.7 L619.2,929.3 L619.8,929.9 L620.4,930.5 L621.0,930.9 L621.6,931.3 L622.2,931.7 L622.8,932.2 L623.4,932.5 L624.0,932.8 L624.6,933.0 L625.2,933.2 L625.8,933.3 L626.4,933.2 L627.0,933.1 L627.6,932.8 L628.2,932.5 L628.8,932.1 L629.4,931.7 L630.0,931.3 L630.6,930.8 L631.2,930.3 L631.8,929.9 L632.4,929.5 L633.0,929.2 L633.6,928.8 L634.2,928.5 L634.8,928.2 L635.4,927.9 L636.0,927.8 L636.6,927.7 L637.2,927.7 L637.8,927.8 L638.4,927.9 L639.0,928.1 L639.6,928.4 L640.2,928.7 L640.8,929.1 L641.4,929.6 L642.0,930.2 L642.6,930.7 L643.2,931.2 L643.8,931.7 L644.4,932.0 L645.0,932.3 L645.6,932.5 L646.2,932.7 L646.8,932.9 L647.4,933.1 L648.0,933.2 L648.6,933.3 L649.2,933.3 L649.8,933.3 L650.4,933.3 L651.0,933.3" fill="none" stroke="#4668b8" stroke-width="1.6" stroke-linejoin="round"/>
<path d="M48.0,933.3 L48.6,933.3 L49.2,933.3 L49.8,933.3 L50.4,933.3 L51.0,933.3 L51.6,933.3 L52.2,933.1 L52.8,932.7 L53.4,932.0 L54.0,931.2 L54.6,930.3 L55.2,929.4 L55.8,928.6 L56.4,927.9 L57.0,927.5 L57.6,927.3 L58.2,927.4 L58.8,927.8 L59.4,928.3 L60.0,929.1 L60.6,930.0 L61.2,930.9 L61.8,931.8 L62.4,932.5 L63.0,933.0 L63.6,933.3 L64.2,933.3 L64.8,933.3 L65.4,933.3 L66.0,933.3 L66.6,933.2 L67.2,931.7 L67.8,928.5 L68.4,923.9 L69.0,918.0 L69.6,911.2 L70.2,904.0 L70.8,896.7 L71.4,889.8 L72.0,883.7 L72.6,878.8 L73.2,875.4 L73.8,873.6 L74.4,873.6 L75.0,875.4 L75.6,878.8 L76.2,883.7 L76.8,889.8 L77.4,896.7 L78.0,904.0 L78.6,911.1 L79.2,917.8 L79.8,923.5 L80.4,928.0 L81.0,930.9 L81.6,932.1 L82.2,932.0 L82.8,931.8 L83.4,931.6 L84.0,931.5 L84.6,931.3 L85.2,931.2 L85.8,931.0 L86.4,930.9 L87.0,930.8 L87.6,930.6 L88.2,930.4 L88.8,930.2 L89.4,930.0 L90.0,929.7 L90.6,929.4 L91.2,929.1 L91.8,928.9 L92.4,928.8 L93.0,928.9 L93.6,929.1 L94.2,929.5 L94.8,930.0 L95.4,930.5 L96.0,931.0 L96.6,931.5 L97.2,931.9 L97.8,932.1 L98.4,931.9 L99.0,931.6 L99.6,931.0 L100.2,930.4 L100.8,929.7 L101.4,929.1 L102.0,928.6 L102.6,928.4 L103.2,928.3 L103.8,928.5 L104.4,928.9 L105.0,929.5 L105.6,930.2 L106.2,930.9 L106.8,931.7 L107.4,932.3 L108.0,932.8 L108.6,933.1 L109.2,933.1 L109.8,932.9 L110.4,932.4 L111.0,931.0 L111.6,928.7 L112.2,925.5 L112.8,921.8 L113.4,917.7 L114.0,913.5 L114.6,909.4 L115.2,905.7 L115.8,902.5 L116.4,900.1 L117.0,898.5 L117.6,897.9 L118.2,898.3 L118.8,899.7 L119.4,902.0 L120.0,905.1 L120.6,908.9 L121.2,913.1 L121.8,917.4 L122.4,921.6 L123.0,925.5 L123.6,928.7 L124.2,931.2 L124.8,932.8 L125.4,933.3 L126.0,933.3 L126.6,933.2 L127.2,933.2 L127.8,933.0 L128.4,932.2 L129.0,930.6 L129.6,928.4 L130.2,925.6 L130.8,922.6 L131.4,919.6 L132.0,916.9 L132.6,914.8 L133.2,913.3 L133.8,912.7 L134.4,912.9 L135.0,914.0 L135.6,915.9 L136.2,918.3 L136.8,920.9 L137.4,923.7 L138.0,926.3 L138.6,928.4 L139.2,930.0 L139.8,930.8 L140.4,930.9 L141.0,929.7 L141.6,927.0 L142.2,922.9 L142.8,917.6 L143.4,911.4 L144.0,904.7 L144.6,897.9 L145.2,891.5 L145.8,885.8 L146.4,881.2 L147.0,877.9 L147.6,876.2 L148.2,876.0 L148.8,877.5 L149.4,880.5 L150.0,884.9 L150.6,890.4 L151.2,896.7 L151.8,903.4 L152.4,910.2 L153.0,916.6 L153.6,922.2 L154.2,926.7 L154.8,929.8 L155.4,931.5 L156.0,931.8 L156.6,931.8 L157.2,931.9 L157.8,932.0 L158.4,931.9 L159.0,931.6 L159.6,931.2 L160.2,930.7 L160.8,930.2 L161.4,929.7 L162.0,929.2 L162.6,928.9 L163.2,928.8 L163.8,928.9 L164.4,929.1 L165.0,929.5 L165.6,930.1 L166.2,930.7 L166.8,931.4 L167.4,932.0 L168.0,932.5 L168.6,932.9 L169.2,933.2 L169.8,933.3 L170.4,933.3 L171.0,933.3 L171.6,933.3 L172.2,932.9 L172.8,932.3 L173.4,931.5 L174.0,930.5 L174.6,929.4 L175.2,928.4 L175.8,927.5 L176.4,926.6 L177.0,926.0 L177.6,925.7 L178.2,925.6 L178.8,925.8 L179.4,926.3 L180.0,927.0 L180.6,927.8 L181.2,928.8 L181.8,929.7 L182.4,930.5 L183.0,931.1 L183.6,931.5 L184.2,931.8 L184.8,932.1 L185.4,931.9 L186.0,930.2 L186.6,927.0 L187.2,922.7 L187.8,917.4 L188.4,911.4 L189.0,905.1 L189.6,899.1 L190.2,893.5 L190.8,888.8 L191.4,885.2 L192.0,883.0 L192.6,882.2 L193.2,883.0 L193.8,885.2 L194.4,888.8 L195.0,893.5 L195.6,899.1 L196.2,905.1 L196.8,911.4 L197.4,917.4 L198.0,922.8 L198.6,927.3 L199.2,930.5 L199.8,932.4 L200.4,932.6 L201.0,930.3 L201.6,926.0 L202.2,919.9 L202.8,912.5 L203.4,904.1 L204.0,895.3 L204.6,886.5 L205.2,878.5 L205.8,871.5 L206.4,866.1 L207.0,862.6 L207.6,861.1 L208.2,861.8 L208.8,864.5 L209.4,869.2 L210.0,875.5 L210.6,883.1 L211.2,891.4 L211.8,900.1 L212.4,908.6 L213.0,916.5 L213.6,923.2 L214.2,928.5 L214.8,931.9 L215.4,932.4 L216.0,930.3 L216.6,927.0 L217.2,922.7 L217.8,917.8 L218.4,912.5 L219.0,907.1 L219.6,901.9 L220.2,897.3 L220.8,893.6 L221.4,890.8 L222.0,889.3 L222.6,889.1 L223.2,890.2 L223.8,892.5 L224.4,896.0 L225.0,900.3 L225.6,905.3 L226.2,910.7 L226.8,916.1 L227.4,921.2 L228.0,925.7 L228.6,929.3 L229.2,931.8 L229.8,933.1 L230.4,933.3 L231.0,932.3 L231.6,930.0 L232.2,926.4 L232.8,921.8 L233.4,916.5 L234.0,910.7 L234.6,904.9 L235.2,899.3 L235.8,894.3 L236.4,890.1 L237.0,887.2 L237.6,885.5 L238.2,885.3 L238.8,886.5 L239.4,889.0 L240.0,892.8 L240.6,897.5 L241.2,902.9 L241.8,908.8 L242.4,914.6 L243.0,920.1 L243.6,925.0 L244.2,928.9 L244.8,931.7 L245.4,933.1 L246.0,933.2 L246.6,933.1 L247.2,933.0 L247.8,932.5 L248.4,931.8 L249.0,930.9 L249.6,929.9 L250.2,928.8 L250.8,927.8 L251.4,926.9 L252.0,926.2 L252.6,925.8 L253.2,925.7 L253.8,925.9 L254.4,926.4 L255.0,927.1 L255.6,928.0 L256.2,929.1 L256.8,930.1 L257.4,931.1 L258.0,931.9 L258.6,932.5 L259.2,932.9 L259.8,933.0 L260.4,933.1 L261.0,933.2 L261.6,933.3 L262.2,933.3 L262.8,933.0 L263.4,932.7 L264.0,932.2 L264.6,931.6 L265.2,931.0 L265.8,930.4 L266.4,929.9 L267.0,929.6 L267.6,929.3 L268.2,929.3 L268.8,929.5 L269.4,929.8 L270.0,930.2 L270.6,930.8 L271.2,931.4 L271.8,932.0 L272.4,932.5 L273.0,932.9 L273.6,933.2 L274.2,933.3 L274.8,933.3 L275.4,933.3 L276.0,933.3 L276.6,933.3 L277.2,933.3 L277.8,933.3 L278.4,933.3 L279.0,933.3 L279.6,933.3 L280.2,933.3 L280.8,933.3 L281.4,933.3 L282.0,933.3 L282.6,933.3 L283.2,933.3 L283.8,933.3 L284.4,933.3 L285.0,933.3 L285.6,933.3 L286.2,933.3 L286.8,933.3 L287.4,933.3 L288.0,933.3 L288.6,933.3 L289.2,933.3 L289.8,933.3 L290.4,933.3 L291.0,933.2 L291.6,931.9 L292.2,928.9 L292.8,924.4 L293.4,918.5 L294.0,911.7 L294.6,904.3 L295.2,896.8 L295.8,889.7 L296.4,883.3 L297.0,878.2 L297.6,874.6 L298.2,872.8 L298.8,872.8 L299.4,874.6 L300.0,878.2 L300.6,883.2 L301.2,889.4 L301.8,896.4 L302.4,903.6 L303.0,910.7 L303.6,917.2 L304.2,922.8 L304.8,927.1 L305.4,930.1 L306.0,931.6 L306.6,931.9 L307.2,932.1 L307.8,932.4 L308.4,932.5 L309.0,932.3 L309.6,931.9 L310.2,931.3 L310.8,930.5 L311.4,929.7 L312.0,928.9 L312.6,928.2 L313.2,927.7 L313.8,927.5 L314.4,927.5 L315.0,927.8 L315.6,928.3 L316.2,929.0 L316.8,929.9 L317.4,930.8 L318.0,931.6 L318.6,932.3 L319.2,932.9 L319.8,933.2 L320.4,933.3 L321.0,933.3 L321.6,932.8 L322.2,930.8 L322.8,927.5 L323.4,923.0 L324.0,917.7 L324.6,911.7 L325.2,905.6 L325.8,899.6 L326.4,894.1 L327.0,889.5 L327.6,886.0 L328.2,883.7 L328.8,883.0 L329.4,883.7 L330.0,885.9 L330.6,889.3 L331.2,893.7 L331.8,899.0 L332.4,904.8 L333.0,910.6 L333.6,916.3 L334.2,921.4 L334.8,925.7 L335.4,928.7 L336.0,930.4 L336.6,929.8 L337.2,926.9 L337.8,922.4 L338.4,916.6 L339.0,909.8 L339.6,902.5 L340.2,895.1 L340.8,887.9 L341.4,881.5 L342.0,876.2 L342.6,872.3 L343.2,870.1 L343.8,869.7 L344.4,871.2 L345.0,874.3 L345.6,879.1 L346.2,885.2 L346.8,892.3 L347.4,899.9 L348.0,907.6 L348.6,915.0 L349.2,921.6 L349.8,926.9 L350.4,930.8 L351.0,932.9 L351.6,933.3 L352.2,933.3 L352.8,933.3 L353.4,933.3 L354.0,933.3 L354.6,933.3 L355.2,933.2 L355.8,932.6 L356.4,931.6 L357.0,930.2 L357.6,928.6 L358.2,926.9 L358.8,925.3 L359.4,923.8 L360.0,922.7 L360.6,922.0 L361.2,921.8 L361.8,922.1 L362.4,922.9 L363.0,924.1 L363.6,925.6 L364.2,927.3 L364.8,928.9 L365.4,930.4 L366.0,931.6 L366.6,932.5 L367.2,932.8 L367.8,932.9 L368.4,933.1 L369.0,933.2 L369.6,933.2 L370.2,933.3 L370.8,933.3 L371.4,933.3 L372.0,933.3 L372.6,933.3 L373.2,933.3 L373.8,933.3 L374.4,933.3 L375.0,933.3 L375.6,933.3 L376.2,933.3 L376.8,933.3 L377.4,933.3 L378.0,933.2 L378.6,932.9 L379.2,932.5 L379.8,931.9 L380.4,931.2 L381.0,930.4 L381.6,929.6 L382.2,928.3 L382.8,926.0 L383.4,922.9 L384.0,919.1 L384.6,915.0 L385.2,910.6 L385.8,906.4 L386.4,902.4 L387.0,899.0 L387.6,896.2 L388.2,894.2 L388.8,893.0 L389.4,892.8 L390.0,893.8 L390.6,895.8 L391.2,898.7 L391.8,902.4 L392.4,906.7 L393.0,911.4 L393.6,916.3 L394.2,920.9 L394.8,924.9 L395.4,928.3 L396.0,930.6 L396.6,931.9 L397.2,932.0 L397.8,931.7 L398.4,931.3 L399.0,930.6 L399.6,929.7 L400.2,928.6 L400.8,927.5 L401.4,926.4 L402.0,925.5 L402.6,924.9 L403.2,924.5 L403.8,924.5 L404.4,924.8 L405.0,925.5 L405.6,926.4 L406.2,927.5 L406.8,928.7 L407.4,929.9 L408.0,931.1 L408.6,932.1 L409.2,932.8 L409.8,933.2 L410.4,933.3 L411.0,933.3 L411.6,933.2 L412.2,933.0 L412.8,932.4 L413.4,931.3 L414.0,930.0 L414.6,928.5 L415.2,927.0 L415.8,925.5 L416.4,924.3 L417.0,923.4 L417.6,922.9 L418.2,922.9 L418.8,923.3 L419.4,924.1 L420.0,925.2 L420.6,926.5 L421.2,927.8 L421.8,929.1 L422.4,930.2 L423.0,931.0 L423.6,931.6 L424.2,931.8 L424.8,931.8 L425.4,931.9 L426.0,932.1 L426.6,932.4 L427.2,932.6 L427.8,932.6 L428.4,932.3 L429.0,931.9 L429.6,931.2 L430.2,930.4 L430.8,929.7 L431.4,929.1 L432.0,928.6 L432.6,928.4 L433.2,928.3 L433.8,928.5 L434.4,928.9 L435.0,929.5 L435.6,930.2 L436.2,930.9 L436.8,931.7 L437.4,932.3 L438.0,932.9 L438.6,933.2 L439.2,933.3 L439.8,933.3 L440.4,933.3 L441.0,933.1 L441.6,932.0 L442.2,929.9 L442.8,927.2 L443.4,923.8 L444.0,919.9 L444.6,915.9 L445.2,911.8 L445.8,908.0 L446.4,904.7 L447.0,902.1 L447.6,900.3 L448.2,899.5 L448.8,899.6 L449.4,900.7 L450.0,902.7 L450.6,905.5 L451.2,909.0 L451.8,912.8 L452.4,916.8 L453.0,920.8 L453.6,924.4 L454.2,927.6 L454.8,930.0 L455.4,931.7 L456.0,932.4 L456.6,932.3 L457.2,930.9 L457.8,928.4 L458.4,924.7 L459.0,920.2 L459.6,915.0 L460.2,909.5 L460.8,904.0 L461.4,898.9 L462.0,894.5 L462.6,891.0 L463.2,888.6 L463.8,887.6 L464.4,887.9 L465.0,889.6 L465.6,892.5 L466.2,896.5 L466.8,901.3 L467.4,906.7 L468.0,912.2 L468.6,917.7 L469.2,922.7 L469.8,927.0 L470.4,930.3 L471.0,932.4 L471.6,933.2 L472.2,933.3 L472.8,933.3 L473.4,933.3 L474.0,933.1 L474.6,932.5 L475.2,931.6 L475.8,930.5 L476.4,929.3 L477.0,928.1 L477.6,926.9 L478.2,926.0 L478.8,925.3 L479.4,924.9 L480.0,925.0 L480.6,925.3 L481.2,926.0 L481.8,927.0 L482.4,928.1 L483.0,929.3 L483.6,930.4 L484.2,931.4 L484.8,932.2 L485.4,932.6 L486.0,932.7 L486.6,932.8 L487.2,932.9 L487.8,933.0 L488.4,933.1 L489.0,933.2 L489.6,933.3 L490.2,933.3 L490.8,933.3 L491.4,933.3 L492.0,933.3 L492.6,933.3 L493.2,933.3 L493.8,933.3 L494.4,933.3 L495.0,933.3 L495.6,933.3 L496.2,933.3 L496.8,933.3 L497.4,933.3 L498.0,933.3 L498.6,933.3 L499.2,933.3 L499.8,933.3 L500.4,933.1 L501.0,933.0 L501.6,932.7 L502.2,932.4 L502.8,931.8 L503.4,931.0 L504.0,930.0 L504.6,928.9 L505.2,927.8 L505.8,926.9 L506.4,926.2 L507.0,925.7 L507.6,925.4 L508.2,925.4 L508.8,925.8 L509.4,926.3 L510.0,927.1 L510.6,928.0 L511.2,929.0 L511.8,929.9 L512.4,930.6 L513.0,931.1 L513.6,931.4 L514.2,931.4 L514.8,931.3 L515.4,931.2 L516.0,931.2 L516.6,931.3 L517.2,931.4 L517.8,931.6 L518.4,931.9 L519.0,932.2 L519.6,932.5 L520.2,932.7 L520.8,932.9 L521.4,933.1 L522.0,933.2 L522.6,933.3 L523.2,933.3 L523.8,933.3 L524.4,933.2 L525.0,933.1 L525.6,933.0 L526.2,932.9 L526.8,932.8 L527.4,932.7 L528.0,932.6 L528.6,932.6 L529.2,932.5 L529.8,932.4 L530.4,932.4 L531.0,932.4 L531.6,932.4 L532.2,932.4 L532.8,932.2 L533.4,931.9 L534.0,931.5 L534.6,931.0 L535.2,930.5 L535.8,930.1 L536.4,929.7 L537.0,929.4 L537.6,929.2 L538.2,929.3 L538.8,929.5 L539.4,929.8 L540.0,930.2 L540.6,930.8 L541.2,931.4 L541.8,932.0 L542.4,932.5 L543.0,932.9 L543.6,933.2 L544.2,933.3 L544.8,933.3 L545.4,933.3 L546.0,933.3 L546.6,933.3 L547.2,933.2 L547.8,933.0 L548.4,932.5 L549.0,931.9 L549.6,931.2 L550.2,930.4 L550.8,929.7 L551.4,929.1 L552.0,928.6 L552.6,928.4 L553.2,928.3 L553.8,928.5 L554.4,928.9 L555.0,929.5 L555.6,930.2 L556.2,930.9 L556.8,931.7 L557.4,932.3 L558.0,932.9 L558.6,933.2 L559.2,933.3 L559.8,933.3 L560.4,933.3 L561.0,933.3 L561.6,933.3 L562.2,933.3 L562.8,933.3 L563.4,933.2 L564.0,932.9 L564.6,932.3 L565.2,931.7 L565.8,930.9 L566.4,930.2 L567.0,929.5 L567.6,928.9 L568.2,928.5 L568.8,928.3 L569.4,928.4 L570.0,928.6 L570.6,929.0 L571.2,929.5 L571.8,929.9 L572.4,930.4 L573.0,930.8 L573.6,931.1 L574.2,931.3 L574.8,931.3 L575.4,931.2 L576.0,931.2 L576.6,931.2 L577.2,931.4 L577.8,931.6 L578.4,931.8 L579.0,931.8 L579.6,931.6 L580.2,931.3 L580.8,930.7 L581.4,930.1 L582.0,929.5 L582.6,928.9 L583.2,928.5 L583.8,928.3 L584.4,928.4 L585.0,928.6 L585.6,929.1 L586.2,929.7 L586.8,930.4 L587.4,931.2 L588.0,931.9 L588.6,932.5 L589.2,933.0 L589.8,933.2 L590.4,933.2 L591.0,933.1 L591.6,932.9 L592.2,932.8 L592.8,932.6 L593.4,932.4 L594.0,932.2 L594.6,932.1 L595.2,931.8 L595.8,931.7 L596.4,931.5 L597.0,931.3 L597.6,931.2 L598.2,931.2 L598.8,931.2 L599.4,931.3 L600.0,931.3 L600.6,931.5 L601.2,931.6 L601.8,931.8 L602.4,932.0 L603.0,932.2 L603.6,932.4 L604.2,932.6 L604.8,932.7 L605.4,932.9 L606.0,933.1 L606.6,933.2 L607.2,933.2 L607.8,932.0 L608.4,928.7 L609.0,923.8 L609.6,917.4 L610.2,910.0 L610.8,902.0 L611.4,893.9 L612.0,886.2 L612.6,879.2 L613.2,873.5 L613.8,869.4 L614.4,867.1 L615.0,866.8 L615.6,868.5 L616.2,872.0 L616.8,877.2 L617.4,883.7 L618.0,891.3 L618.6,899.3 L619.2,907.4 L619.8,915.1 L620.4,921.8 L621.0,927.3 L621.6,931.1 L622.2,933.1 L622.8,933.3 L623.4,933.3 L624.0,933.3 L624.6,933.1 L625.2,932.8 L625.8,932.4 L626.4,931.8 L627.0,931.2 L627.6,930.6 L628.2,930.1 L628.8,929.7 L629.4,929.4 L630.0,929.3 L630.6,929.4 L631.2,929.7 L631.8,930.1 L632.4,930.6 L633.0,931.2 L633.6,931.7 L634.2,932.1 L634.8,932.4 L635.4,932.6 L636.0,932.5 L636.6,932.4 L637.2,932.1 L637.8,932.0 L638.4,931.7 L639.0,931.3 L639.6,930.7 L640.2,930.1 L640.8,929.5 L641.4,928.9 L642.0,928.4 L642.6,928.0 L643.2,927.8 L643.8,927.8 L644.4,928.0 L645.0,928.4 L645.6,929.0 L646.2,929.7 L646.8,930.5 L647.4,931.2 L648.0,932.0 L648.6,932.6 L649.2,933.0 L649.8,933.3 L650.4,933.3 L651.0,933.3" fill="none" stroke="#1a1a1a" stroke-width="1.6" stroke-linejoin="round"/>
<path d="M48.0,933.3 L48.6,933.3 L49.2,933.3 L49.8,933.3 L50.4,933.3 L51.0,933.3 L51.6,933.3 L52.2,933.2 L52.8,933.0 L53.4,932.5 L54.0,931.9 L54.6,931.2 L55.2,930.4 L55.8,929.7 L56.4,929.0 L57.0,928.5 L57.6,928.0 L58.2,927.8 L58.8,927.8 L59.4,928.0 L60.0,928.4 L60.6,929.0 L61.2,929.8 L61.8,930.6 L62.4,931.4 L63.0,932.1 L63.6,932.6 L64.2,932.8 L64.8,932.8 L65.4,932.8 L66.0,932.7 L66.6,932.5 L67.2,932.4 L67.8,932.4 L68.4,932.0 L69.0,931.2 L69.6,929.8 L70.2,928.1 L70.8,926.2 L71.4,924.2 L72.0,922.4 L72.6,921.0 L73.2,920.0 L73.8,919.5 L74.4,919.6 L75.0,920.2 L75.6,921.3 L76.2,922.9 L76.8,924.7 L77.4,926.6 L78.0,928.4 L78.6,930.1 L79.2,931.3 L79.8,932.0 L80.4,932.2 L81.0,932.2 L81.6,930.7 L82.2,927.7 L82.8,923.1 L83.4,917.3 L84.0,910.6 L84.6,903.5 L85.2,896.3 L85.8,889.4 L86.4,883.3 L87.0,878.4 L87.6,874.9 L88.2,873.1 L88.8,873.1 L89.4,874.9 L90.0,878.4 L90.6,883.3 L91.2,889.4 L91.8,896.4 L92.4,903.7 L93.0,911.0 L93.6,917.8 L94.2,923.8 L94.8,928.5 L95.4,931.7 L96.0,933.2 L96.6,933.3 L97.2,933.2 L97.8,932.9 L98.4,932.4 L99.0,931.6 L99.6,930.8 L100.2,929.8 L100.8,929.0 L101.4,928.2 L102.0,927.7 L102.6,927.4 L103.2,927.3 L103.8,927.5 L104.4,928.0 L105.0,928.7 L105.6,929.5 L106.2,930.4 L106.8,931.2 L107.4,931.9 L108.0,932.3 L108.6,932.5 L109.2,932.4 L109.8,932.1 L110.4,931.9 L111.0,931.7 L111.6,931.5 L112.2,931.2 L112.8,930.7 L113.4,930.1 L114.0,929.3 L114.6,928.6 L115.2,927.9 L115.8,927.3 L116.4,926.9 L117.0,926.7 L117.6,926.7 L118.2,927.1 L118.8,927.6 L119.4,928.3 L120.0,929.1 L120.6,930.0 L121.2,930.8 L121.8,931.6 L122.4,932.3 L123.0,932.7 L123.6,932.9 L124.2,932.8 L124.8,932.7 L125.4,932.6 L126.0,932.5 L126.6,932.5 L127.2,932.4 L127.8,932.4 L128.4,932.3 L129.0,931.9 L129.6,931.4 L130.2,930.8 L130.8,930.2 L131.4,929.5 L132.0,928.9 L132.6,928.5 L133.2,928.2 L133.8,928.2 L134.4,928.3 L135.0,928.7 L135.6,929.2 L136.2,929.8 L136.8,930.5 L137.4,931.3 L138.0,932.0 L138.6,932.6 L139.2,933.0 L139.8,933.3 L140.4,933.3 L141.0,933.3 L141.6,933.3 L142.2,933.2 L142.8,932.7 L143.4,931.9 L144.0,930.8 L144.6,929.5 L145.2,928.1 L145.8,926.8 L146.4,925.7 L147.0,924.9 L147.6,924.4 L148.2,924.3 L148.8,924.7 L149.4,925.4 L150.0,926.4 L150.6,927.7 L151.2,929.0 L151.8,930.4 L152.4,931.6 L153.0,932.5 L153.6,933.1 L154.2,933.3 L154.8,933.3 L155.4,933.3 L156.0,933.3 L156.6,933.3 L157.2,933.3 L157.8,933.2 L158.4,933.0 L159.0,932.5 L159.6,931.9 L160.2,931.2 L160.8,930.4 L161.4,929.7 L162.0,929.1 L162.6,928.6 L163.2,928.4 L163.8,928.3 L164.4,928.5 L165.0,928.9 L165.6,929.5 L166.2,930.1 L166.8,930.7 L167.4,931.2 L168.0,931.6 L168.6,931.9 L169.2,931.9 L169.8,931.9 L170.4,931.8 L171.0,931.8 L171.6,931.9 L172.2,931.8 L172.8,931.6 L173.4,931.1 L174.0,930.6 L174.6,929.9 L175.2,929.1 L175.8,928.3 L176.4,927.8 L177.0,927.4 L177.6,927.3 L178.2,927.5 L178.8,927.9 L179.4,928.6 L180.0,929.4 L180.6,930.3 L181.2,931.2 L181.8,932.0 L182.4,932.7 L183.0,933.1 L183.6,933.2 L184.2,933.1 L184.8,932.9 L185.4,932.7 L186.0,932.5 L186.6,932.3 L187.2,931.8 L187.8,931.0 L188.4,929.9 L189.0,928.5 L189.6,927.2 L190.2,925.8 L190.8,924.7 L191.4,923.9 L192.0,923.4 L192.6,923.3 L193.2,923.7 L193.8,924.5 L194.4,925.6 L195.0,927.0 L195.6,928.4 L196.2,929.9 L196.8,931.2 L197.4,932.2 L198.0,932.9 L198.6,933.2 L199.2,933.2 L199.8,933.0 L200.4,932.8 L201.0,932.4 L201.6,932.1 L202.2,931.6 L202.8,930.9 L203.4,930.0 L204.0,928.9 L204.6,927.7 L205.2,926.5 L205.8,925.5 L206.4,924.6 L207.0,924.0 L207.6,923.6 L208.2,923.6 L208.8,923.8 L209.4,924.4 L210.0,925.3 L210.6,926.4 L211.2,927.7 L211.8,928.9 L212.4,930.1 L213.0,931.1 L213.6,931.8 L214.2,932.2 L214.8,932.4 L215.4,932.5 L216.0,932.6 L216.6,932.4 L217.2,932.0 L217.8,931.2 L218.4,930.2 L219.0,929.2 L219.6,928.1 L220.2,927.2 L220.8,926.4 L221.4,925.9 L222.0,925.7 L222.6,925.9 L223.2,926.3 L223.8,927.0 L224.4,927.9 L225.0,928.9 L225.6,930.0 L226.2,931.0 L226.8,931.9 L227.4,932.6 L228.0,933.0 L228.6,933.0 L229.2,932.7 L229.8,932.4 L230.4,932.1 L231.0,931.9 L231.6,931.6 L232.2,931.2 L232.8,930.6 L233.4,929.8 L234.0,928.9 L234.6,928.0 L235.2,927.2 L235.8,926.6 L236.4,926.2 L237.0,926.1 L237.6,926.2 L238.2,926.5 L238.8,927.1 L239.4,927.8 L240.0,928.6 L240.6,929.5 L241.2,930.5 L241.8,931.3 L242.4,932.1 L243.0,932.8 L243.6,933.2 L244.2,933.3 L244.8,933.3 L245.4,933.3 L246.0,933.3 L246.6,933.3 L247.2,933.3 L247.8,933.0 L248.4,932.5 L249.0,931.8 L249.6,930.9 L250.2,930.0 L250.8,929.1 L251.4,928.3 L252.0,927.8 L252.6,927.4 L253.2,927.3 L253.8,927.5 L254.4,927.9 L255.0,928.6 L255.6,929.4 L256.2,930.3 L256.8,931.2 L257.4,932.0 L258.0,932.7 L258.6,933.1 L259.2,933.3 L259.8,933.3 L260.4,933.3 L261.0,933.3 L261.6,933.3 L262.2,933.2 L262.8,932.9 L263.4,932.4 L264.0,931.6 L264.6,930.8 L265.2,929.8 L265.8,929.0 L266.4,928.2 L267.0,927.7 L267.6,927.4 L268.2,927.3 L268.8,927.5 L269.4,928.0 L270.0,928.7 L270.6,929.5 L271.2,930.5 L271.8,931.3 L272.4,932.1 L273.0,932.7 L273.6,933.0 L274.2,933.0 L274.8,932.8 L275.4,932.6 L276.0,932.4 L276.6,932.2 L277.2,932.0 L277.8,931.6 L278.4,931.1 L279.0,930.4 L279.6,929.7 L280.2,929.1 L280.8,928.5 L281.4,928.0 L282.0,927.7 L282.6,927.7 L283.2,927.8 L283.8,928.2 L284.4,928.7 L285.0,929.4 L285.6,930.2 L286.2,930.9 L286.8,931.7 L287.4,932.3 L288.0,932.8 L288.6,933.1 L289.2,933.0 L289.8,932.8 L290.4,932.6 L291.0,932.4 L291.6,932.2 L292.2,932.1 L292.8,932.0 L293.4,932.1 L294.0,932.2 L294.6,932.3 L295.2,932.6 L295.8,932.8 L296.4,933.0 L297.0,933.2 L297.6,933.3 L298.2,933.3 L298.8,933.3 L299.4,933.3 L300.0,933.3 L300.6,933.3 L301.2,933.3 L301.8,933.3 L302.4,933.3 L303.0,933.3 L303.6,933.3 L304.2,933.3 L304.8,933.3 L305.4,933.3 L306.0,933.3 L306.6,933.3 L307.2,933.3 L307.8,933.3 L308.4,933.2 L309.0,932.5 L309.6,930.9 L310.2,928.6 L310.8,925.8 L311.4,922.8 L312.0,919.8 L312.6,917.2 L313.2,915.1 L313.8,913.8 L314.4,913.3 L315.0,913.8 L315.6,915.1 L316.2,917.2 L316.8,919.8 L317.4,922.8 L318.0,925.8 L318.6,928.6 L319.2,930.9 L319.8,932.4 L320.4,933.1 L321.0,933.1 L321.6,932.9 L322.2,932.8 L322.8,932.7 L323.4,932.5 L324.0,932.4 L324.6,932.3 L325.2,932.3 L325.8,932.3 L326.4,932.3 L327.0,932.4 L327.6,932.5 L328.2,932.6 L328.8,932.7 L329.4,932.9 L330.0,932.9 L330.6,932.9 L331.2,932.7 L331.8,932.4 L332.4,932.1 L333.0,931.7 L333.6,931.5 L334.2,931.3 L334.8,931.2 L335.4,931.2 L336.0,931.4 L336.6,931.6 L337.2,931.9 L337.8,931.9 L338.4,930.8 L339.0,928.9 L339.6,926.1 L340.2,922.9 L340.8,919.5 L341.4,916.3 L342.0,913.6 L342.6,911.6 L343.2,910.6 L343.8,910.6 L344.4,911.6 L345.0,913.4 L345.6,916.0 L346.2,918.9 L346.8,922.0 L347.4,925.0 L348.0,927.5 L348.6,929.4 L349.2,930.5 L349.8,930.7 L350.4,930.6 L351.0,930.5 L351.6,930.5 L352.2,930.6 L352.8,930.7 L353.4,930.9 L354.0,931.1 L354.6,931.4 L355.2,931.7 L355.8,931.9 L356.4,932.2 L357.0,932.4 L357.6,932.6 L358.2,932.8 L358.8,933.0 L359.4,933.2 L360.0,933.2 L360.6,933.3 L361.2,933.3 L361.8,933.3 L362.4,933.3 L363.0,933.3 L363.6,933.3 L364.2,933.3 L364.8,933.3 L365.4,933.3 L366.0,933.3 L366.6,933.3 L367.2,933.3 L367.8,933.3 L368.4,933.3 L369.0,933.3 L369.6,933.3 L370.2,933.3 L370.8,933.2 L371.4,933.2 L372.0,933.1 L372.6,933.0 L373.2,932.9 L373.8,932.7 L374.4,932.6 L375.0,932.5 L375.6,932.4 L376.2,932.3 L376.8,932.2 L377.4,932.2 L378.0,932.2 L378.6,932.2 L379.2,932.2 L379.8,932.2 L380.4,932.3 L381.0,932.4 L381.6,932.5 L382.2,932.6 L382.8,932.8 L383.4,932.9 L384.0,933.0 L384.6,932.7 L385.2,932.0 L385.8,930.9 L386.4,929.5 L387.0,928.0 L387.6,926.6 L388.2,925.2 L388.8,924.2 L389.4,923.5 L390.0,923.3 L390.6,923.5 L391.2,924.2 L391.8,925.2 L392.4,926.6 L393.0,928.0 L393.6,929.6 L394.2,930.9 L394.8,932.1 L395.4,932.9 L396.0,933.3 L396.6,933.3 L397.2,933.3 L397.8,933.1 L398.4,932.4 L399.0,931.0 L399.6,929.1 L400.2,926.9 L400.8,924.7 L401.4,922.5 L402.0,920.6 L402.6,919.2 L403.2,918.5 L403.8,918.3 L404.4,918.9 L405.0,920.1 L405.6,921.8 L406.2,923.9 L406.8,926.2 L407.4,928.4 L408.0,930.4 L408.6,932.0 L409.2,933.0 L409.8,933.3 L410.4,933.3 L411.0,933.0 L411.6,930.6 L412.2,926.0 L412.8,919.3 L413.4,911.1 L414.0,901.9 L414.6,892.0 L415.2,882.2 L415.8,873.1 L416.4,865.1 L417.0,858.8 L417.6,854.5 L418.2,852.5 L418.8,852.9 L419.4,855.7 L420.0,860.6 L420.6,867.4 L421.2,875.7 L421.8,885.0 L422.4,894.6 L423.0,904.1 L423.6,912.9 L424.2,920.5 L424.8,926.3 L425.4,930.1 L426.0,931.6 L426.6,931.6 L427.2,931.6 L427.8,931.5 L428.4,931.2 L429.0,930.6 L429.6,929.9 L430.2,929.2 L430.8,928.4 L431.4,927.7 L432.0,927.1 L432.6,926.7 L433.2,926.6 L433.8,926.6 L434.4,927.0 L435.0,927.5 L435.6,928.3 L436.2,929.1 L436.8,930.1 L437.4,931.0 L438.0,931.7 L438.6,932.3 L439.2,932.7 L439.8,932.8 L440.4,932.9 L441.0,933.0 L441.6,933.1 L442.2,933.2 L442.8,933.0 L443.4,932.5 L444.0,931.8 L444.6,930.8 L445.2,929.8 L445.8,928.8 L446.4,927.8 L447.0,927.0 L447.6,926.5 L448.2,926.3 L448.8,926.4 L449.4,926.8 L450.0,927.5 L450.6,928.4 L451.2,929.4 L451.8,930.5 L452.4,931.5 L453.0,932.3 L453.6,932.9 L454.2,933.2 L454.8,933.2 L455.4,933.0 L456.0,932.8 L456.6,932.5 L457.2,932.0 L457.8,930.9 L458.4,929.3 L459.0,927.4 L459.6,925.3 L460.2,923.2 L460.8,921.3 L461.4,919.7 L462.0,918.7 L462.6,918.3 L463.2,918.5 L463.8,919.4 L464.4,920.8 L465.0,922.6 L465.6,924.6 L466.2,926.7 L466.8,928.8 L467.4,930.6 L468.0,932.1 L468.6,933.0 L469.2,933.3 L469.8,933.3 L470.4,933.3 L471.0,933.3 L471.6,933.3 L472.2,933.3 L472.8,933.3 L473.4,933.1 L474.0,932.5 L474.6,931.6 L475.2,930.4 L475.8,929.0 L476.4,927.7 L477.0,926.4 L477.6,925.4 L478.2,924.7 L478.8,924.3 L479.4,924.4 L480.0,924.9 L480.6,925.7 L481.2,926.8 L481.8,928.1 L482.4,929.5 L483.0,930.8 L483.6,931.9 L484.2,932.7 L484.8,933.1 L485.4,933.1 L486.0,932.9 L486.6,932.7 L487.2,932.4 L487.8,932.2 L488.4,931.9 L489.0,931.6 L489.6,931.0 L490.2,930.3 L490.8,929.6 L491.4,928.8 L492.0,928.2 L492.6,927.6 L493.2,927.1 L493.8,926.7 L494.4,926.5 L495.0,926.4 L495.6,926.4 L496.2,926.7 L496.8,927.1 L497.4,927.6 L498.0,928.2 L498.6,928.9 L499.2,929.4 L499.8,929.9 L500.4,930.2 L501.0,930.4 L501.6,930.6 L502.2,930.9 L502.8,930.9 L503.4,930.6 L504.0,930.1 L504.6,929.4 L505.2,928.7 L505.8,927.9 L506.4,927.2 L507.0,926.6 L507.6,926.3 L508.2,926.3 L508.8,926.6 L509.4,927.1 L510.0,927.9 L510.6,928.9 L511.2,930.0 L511.8,931.0 L512.4,931.9 L513.0,932.7 L513.6,933.1 L514.2,933.3 L514.8,933.3 L515.4,933.3 L516.0,933.3 L516.6,933.3 L517.2,933.1 L517.8,932.0 L518.4,930.0 L519.0,927.4 L519.6,924.4 L520.2,921.2 L520.8,918.2 L521.4,915.6 L522.0,913.6 L522.6,912.5 L523.2,912.4 L523.8,913.2 L524.4,914.8 L525.0,917.2 L525.6,920.2 L526.2,923.3 L526.8,926.4 L527.4,929.2 L528.0,931.4 L528.6,932.8 L529.2,933.3 L529.8,933.3 L530.4,933.3 L531.0,931.7 L531.6,926.9 L532.2,919.3 L532.8,909.3 L533.4,897.6 L534.0,884.7 L534.6,871.5 L535.2,858.7 L535.8,847.2 L536.4,837.4 L537.0,830.2 L537.6,825.8 L538.2,824.5 L538.8,826.5 L539.4,831.5 L540.0,839.2 L540.6,849.3 L541.2,861.2 L541.8,874.0 L542.4,887.0 L543.0,899.4 L543.6,910.5 L544.2,919.5 L544.8,926.0 L545.4,929.5 L546.0,930.0 L546.6,928.1 L547.2,923.0 L547.8,915.0 L548.4,904.5 L549.0,892.2 L549.6,878.8 L550.2,865.1 L550.8,852.0 L551.4,840.2 L552.0,830.5 L552.6,823.4 L553.2,819.3 L553.8,818.5 L554.4,821.1 L555.0,826.8 L555.6,835.4 L556.2,846.4 L556.8,859.1 L557.4,872.7 L558.0,886.5 L558.6,899.7 L559.2,911.6 L559.8,921.3 L560.4,928.4 L561.0,932.4 L561.6,933.2 L562.2,933.3 L562.8,933.3 L563.4,932.9 L564.0,932.1 L564.6,930.9 L565.2,929.6 L565.8,928.0 L566.4,926.6 L567.0,925.2 L567.6,924.2 L568.2,923.5 L568.8,923.3 L569.4,923.5 L570.0,924.2 L570.6,925.2 L571.2,926.6 L571.8,928.0 L572.4,929.4 L573.0,930.7 L573.6,931.7 L574.2,932.3 L574.8,932.4 L575.4,932.3 L576.0,932.1 L576.6,932.0 L577.2,932.0 L577.8,931.9 L578.4,931.7 L579.0,930.9 L579.6,929.6 L580.2,928.1 L580.8,926.3 L581.4,924.5 L582.0,922.8 L582.6,921.4 L583.2,920.3 L583.8,919.8 L584.4,919.8 L585.0,920.4 L585.6,921.5 L586.2,923.0 L586.8,924.9 L587.4,926.8 L588.0,928.7 L588.6,930.4 L589.2,931.7 L589.8,932.6 L590.4,932.9 L591.0,933.0 L591.6,933.1 L592.2,931.3 L592.8,926.6 L593.4,919.4 L594.0,910.0 L594.6,899.2 L595.2,887.5 L595.8,875.6 L596.4,864.2 L597.0,854.1 L597.6,845.7 L598.2,839.7 L598.8,836.3 L599.4,835.9 L600.0,838.3 L600.6,843.4 L601.2,851.1 L601.8,860.7 L602.4,871.7 L603.0,883.5 L603.6,895.4 L604.2,906.6 L604.8,916.5 L605.4,924.4 L606.0,930.0 L606.6,932.9 L607.2,932.9 L607.8,932.0 L608.4,930.7 L609.0,929.1 L609.6,927.3 L610.2,925.5 L610.8,923.9 L611.4,922.6 L612.0,921.7 L612.6,921.3 L613.2,921.5 L613.8,922.2 L614.4,923.4 L615.0,924.9 L615.6,926.7 L616.2,928.5 L616.8,930.2 L617.4,931.6 L618.0,932.7 L618.6,933.2 L619.2,933.3 L619.8,933.3 L620.4,933.3 L621.0,933.3 L621.6,933.3 L622.2,933.3 L622.8,933.3 L623.4,933.3 L624.0,933.3 L624.6,933.0 L625.2,932.5 L625.8,931.7 L626.4,930.7 L627.0,929.6 L627.6,928.6 L628.2,927.7 L628.8,926.9 L629.4,926.5 L630.0,926.3 L630.6,926.5 L631.2,926.9 L631.8,927.7 L632.4,928.6 L633.0,929.6 L633.6,930.7 L634.2,931.6 L634.8,932.3 L635.4,932.8 L636.0,933.0 L636.6,932.4 L637.2,930.1 L637.8,926.0 L638.4,920.3 L639.0,913.5 L639.6,905.9 L640.2,898.0 L640.8,890.3 L641.4,883.1 L642.0,877.0 L642.6,872.2 L643.2,869.2 L643.8,868.0 L644.4,868.8 L645.0,871.4 L645.6,875.8 L646.2,881.7 L646.8,888.6 L647.4,896.3 L648.0,904.3 L648.6,912.0 L649.2,919.0 L649.8,925.0 L650.4,929.5 L651.0,932.3" fill="none" stroke="#d9463f" stroke-width="1.6" stroke-linejoin="round"/>
<text x="57" y="948.5" font-size="11.6" letter-spacing="2.9" fill="#6e6e6e">240</text>
<text x="207.6" y="948.5" font-size="11.6" letter-spacing="2.9" fill="#6e6e6e">250</text>
<text x="358.6" y="948.5" font-size="11.6" letter-spacing="2.9" fill="#6e6e6e">260</text>
<text x="506.9" y="948.5" font-size="11.6" letter-spacing="2.9" fill="#6e6e6e">270</text>
<path d="M351.3,795 L351.3,766 M347.6,771.5 L351.3,765.3 L355,771.5" fill="none" stroke="#000" stroke-width="1.1"/>
<text x="301.8" y="814.5" font-size="15" textLength="111.9" lengthAdjust="spacingAndGlyphs" fill="#0f0b0a" stroke="#0f0b0a" stroke-width="0">deletion 506 bp</text>
</g>
<defs>
<filter id="b1" x="-20%" y="-100%" width="140%" height="300%"><feGaussianBlur stdDeviation="1.1 0.9"/></filter>
<filter id="b2" x="-20%" y="-100%" width="140%" height="300%"><feGaussianBlur stdDeviation="1.4 1.3"/></filter>
<filter id="b6" filterUnits="userSpaceOnUse" x="0" y="650" width="1269" height="500"><feGaussianBlur stdDeviation="6"/></filter>
<clipPath id="clipC"><rect x="123.3" y="1004.9" width="158.3" height="90"/></clipPath>
<clipPath id="clipD"><rect x="431.2" y="1004.9" width="218.8" height="90"/></clipPath>
</defs>
<text x="45.1" y="994.8" font-size="26.4" textLength="37.1" lengthAdjust="spacingAndGlyphs" fill="#0f0b0a" stroke="#0f0b0a" stroke-width="0.18">(C)</text>
<text x="152.8" y="994" font-size="14.5" text-anchor="middle" fill="#0f0b0a" stroke="#0f0b0a" stroke-width="0.18">M</text>
<text x="192.6" y="994" font-size="14.5" textLength="23.2" lengthAdjust="spacingAndGlyphs" fill="#0f0b0a" stroke="#0f0b0a" stroke-width="0.18">WT</text>
<text x="243.6" y="994" font-size="14.5" textLength="27.2" lengthAdjust="spacingAndGlyphs" font-style="italic" fill="#0f0b0a" stroke="#0f0b0a" stroke-width="0.18">els1</text>
<text x="53.2" y="1025.6" font-size="15" textLength="55" lengthAdjust="spacingAndGlyphs" fill="#0f0b0a" stroke="#0f0b0a" stroke-width="0.18">2000 bp</text>
<text x="53.2" y="1047.5" font-size="15" textLength="55" lengthAdjust="spacingAndGlyphs" fill="#0f0b0a" stroke="#0f0b0a" stroke-width="0.18">1000 bp</text>
<text x="62.8" y="1062.1" font-size="15" textLength="45.6" lengthAdjust="spacingAndGlyphs" fill="#0f0b0a" stroke="#0f0b0a" stroke-width="0.18">750 bp</text>
<text x="64" y="1084.8" font-size="15" textLength="45.4" lengthAdjust="spacingAndGlyphs" fill="#0f0b0a" stroke="#0f0b0a" stroke-width="0.18">500 bp</text>
<g clip-path="url(#clipC)">
<rect x="123.3" y="1004.9" width="158.3" height="90" fill="#131313"/>
<rect x="134" y="1006" width="37" height="90" fill="#262626" filter="url(#b6)" opacity="0.7"/>
<rect x="188" y="1008" width="32" height="50" fill="#2c2c2c" filter="url(#b6)" opacity="0.7"/>
<rect x="237" y="1012" width="33" height="90" fill="#2a2a2a" filter="url(#b6)" opacity="0.7"/>
<rect x="136" y="1018.3" width="32.6" height="3.4" rx="1.5" fill="#9a9a9a" filter="url(#b1)"/>
<rect x="136" y="1040.7" width="32.6" height="3.6" rx="1.5" fill="#a8a8a8" filter="url(#b1)"/>
<rect x="136" y="1054.1" width="32.6" height="4.4" rx="1.5" fill="#b4b4b4" filter="url(#b1)"/>
<rect x="136" y="1076.1000000000001" width="32.6" height="3.2" rx="1.5" fill="#8e8e8e" filter="url(#b1)"/>
<rect x="187.5" y="1035.6" width="33.4" height="9" rx="3" fill="#e4e4e4" filter="url(#b2)"/>
<rect x="190" y="1037.6" width="28" height="4.5" rx="2" fill="#fff" filter="url(#b1)"/>
<rect x="235.3" y="1062.2" width="36.8" height="10" rx="3.5" fill="#f2f2f2" filter="url(#b2)"/>
<rect x="238" y="1064.5" width="31" height="5.5" rx="2" fill="#fff" filter="url(#b1)"/>
</g>
<text x="360.1" y="994.8" font-size="26.4" textLength="37.8" lengthAdjust="spacingAndGlyphs" fill="#0f0b0a" stroke="#0f0b0a" stroke-width="0.18">(D)</text>
<text x="458.4" y="994" font-size="14.5" text-anchor="middle" fill="#0f0b0a" stroke="#0f0b0a" stroke-width="0.18">M</text>
<text x="501.3" y="994" font-size="14.5" textLength="23.2" lengthAdjust="spacingAndGlyphs" fill="#0f0b0a" stroke="#0f0b0a" stroke-width="0.18">WT</text>
<text x="551.7" y="994" font-size="14.5" textLength="27.3" lengthAdjust="spacingAndGlyphs" font-style="italic" fill="#0f0b0a" stroke="#0f0b0a" stroke-width="0.18">els1</text>
<text x="592.6" y="994" font-size="14.5" textLength="56.7" lengthAdjust="spacingAndGlyphs" font-style="italic" fill="#0f0b0a" stroke="#0f0b0a" stroke-width="0.18">pELS1F</text>
<text x="359.6" y="1018.5" font-size="15" textLength="55.2" lengthAdjust="spacingAndGlyphs" fill="#0f0b0a" stroke="#0f0b0a" stroke-width="0.18">2000 bp</text>
<text x="369.7" y="1038.9" font-size="15" textLength="45.1" lengthAdjust="spacingAndGlyphs" fill="#0f0b0a" stroke="#0f0b0a" stroke-width="0.18">750 bp</text>
<text x="370.2" y="1074.7" font-size="15" textLength="45.8" lengthAdjust="spacingAndGlyphs" fill="#0f0b0a" stroke="#0f0b0a" stroke-width="0.18">250 bp</text>
<g clip-path="url(#clipD)">
<rect x="431.2" y="1004.9" width="218.8" height="90" fill="#131313"/>
<rect x="439" y="1008" width="38" height="90" fill="#262626" filter="url(#b6)" opacity="0.7"/>
<rect x="497" y="1012" width="31" height="90" fill="#242424" filter="url(#b6)" opacity="0.7"/>
<rect x="550" y="1040" width="31" height="60" fill="#202020" filter="url(#b6)" opacity="0.7"/>
<rect x="604" y="1020" width="32" height="80" fill="#232323" filter="url(#b6)" opacity="0.7"/>
<rect x="440.6" y="1015.9" width="35.4" height="3.4" rx="1.5" fill="#909090" filter="url(#b1)"/>
<rect x="440.6" y="1025.7" width="35.4" height="3.4" rx="1.5" fill="#929292" filter="url(#b1)"/>
<rect x="440.6" y="1032.1999999999998" width="35.4" height="4.8" rx="1.5" fill="#c4c4c4" filter="url(#b1)"/>
<rect x="440.6" y="1044.6" width="35.4" height="2.8" rx="1.5" fill="#707070" filter="url(#b1)"/>
<rect x="440.6" y="1067.2" width="35.4" height="3.6" rx="1.5" fill="#747474" filter="url(#b1)"/>
<rect x="494.8" y="1043.4" width="35.6" height="8" rx="3" fill="#f0f0f0" filter="url(#b2)"/>
<rect x="497" y="1045.3" width="31" height="4.4" rx="2" fill="#fff" filter="url(#b1)"/>
<rect x="547.8" y="1069.9" width="34.8" height="5.8" rx="2.5" fill="#f4f4f4" filter="url(#b2)"/>
<rect x="550" y="1071.2" width="30" height="3" rx="1.5" fill="#fff" filter="url(#b1)"/>
<path d="M603.5,1045.2 L618,1046.3 L637.5,1047.2 L637.8,1052.3 L626,1052.5 L614,1049.6 L603.5,1048.4 Z" fill="#e6e6e6" filter="url(#b2)"/>
<path d="M618,1048 L636,1048.6 L636,1051.4 L625,1051.4 Z" fill="#fff" filter="url(#b1)"/>
<rect x="603.3" y="1069.8" width="30.2" height="5.8" rx="2.5" fill="#eeeeee" filter="url(#b2)"/>
<rect x="606" y="1071.2" width="24" height="3" rx="1.5" fill="#fff" filter="url(#b1)"/>
</g>
<text x="733" y="707.6" font-size="26.4" textLength="35.3" lengthAdjust="spacingAndGlyphs" fill="#0f0b0a" stroke="#0f0b0a" stroke-width="0.18">(E)</text>
<text x="1060.6" y="707.6" font-size="26.4" textLength="33.5" lengthAdjust="spacingAndGlyphs" fill="#0f0b0a" stroke="#0f0b0a" stroke-width="0.18">(F)</text>
<defs><clipPath id="clipE"><rect x="732.5" y="715.5" width="320.3" height="377"/></clipPath>
<clipPath id="clipF"><rect x="1059.8" y="715.5" width="137.2" height="377"/></clipPath>
<filter id="soft" x="-5%" y="-5%" width="110%" height="110%"><feGaussianBlur stdDeviation="0.45"/></filter>
<filter id="soft2" x="-5%" y="-5%" width="110%" height="110%"><feGaussianBlur stdDeviation="0.7"/></filter>
<linearGradient id="potg" x1="0" x2="1"><stop offset="0" stop-color="#aab4c4"/><stop offset="0.18" stop-color="#cfd6e2"/><stop offset="0.5" stop-color="#dfe4ec"/><stop offset="0.82" stop-color="#cdd4e0"/><stop offset="1" stop-color="#a4aec0"/></linearGradient>
<linearGradient id="potg2" x1="0" x2="1"><stop offset="0" stop-color="#b8c0ce"/><stop offset="0.18" stop-color="#dde2ea"/><stop offset="0.5" stop-color="#eceff4"/><stop offset="0.82" stop-color="#dfe3eb"/><stop offset="1" stop-color="#b4bccb"/></linearGradient>
</defs>
<rect x="732.5" y="715.5" width="320.3" height="377" fill="#050505"/>
<g clip-path="url(#clipE)">
<g filter="url(#soft)">
<path d="M805.0,1036.7 L804.0,1022.9 L802.9,1009.1 L801.9,995.3 L800.8,981.4 L799.7,967.6 L798.6,953.8 L797.5,939.9 L796.4,926.1 L795.2,912.2 L794.1,898.4 L793.5,884.5 L793.3,870.6 L792.6,856.7 L791.5,842.8 L790.1,829.0 L788.6,815.2 L786.9,801.4 L785.2,787.6 L783.4,773.8 L781.6,760.0 L779.7,746.2 L777.8,732.4 L777.6,732.4 L778.5,746.3 L779.4,760.2 L780.3,774.1 L781.2,788.0 L782.2,801.8 L783.1,815.7 L784.2,829.6 L785.3,843.4 L786.7,857.2 L788.5,871.0 L790.7,884.8 L792.6,898.5 L793.7,912.4 L794.9,926.2 L796.0,940.0 L797.1,953.9 L798.2,967.7 L799.3,981.5 L800.4,995.4 L801.4,1009.2 L802.5,1023.0 L803.5,1036.9Z" fill="#477c3b"/>
<path d="M814.5,1036.3 L813.2,1022.7 L811.9,1009.1 L810.7,995.6 L809.5,982.0 L808.4,968.4 L807.3,954.8 L806.3,941.2 L805.3,927.6 L804.6,913.9 L804.0,900.3 L803.3,886.7 L802.6,873.0 L801.9,859.4 L801.1,845.8 L800.3,832.2 L799.5,818.5 L798.7,804.9 L797.9,791.3 L797.2,777.6 L796.4,764.0 L795.7,750.4 L795.1,736.7 L794.9,736.7 L795.1,750.4 L795.3,764.0 L795.6,777.7 L795.9,791.4 L796.2,805.0 L796.7,818.7 L797.2,832.3 L797.8,846.0 L798.5,859.6 L799.4,873.2 L800.4,886.9 L801.4,900.5 L802.6,914.1 L803.8,927.7 L804.8,941.3 L805.9,954.9 L806.9,968.5 L808.1,982.1 L809.2,995.7 L810.4,1009.3 L811.7,1022.9 L813.0,1036.5Z" fill="#44783a"/>
<path d="M814.6,1037.5 L814.9,1023.8 L815.1,1010.1 L815.3,996.5 L815.6,982.8 L815.8,969.1 L816.0,955.5 L816.1,941.8 L816.3,928.1 L817.0,914.4 L817.9,900.8 L818.7,887.1 L819.3,873.4 L819.8,859.8 L820.2,846.1 L820.3,832.4 L820.1,818.8 L819.8,805.1 L819.4,791.4 L818.8,777.7 L818.2,764.0 L817.5,750.4 L816.9,736.7 L816.7,736.7 L816.0,750.4 L815.3,764.0 L814.6,777.7 L814.0,791.4 L813.4,805.0 L813.0,818.7 L812.6,832.4 L812.6,846.0 L812.7,859.7 L813.0,873.4 L813.4,887.1 L813.9,900.7 L814.5,914.4 L814.8,928.1 L814.6,941.8 L814.5,955.4 L814.3,969.1 L814.1,982.8 L813.8,996.4 L813.6,1010.1 L813.4,1023.8 L813.1,1037.5Z" fill="#3a6c30"/>
<path d="M812.7,1037.3 L814.1,1024.7 L815.6,1012.2 L817.0,999.6 L818.4,987.0 L819.7,974.4 L821.1,961.7 L822.5,949.1 L824.4,936.6 L826.2,924.0 L827.9,911.4 L829.6,898.8 L831.0,886.2 L832.4,873.6 L833.5,860.9 L834.5,848.2 L835.4,835.6 L836.2,822.9 L837.0,810.2 L837.7,797.5 L838.3,784.7 L838.9,772.0 L839.5,759.3 L839.3,759.3 L837.8,771.9 L836.3,784.6 L834.7,797.2 L833.2,809.8 L831.7,822.5 L830.2,835.1 L828.8,847.7 L827.4,860.3 L826.1,873.0 L825.0,885.6 L824.0,898.3 L823.1,910.9 L822.3,923.6 L821.6,936.3 L820.8,949.0 L819.6,961.6 L818.2,974.2 L816.9,986.8 L815.5,999.4 L814.1,1012.0 L812.6,1024.6 L811.2,1037.2Z" fill="#3a6c30"/>
<path d="M816.5,1036.8 L814.0,1025.8 L811.6,1014.8 L809.1,1003.7 L806.5,992.7 L803.9,981.6 L801.3,970.5 L798.6,959.5 L795.8,948.4 L793.1,937.3 L791.1,926.0 L789.1,914.7 L787.0,903.4 L784.5,892.2 L781.6,881.0 L778.4,870.0 L775.0,858.9 L771.5,847.9 L767.9,836.9 L764.2,825.9 L760.4,814.9 L756.6,804.0 L752.7,793.0 L752.5,793.0 L755.2,804.3 L757.9,815.7 L760.6,827.0 L763.2,838.2 L765.9,849.5 L768.6,860.7 L771.4,871.9 L774.2,883.0 L777.3,894.1 L780.6,905.1 L784.2,916.0 L788.0,926.8 L791.6,937.7 L794.4,948.8 L797.1,959.8 L799.8,970.9 L802.4,981.9 L805.0,993.0 L807.6,1004.0 L810.1,1015.1 L812.6,1026.1 L815.0,1037.2Z" fill="#477c3b"/>
<path d="M799.0,1035.6 L800.8,1025.0 L802.7,1014.4 L804.5,1003.8 L806.4,993.2 L808.2,982.7 L810.2,972.1 L812.1,961.4 L814.1,950.8 L816.3,940.3 L819.0,929.8 L821.6,919.3 L824.2,908.8 L826.6,898.2 L828.8,887.6 L830.9,876.9 L832.8,866.3 L834.7,855.6 L836.5,844.8 L838.3,834.1 L840.1,823.4 L841.9,812.6 L843.8,801.8 L843.6,801.8 L840.8,812.3 L838.0,822.9 L835.2,833.4 L832.5,844.0 L829.9,854.6 L827.3,865.1 L824.9,875.7 L822.6,886.4 L820.6,897.0 L818.8,907.7 L817.2,918.4 L815.7,929.2 L814.3,939.9 L812.6,950.6 L810.6,961.2 L808.7,971.8 L806.8,982.4 L804.9,993.0 L803.0,1003.6 L801.2,1014.2 L799.4,1024.8 L797.6,1035.3Z" fill="#3a6c30"/>
<path d="M819.7,1039.1 L821.0,1029.0 L822.3,1019.0 L823.7,1009.0 L825.0,998.9 L826.4,988.9 L827.7,978.8 L829.1,968.7 L830.5,958.7 L832.5,948.7 L834.4,938.7 L836.3,928.7 L838.1,918.7 L839.8,908.7 L841.3,898.6 L842.5,888.5 L843.7,878.4 L844.8,868.2 L845.9,858.1 L846.9,847.9 L847.9,837.8 L848.9,827.6 L849.9,817.4 L849.7,817.4 L847.8,827.4 L845.8,837.4 L843.8,847.5 L841.9,857.5 L840.1,867.6 L838.3,877.6 L836.6,887.6 L835.0,897.7 L833.7,907.8 L832.5,917.9 L831.5,928.0 L830.6,938.2 L829.7,948.3 L829.0,958.5 L827.6,968.5 L826.2,978.6 L824.9,988.7 L823.5,998.7 L822.2,1008.8 L820.8,1018.8 L819.5,1028.8 L818.2,1038.9Z" fill="#2e5e28"/>
<path d="M800.5,1034.5 L802.7,1025.2 L804.9,1015.9 L807.2,1006.6 L809.6,997.3 L812.1,988.1 L814.6,978.8 L817.2,969.5 L819.9,960.2 L822.6,950.9 L825.5,941.7 L829.1,932.6 L833.1,923.7 L836.9,914.7 L840.4,905.6 L843.6,896.4 L846.6,887.0 L849.6,877.7 L852.5,868.3 L855.5,858.9 L858.5,849.4 L861.5,839.9 L864.6,830.4 L864.4,830.4 L860.1,839.4 L855.8,848.4 L851.6,857.4 L847.6,866.5 L843.7,875.6 L840.0,884.7 L836.5,893.9 L833.2,903.2 L830.5,912.6 L828.2,922.1 L826.2,931.7 L824.0,941.2 L821.2,950.5 L818.5,959.8 L815.8,969.1 L813.2,978.4 L810.6,987.7 L808.2,997.0 L805.8,1006.3 L803.5,1015.6 L801.2,1024.9 L799.1,1034.2Z" fill="#2e5e28"/>
<path d="M818.6,1038.4 L820.5,1030.5 L822.5,1022.5 L824.6,1014.6 L826.8,1006.7 L829.1,998.7 L831.4,990.8 L833.9,982.9 L836.4,975.1 L839.0,967.2 L841.7,959.3 L844.8,951.5 L848.5,944.0 L852.0,936.4 L855.0,928.5 L858.0,920.7 L861.0,912.8 L864.0,904.9 L867.2,897.0 L870.3,889.0 L873.6,881.1 L876.8,873.2 L880.3,865.2 L880.1,865.2 L876.1,872.8 L872.1,880.4 L868.2,888.1 L864.4,895.7 L860.7,903.4 L857.1,911.2 L853.7,918.9 L850.4,926.7 L847.3,934.6 L844.8,942.6 L842.8,950.8 L840.3,958.8 L837.6,966.7 L835.0,974.6 L832.4,982.5 L830.0,990.4 L827.6,998.3 L825.4,1006.3 L823.2,1014.2 L821.1,1022.1 L819.1,1030.1 L817.1,1038.1Z" fill="#3a6c30"/>
<path d="M802.9,1037.3 L800.4,1029.0 L797.9,1020.7 L795.4,1012.4 L792.9,1004.0 L790.4,995.7 L787.9,987.3 L785.3,978.9 L782.7,970.5 L780.1,962.1 L777.9,953.6 L775.9,945.0 L773.9,936.3 L771.7,927.7 L769.3,919.1 L766.8,910.6 L764.1,902.1 L761.1,893.7 L757.9,885.3 L754.5,876.9 L751.1,868.6 L747.5,860.3 L744.0,852.0 L743.8,852.0 L745.9,860.8 L748.0,869.6 L750.2,878.4 L752.4,887.1 L754.8,895.7 L757.2,904.3 L760.0,912.8 L762.9,921.2 L765.9,929.5 L769.1,937.8 L772.3,946.1 L775.6,954.3 L778.7,962.6 L781.3,971.0 L783.9,979.4 L786.4,987.8 L789.0,996.1 L791.5,1004.5 L794.0,1012.8 L796.5,1021.1 L799.0,1029.5 L801.4,1037.8Z" fill="#2a5825"/>
<path d="M800.0,1034.4 L798.9,1022.2 L797.8,1009.9 L796.7,997.7 L795.8,985.5 L794.8,973.3 L793.9,961.1 L793.1,948.8 L792.3,936.6 L791.9,924.3 L791.8,912.1 L791.6,899.8 L791.5,887.5 L791.4,875.3 L791.2,863.0 L790.9,850.8 L790.6,838.5 L790.2,826.3 L789.5,814.0 L788.7,801.8 L787.8,789.5 L786.9,777.3 L786.1,765.0 L785.9,765.0 L785.2,777.3 L784.5,789.6 L784.0,801.9 L783.6,814.2 L783.5,826.5 L783.7,838.7 L784.1,851.0 L784.7,863.3 L785.5,875.5 L786.4,887.8 L787.4,900.0 L788.5,912.2 L789.8,924.5 L790.8,936.7 L791.6,948.9 L792.4,961.2 L793.3,973.4 L794.3,985.6 L795.3,997.8 L796.3,1010.1 L797.4,1022.3 L798.5,1034.5Z" fill="#386a30"/>
<path d="M796.4,1037.5 L796.2,1025.7 L796.1,1013.9 L796.1,1002.1 L796.2,990.3 L796.3,978.4 L796.4,966.6 L796.7,954.8 L797.0,943.0 L797.4,931.2 L797.9,919.4 L799.4,907.7 L801.0,896.0 L802.3,884.2 L803.1,872.5 L803.7,860.7 L804.3,848.9 L804.9,837.1 L805.5,825.3 L806.1,813.5 L806.7,801.7 L807.3,789.8 L808.1,778.0 L807.9,778.0 L806.1,789.7 L804.3,801.4 L802.6,813.2 L801.1,824.9 L799.6,836.7 L798.3,848.4 L797.2,860.2 L796.2,872.0 L795.6,883.8 L795.5,895.7 L795.9,907.5 L796.4,919.4 L795.9,931.2 L795.5,943.0 L795.2,954.8 L794.9,966.6 L794.8,978.4 L794.7,990.2 L794.6,1002.1 L794.6,1013.9 L794.7,1025.7 L794.9,1037.5Z" fill="#3a6c30"/>
<path d="M807.8,1036.3 L809.0,1025.0 L810.1,1013.6 L811.2,1002.3 L812.2,990.9 L813.2,979.6 L814.1,968.2 L815.0,956.9 L815.8,945.5 L816.6,934.1 L817.4,922.8 L818.9,911.4 L820.3,900.1 L821.4,888.7 L822.3,877.3 L822.8,865.9 L823.1,854.5 L823.2,843.1 L823.1,831.7 L823.0,820.3 L822.8,808.8 L822.4,797.4 L822.1,786.0 L821.9,786.0 L821.2,797.4 L820.3,808.8 L819.5,820.2 L818.7,831.6 L817.9,842.9 L817.2,854.3 L816.5,865.7 L816.0,877.0 L815.7,888.4 L815.6,899.8 L815.7,911.2 L815.8,922.7 L815.1,934.0 L814.3,945.4 L813.5,956.7 L812.6,968.1 L811.7,979.5 L810.7,990.8 L809.7,1002.1 L808.6,1013.5 L807.5,1024.8 L806.4,1036.2Z" fill="#34642c"/>
<path d="M803.1,1035.8 L801.3,1025.2 L799.5,1014.6 L797.7,1003.9 L796.0,993.3 L794.3,982.6 L792.6,971.9 L790.9,961.2 L789.2,950.5 L787.6,939.8 L786.0,929.1 L784.9,918.3 L784.0,907.5 L783.1,896.7 L782.1,885.9 L780.9,875.1 L779.7,864.3 L778.1,853.6 L776.3,842.8 L774.4,832.1 L772.3,821.4 L770.2,810.7 L768.1,800.0 L767.9,800.0 L768.4,810.9 L768.9,821.8 L769.6,832.7 L770.4,843.6 L771.4,854.4 L772.7,865.2 L774.4,876.0 L776.2,886.7 L778.2,897.4 L780.3,908.0 L782.5,918.7 L784.5,929.3 L786.1,940.0 L787.8,950.8 L789.4,961.5 L791.1,972.1 L792.8,982.8 L794.5,993.5 L796.2,1004.2 L798.0,1014.8 L799.8,1025.5 L801.6,1036.1Z" fill="#34642c"/>
<path d="M808.8,1038.9 L807.8,1028.4 L806.8,1017.8 L805.9,1007.2 L804.9,996.7 L804.0,986.1 L803.1,975.5 L802.2,964.9 L801.3,954.3 L800.8,943.7 L800.5,933.1 L800.2,922.5 L799.9,911.9 L799.4,901.2 L798.9,890.6 L798.3,880.0 L797.7,869.4 L796.7,858.8 L795.5,848.3 L794.3,837.7 L792.9,827.1 L791.5,816.6 L790.1,806.0 L789.9,806.0 L789.8,816.7 L789.7,827.3 L789.7,838.0 L789.9,848.6 L790.2,859.3 L790.7,869.9 L791.5,880.5 L792.4,891.1 L793.5,901.7 L794.6,912.3 L795.9,922.8 L797.2,933.4 L798.6,943.9 L799.8,954.5 L800.7,965.1 L801.6,975.6 L802.5,986.2 L803.4,996.8 L804.4,1007.4 L805.3,1017.9 L806.3,1028.5 L807.3,1039.1Z" fill="#3a6c30"/>
<path d="M810.1,1034.5 L810.6,1024.4 L811.3,1014.2 L812.0,1004.1 L812.7,994.0 L813.5,983.8 L814.3,973.7 L815.2,963.6 L816.3,953.5 L817.8,943.4 L819.4,933.3 L820.9,923.3 L822.5,913.2 L824.0,903.2 L825.5,893.1 L827.0,883.0 L828.4,873.0 L829.6,862.8 L830.8,852.7 L831.9,842.6 L832.9,832.4 L834.0,822.2 L835.1,812.0 L834.9,812.0 L832.5,821.9 L830.1,831.9 L827.9,841.9 L825.8,851.9 L823.8,862.0 L822.1,872.1 L820.7,882.2 L819.4,892.3 L818.3,902.4 L817.3,912.6 L816.5,922.8 L815.8,932.9 L815.1,943.1 L814.6,953.3 L813.8,963.4 L812.8,973.6 L812.0,983.7 L811.2,993.9 L810.5,1004.0 L809.8,1014.2 L809.1,1024.3 L808.6,1034.5Z" fill="#44783a"/>
<path d="M801.6,1035.4 L799.6,1022.9 L797.7,1010.5 L795.8,998.0 L793.8,985.6 L792.0,973.1 L790.1,960.6 L788.2,948.1 L786.6,935.6 L785.1,923.1 L783.6,910.5 L782.1,898.0 L780.6,885.4 L779.0,872.9 L777.4,860.3 L775.8,847.8 L774.0,835.2 L772.1,822.7 L770.2,810.1 L768.2,797.6 L766.1,785.1 L764.1,772.5 L762.1,760.0 L761.9,760.0 L763.0,772.7 L764.1,785.3 L765.3,798.0 L766.6,810.6 L767.9,823.2 L769.3,835.8 L770.9,848.4 L772.7,861.0 L774.5,873.5 L776.4,886.0 L778.4,898.5 L780.5,911.0 L782.6,923.4 L784.7,935.9 L786.7,948.4 L788.6,960.9 L790.5,973.3 L792.4,985.8 L794.3,998.3 L796.2,1010.7 L798.2,1023.2 L800.1,1035.6Z" fill="#2e5e28"/>
<path d="M793.2,1035.8 L792.0,1024.0 L790.9,1012.1 L789.8,1000.3 L788.7,988.5 L787.7,976.6 L786.7,964.8 L785.7,953.0 L784.8,941.1 L783.9,929.3 L783.5,917.4 L783.3,905.5 L783.0,893.6 L782.7,881.7 L782.2,869.8 L781.7,858.0 L781.1,846.1 L780.2,834.2 L779.1,822.4 L777.9,810.6 L776.7,798.7 L775.4,786.9 L774.1,775.0 L773.9,775.0 L773.7,786.9 L773.5,798.9 L773.4,810.8 L773.5,822.7 L773.7,834.6 L774.1,846.5 L774.9,858.4 L775.8,870.2 L776.9,882.1 L778.2,893.9 L779.5,905.8 L781.0,917.6 L782.4,929.4 L783.3,941.2 L784.2,953.1 L785.2,964.9 L786.2,976.8 L787.2,988.6 L788.3,1000.4 L789.4,1012.3 L790.5,1024.1 L791.7,1035.9Z" fill="#477c3b"/>
<path d="M796.4,1035.9 L796.3,1023.4 L796.2,1010.8 L796.1,998.3 L796.1,985.7 L796.1,973.2 L796.1,960.7 L796.2,948.1 L796.5,935.6 L797.0,923.0 L797.6,910.5 L798.2,898.0 L798.7,885.4 L799.2,872.9 L799.6,860.4 L800.0,847.8 L800.2,835.3 L800.3,822.8 L800.3,810.2 L800.3,797.7 L800.2,785.1 L800.1,772.6 L800.1,760.0 L799.9,760.0 L798.9,772.5 L797.8,785.0 L796.8,797.6 L796.0,810.1 L795.2,822.6 L794.5,835.2 L794.1,847.7 L793.9,860.2 L793.7,872.8 L793.7,885.4 L793.8,897.9 L794.0,910.5 L794.3,923.0 L794.6,935.6 L794.7,948.1 L794.6,960.7 L794.6,973.2 L794.6,985.7 L794.6,998.3 L794.7,1010.8 L794.8,1023.4 L794.9,1035.9Z" fill="#44783a"/>
<path d="M812.3,1034.8 L812.4,1021.9 L812.5,1009.0 L812.7,996.2 L812.9,983.3 L813.2,970.4 L813.5,957.6 L813.9,944.7 L814.4,931.9 L814.9,919.0 L815.5,906.2 L816.2,893.3 L817.5,880.5 L818.8,867.7 L820.0,854.9 L821.1,842.0 L822.1,829.2 L822.9,816.4 L823.6,803.5 L824.2,790.7 L824.8,777.8 L825.4,764.9 L826.1,752.0 L825.9,752.0 L824.1,764.8 L822.3,777.5 L820.6,790.3 L819.0,803.2 L817.7,816.0 L816.5,828.8 L815.7,841.7 L815.2,854.6 L814.8,867.4 L814.6,880.3 L814.5,893.2 L814.0,906.1 L813.4,918.9 L812.9,931.8 L812.4,944.7 L812.0,957.5 L811.7,970.4 L811.4,983.3 L811.2,996.2 L811.0,1009.0 L810.9,1021.9 L810.8,1034.8Z" fill="#3d7236"/>
<path d="M809.0,1036.1 L808.7,1025.3 L808.4,1014.6 L808.1,1003.9 L807.9,993.1 L807.8,982.4 L807.7,971.7 L807.6,960.9 L807.6,950.2 L807.8,939.5 L808.7,928.8 L809.6,918.0 L810.3,907.3 L811.0,896.6 L811.4,885.9 L811.6,875.2 L811.7,864.5 L811.8,853.7 L811.8,843.0 L811.9,832.3 L811.9,821.5 L811.9,810.8 L812.1,800.0 L811.9,800.0 L810.7,810.7 L809.4,821.4 L808.3,832.1 L807.3,842.8 L806.4,853.5 L805.5,864.2 L804.9,875.0 L804.4,885.7 L804.2,896.5 L804.4,907.2 L804.7,918.0 L805.3,928.7 L806.0,939.5 L806.1,950.2 L806.1,960.9 L806.2,971.7 L806.3,982.4 L806.4,993.2 L806.6,1003.9 L806.9,1014.6 L807.2,1025.4 L807.5,1036.1Z" fill="#2e5e28"/>
<path d="M812.7,1035.9 L812.0,1026.4 L811.1,1016.9 L810.2,1007.4 L809.3,997.9 L808.2,988.4 L807.1,978.9 L806.0,969.4 L804.7,960.0 L803.4,950.5 L802.8,940.9 L802.1,931.3 L801.3,921.8 L800.2,912.2 L798.7,902.7 L796.9,893.3 L794.9,883.9 L792.7,874.5 L790.4,865.2 L788.0,855.8 L785.4,846.5 L782.8,837.3 L780.1,828.0 L779.9,828.0 L781.5,837.5 L783.0,847.1 L784.4,856.6 L785.9,866.1 L787.3,875.6 L788.8,885.0 L790.3,894.5 L791.8,903.9 L793.6,913.3 L795.6,922.7 L797.7,932.0 L799.9,941.3 L802.0,950.7 L803.2,960.1 L804.5,969.6 L805.6,979.1 L806.7,988.6 L807.8,998.0 L808.7,1007.5 L809.6,1017.0 L810.5,1026.5 L811.2,1036.0Z" fill="#2a5825"/>
<path d="M797.5,1037.5 L795.8,1028.1 L794.1,1018.7 L792.4,1009.4 L790.7,1000.0 L789.0,990.6 L787.4,981.2 L785.7,971.8 L784.0,962.4 L782.5,952.9 L781.5,943.4 L780.4,933.8 L779.2,924.3 L777.9,914.8 L776.6,905.3 L775.0,895.8 L773.3,886.4 L771.3,876.9 L769.2,867.5 L767.0,858.1 L764.7,848.8 L762.4,839.4 L760.1,830.0 L759.9,830.0 L760.9,839.6 L761.9,849.3 L762.9,858.9 L764.0,868.4 L765.2,878.0 L766.6,887.5 L768.1,897.0 L769.9,906.5 L771.9,915.9 L773.9,925.2 L776.1,934.6 L778.4,943.9 L780.7,953.2 L782.5,962.6 L784.2,972.0 L785.9,981.4 L787.6,990.8 L789.2,1000.2 L790.9,1009.6 L792.6,1019.0 L794.3,1028.4 L796.0,1037.7Z" fill="#2e5e28"/>
<path d="M809.4,1034.5 L811.1,1026.2 L812.9,1017.9 L814.7,1009.6 L816.5,1001.3 L818.3,993.0 L820.1,984.6 L821.8,976.3 L823.9,968.0 L826.2,959.8 L828.5,951.5 L830.6,943.2 L832.7,934.9 L834.6,926.5 L836.3,918.1 L837.9,909.6 L839.5,901.2 L841.0,892.7 L842.5,884.2 L843.9,875.6 L845.3,867.1 L846.7,858.6 L848.1,850.0 L847.9,850.0 L845.7,858.4 L843.5,866.7 L841.3,875.1 L839.2,883.5 L837.0,891.8 L835.0,900.2 L832.9,908.6 L831.0,916.9 L829.1,925.3 L827.4,933.7 L825.9,942.2 L824.5,950.6 L823.2,959.1 L821.9,967.6 L820.4,976.0 L818.6,984.3 L816.8,992.7 L815.0,1001.0 L813.2,1009.3 L811.5,1017.6 L809.7,1025.9 L807.9,1034.2Z" fill="#34642c"/>
<path d="M800.0,1036.0 L798.1,1029.0 L796.2,1022.0 L794.3,1015.0 L792.4,1008.0 L790.5,1000.9 L788.6,993.9 L786.6,986.8 L784.8,979.7 L783.2,972.5 L781.7,965.3 L780.1,958.2 L778.4,951.0 L776.7,943.8 L774.8,936.6 L772.9,929.5 L770.7,922.4 L768.4,915.3 L766.1,908.2 L763.6,901.2 L761.2,894.1 L758.6,887.0 L756.1,880.0 L755.9,880.0 L757.5,887.4 L759.0,894.7 L760.6,902.0 L762.2,909.3 L763.9,916.6 L765.6,923.8 L767.5,931.0 L769.5,938.1 L771.6,945.2 L773.8,952.2 L776.1,959.3 L778.4,966.2 L780.8,973.2 L783.2,980.2 L785.2,987.2 L787.1,994.3 L789.0,1001.3 L791.0,1008.4 L792.9,1015.4 L794.8,1022.4 L796.7,1029.4 L798.5,1036.4Z" fill="#3a6c30"/>
<path d="M819.0,1034.5 L819.5,1025.4 L819.9,1016.4 L820.3,1007.3 L820.7,998.2 L821.0,989.2 L821.3,980.1 L821.5,971.0 L821.7,962.0 L821.9,952.9 L822.0,943.8 L822.2,934.8 L823.2,925.7 L824.1,916.6 L824.6,907.5 L824.9,898.5 L824.7,889.4 L824.3,880.3 L823.6,871.2 L822.9,862.2 L822.0,853.1 L821.1,844.0 L820.1,835.0 L819.9,835.0 L819.5,844.1 L819.1,853.2 L818.7,862.3 L818.4,871.3 L818.1,880.4 L817.9,889.5 L817.9,898.5 L818.3,907.6 L818.9,916.6 L819.7,925.7 L820.5,934.7 L820.5,943.8 L820.4,952.9 L820.2,961.9 L820.0,971.0 L819.8,980.1 L819.5,989.1 L819.2,998.2 L818.8,1007.2 L818.4,1016.3 L818.0,1025.4 L817.5,1034.4Z" fill="#44783a"/>
<path d="M811.4,1037.0 L812.3,1029.0 L813.2,1020.9 L814.0,1012.9 L815.0,1004.9 L815.9,996.8 L816.8,988.8 L817.8,980.8 L818.7,972.7 L819.7,964.7 L820.7,956.7 L822.0,948.7 L823.9,940.7 L825.6,932.8 L827.1,924.8 L828.2,916.8 L829.1,908.7 L829.9,900.6 L830.6,892.5 L831.3,884.4 L831.9,876.3 L832.5,868.1 L833.1,860.0 L832.9,860.0 L831.2,868.0 L829.5,875.9 L827.8,883.9 L826.2,891.9 L824.7,899.9 L823.3,907.9 L822.0,915.9 L821.1,924.0 L820.4,932.1 L820.1,940.2 L819.9,948.4 L819.2,956.5 L818.2,964.5 L817.2,972.6 L816.3,980.6 L815.3,988.6 L814.4,996.7 L813.5,1004.7 L812.6,1012.7 L811.7,1020.8 L810.8,1028.8 L809.9,1036.8Z" fill="#44783a"/>
<path d="M802.4,1035.7 L804.0,1028.5 L805.6,1021.3 L807.4,1014.1 L809.3,1007.0 L811.2,999.8 L813.3,992.7 L815.4,985.6 L817.7,978.5 L820.0,971.4 L822.7,964.4 L825.6,957.5 L828.6,950.6 L831.6,943.7 L834.5,936.7 L837.4,929.7 L840.3,922.7 L843.1,915.6 L846.0,908.5 L848.9,901.4 L851.9,894.3 L854.9,887.2 L858.1,880.0 L857.9,880.0 L854.0,886.7 L850.2,893.5 L846.4,900.2 L842.8,907.1 L839.4,914.0 L836.1,920.9 L832.9,927.9 L830.1,934.9 L827.4,942.0 L825.0,949.2 L822.8,956.5 L820.7,963.7 L818.6,970.9 L816.2,978.0 L814.0,985.1 L811.8,992.3 L809.8,999.4 L807.8,1006.6 L806.0,1013.8 L804.2,1021.0 L802.5,1028.2 L800.9,1035.4Z" fill="#3a6c30"/>
<path d="M812.4,1035.3 L809.8,1029.5 L807.2,1023.7 L804.5,1017.9 L801.8,1012.0 L799.1,1006.2 L796.3,1000.3 L793.5,994.4 L790.6,988.6 L787.7,982.6 L785.1,976.6 L782.5,970.4 L779.8,964.3 L777.0,958.3 L774.1,952.2 L771.0,946.2 L767.9,940.2 L764.5,934.2 L761.0,928.3 L757.4,922.5 L753.7,916.6 L749.9,910.8 L746.1,905.0 L745.9,905.0 L748.9,911.3 L751.8,917.7 L754.7,923.9 L757.6,930.1 L760.6,936.3 L763.6,942.4 L766.7,948.4 L769.9,954.3 L773.2,960.2 L776.5,966.0 L779.8,971.8 L783.1,977.6 L786.4,983.3 L789.3,989.2 L792.1,995.1 L794.9,1001.0 L797.7,1006.8 L800.5,1012.7 L803.2,1018.5 L805.8,1024.3 L808.4,1030.1 L811.0,1035.9Z" fill="#2e5e28"/>
<path d="M817.0,1037.9 L819.1,1032.0 L821.2,1026.0 L823.4,1020.1 L825.5,1014.1 L827.8,1008.1 L830.0,1002.1 L832.3,996.1 L834.6,990.1 L837.0,984.1 L839.4,978.1 L842.0,972.2 L844.9,966.3 L847.8,960.5 L850.5,954.5 L853.0,948.4 L855.5,942.3 L857.9,936.2 L860.3,930.0 L862.7,923.8 L865.1,917.5 L867.6,911.3 L870.1,905.0 L869.9,905.0 L866.8,910.9 L863.7,916.9 L860.7,922.9 L857.7,928.8 L854.8,934.8 L852.0,940.8 L849.2,946.8 L846.7,952.9 L844.3,959.0 L842.2,965.2 L840.2,971.5 L838.0,977.6 L835.6,983.6 L833.2,989.6 L830.9,995.6 L828.6,1001.6 L826.4,1007.6 L824.1,1013.6 L822.0,1019.6 L819.8,1025.5 L817.7,1031.5 L815.6,1037.4Z" fill="#44783a"/>
<path d="M811.2,1038.4 L809.8,1027.5 L808.3,1016.5 L806.8,1005.6 L805.3,994.7 L803.7,983.7 L802.1,972.8 L800.4,961.9 L798.7,950.9 L797.0,940.0 L795.2,929.1 L793.4,918.1 L791.5,907.2 L789.6,896.3 L787.7,885.3 L785.7,874.4 L783.7,863.5 L781.6,852.5 L779.5,841.6 L777.4,830.7 L775.2,819.7 L773.0,808.8 L770.1,798.0 L769.9,798.0 L771.5,809.1 L773.8,820.0 L776.0,830.9 L778.1,841.9 L780.2,852.8 L782.3,863.7 L784.3,874.7 L786.3,885.6 L788.2,896.5 L790.1,907.4 L792.0,918.4 L793.8,929.3 L795.6,940.2 L797.3,951.2 L799.0,962.1 L800.7,973.0 L802.3,983.9 L803.9,994.9 L805.4,1005.8 L806.9,1016.7 L808.4,1027.7 L809.8,1038.6Z" fill="#4a7f3c"/>
<g filter="url(#soft2)">
<circle cx="759.2" cy="731.5" r="1.4" fill="#8f9e52"/>
<circle cx="759.7" cy="732.8" r="1.6" fill="#5f8238"/>
<circle cx="759.7" cy="734.2" r="1.4" fill="#8f9e52"/>
<circle cx="760.0" cy="735.5" r="1.2" fill="#8f9e52"/>
<circle cx="761.5" cy="736.8" r="1.8" fill="#92a456"/>
<circle cx="760.0" cy="738.1" r="1.7" fill="#5f8238"/>
<circle cx="760.5" cy="739.5" r="1.5" fill="#5f8238"/>
<circle cx="759.4" cy="740.8" r="1.7" fill="#8f9e52"/>
<circle cx="760.4" cy="742.1" r="1.2" fill="#8f9e52"/>
<circle cx="760.3" cy="743.5" r="1.7" fill="#6a8a3e"/>
<circle cx="763.0" cy="744.8" r="1.6" fill="#6a8a3e"/>
<circle cx="760.7" cy="746.1" r="1.1" fill="#92a456"/>
<circle cx="760.2" cy="747.5" r="1.6" fill="#5f8238"/>
<circle cx="760.4" cy="748.8" r="1.8" fill="#6a8a3e"/>
<circle cx="762.2" cy="750.1" r="1.3" fill="#6a8a3e"/>
<circle cx="763.3" cy="751.5" r="1.3" fill="#6a8a3e"/>
<circle cx="764.2" cy="752.8" r="1.7" fill="#7d9248"/>
<circle cx="764.7" cy="754.1" r="1.4" fill="#5f8238"/>
<circle cx="765.0" cy="755.4" r="1.3" fill="#7d9248"/>
<circle cx="762.7" cy="756.8" r="1.8" fill="#8f9e52"/>
<circle cx="764.0" cy="758.1" r="1.9" fill="#92a456"/>
<circle cx="764.7" cy="759.4" r="1.2" fill="#6a8a3e"/>
<circle cx="761.8" cy="760.8" r="1.3" fill="#6a8a3e"/>
<circle cx="762.5" cy="762.1" r="1.5" fill="#92a456"/>
<circle cx="764.5" cy="763.4" r="1.8" fill="#5f8238"/>
<circle cx="763.3" cy="764.8" r="1.2" fill="#8f9e52"/>
<circle cx="762.6" cy="766.1" r="1.6" fill="#92a456"/>
<circle cx="764.3" cy="767.4" r="1.3" fill="#5f8238"/>
<circle cx="762.0" cy="768.7" r="1.2" fill="#6a8a3e"/>
<circle cx="763.1" cy="770.1" r="1.7" fill="#92a456"/>
<circle cx="763.7" cy="771.4" r="1.2" fill="#8f9e52"/>
<circle cx="767.1" cy="772.7" r="1.2" fill="#8f9e52"/>
<circle cx="766.0" cy="774.1" r="1.6" fill="#92a456"/>
<circle cx="767.4" cy="775.4" r="1.6" fill="#7d9248"/>
<circle cx="767.2" cy="776.7" r="1.3" fill="#8f9e52"/>
<circle cx="767.3" cy="778.0" r="1.5" fill="#8f9e52"/>
<circle cx="766.2" cy="779.4" r="1.3" fill="#92a456"/>
<circle cx="767.4" cy="780.7" r="1.9" fill="#5f8238"/>
<circle cx="767.9" cy="782.0" r="1.7" fill="#6a8a3e"/>
<circle cx="768.6" cy="783.4" r="1.7" fill="#7d9248"/>
<circle cx="767.7" cy="784.7" r="1.8" fill="#6a8a3e"/>
<circle cx="768.1" cy="786.0" r="1.5" fill="#8f9e52"/>
<circle cx="768.7" cy="787.4" r="1.6" fill="#5f8238"/>
<circle cx="769.7" cy="788.7" r="1.9" fill="#6a8a3e"/>
<circle cx="769.2" cy="790.0" r="1.9" fill="#8f9e52"/>
<circle cx="770.0" cy="791.4" r="1.8" fill="#8f9e52"/>
<circle cx="769.4" cy="792.7" r="1.8" fill="#8f9e52"/>
<circle cx="770.7" cy="794.0" r="1.5" fill="#92a456"/>
<circle cx="769.7" cy="795.3" r="1.7" fill="#8f9e52"/>
<circle cx="770.0" cy="796.7" r="1.2" fill="#6a8a3e"/>
<circle cx="770.1" cy="798.0" r="1.4" fill="#92a456"/>
</g>
<path d="M805.9,1034.2 L806.0,1023.1 L806.2,1012.0 L806.4,1000.9 L806.6,989.8 L806.7,978.7 L806.9,967.6 L807.1,956.5 L807.3,945.4 L807.5,934.3 L807.7,923.2 L807.9,912.1 L808.2,901.0 L808.4,889.9 L808.6,878.8 L808.8,867.7 L809.1,856.6 L809.3,845.5 L809.6,834.4 L809.8,823.3 L810.1,812.2 L810.4,801.1 L810.0,790.0 L809.8,790.0 L808.9,801.1 L808.6,812.2 L808.4,823.3 L808.2,834.4 L807.9,845.5 L807.7,856.6 L807.4,867.7 L807.2,878.8 L807.0,889.9 L806.8,901.0 L806.5,912.1 L806.3,923.2 L806.1,934.3 L805.9,945.4 L805.7,956.4 L805.5,967.5 L805.3,978.6 L805.2,989.7 L805.0,1000.8 L804.8,1011.9 L804.6,1023.0 L804.5,1034.1Z" fill="#4a7f3c"/>
<g filter="url(#soft2)">
<circle cx="801.7" cy="746.2" r="1.2" fill="#8f9e52"/>
<circle cx="801.0" cy="747.5" r="1.4" fill="#7d9248"/>
<circle cx="802.1" cy="748.9" r="1.9" fill="#5f8238"/>
<circle cx="803.6" cy="750.2" r="1.7" fill="#6a8a3e"/>
<circle cx="803.2" cy="751.5" r="1.7" fill="#7d9248"/>
<circle cx="803.1" cy="752.8" r="1.5" fill="#5f8238"/>
<circle cx="804.2" cy="754.2" r="1.5" fill="#5f8238"/>
<circle cx="802.6" cy="755.5" r="1.6" fill="#5f8238"/>
<circle cx="802.5" cy="756.8" r="1.8" fill="#5f8238"/>
<circle cx="804.2" cy="758.1" r="1.6" fill="#7d9248"/>
<circle cx="803.7" cy="759.5" r="1.2" fill="#8f9e52"/>
<circle cx="804.8" cy="760.8" r="1.1" fill="#8f9e52"/>
<circle cx="804.4" cy="762.1" r="1.4" fill="#5f8238"/>
<circle cx="802.1" cy="763.5" r="1.2" fill="#7d9248"/>
<circle cx="801.9" cy="764.8" r="1.5" fill="#6a8a3e"/>
<circle cx="806.9" cy="766.1" r="1.7" fill="#6a8a3e"/>
<circle cx="803.4" cy="767.4" r="1.5" fill="#7d9248"/>
<circle cx="804.1" cy="768.8" r="1.8" fill="#6a8a3e"/>
<circle cx="805.3" cy="770.1" r="1.2" fill="#6a8a3e"/>
<circle cx="806.0" cy="771.4" r="1.8" fill="#7d9248"/>
<circle cx="806.7" cy="772.7" r="1.9" fill="#8f9e52"/>
<circle cx="805.2" cy="774.1" r="1.3" fill="#92a456"/>
<circle cx="806.2" cy="775.4" r="1.4" fill="#5f8238"/>
<circle cx="807.3" cy="776.7" r="1.5" fill="#5f8238"/>
<circle cx="806.9" cy="778.1" r="1.5" fill="#92a456"/>
<circle cx="808.6" cy="779.4" r="1.7" fill="#6a8a3e"/>
<circle cx="807.9" cy="780.7" r="1.6" fill="#5f8238"/>
<circle cx="809.2" cy="782.0" r="1.5" fill="#5f8238"/>
<circle cx="809.6" cy="783.4" r="1.5" fill="#5f8238"/>
<circle cx="809.8" cy="784.7" r="1.8" fill="#7d9248"/>
<circle cx="810.5" cy="786.0" r="1.6" fill="#92a456"/>
<circle cx="810.7" cy="787.3" r="1.4" fill="#92a456"/>
<circle cx="810.8" cy="788.7" r="1.3" fill="#7d9248"/>
<circle cx="810.9" cy="790.0" r="1.2" fill="#7d9248"/>
</g>
<path d="M796.3,1034.5 L797.4,1024.4 L798.5,1014.3 L799.6,1004.2 L800.8,994.1 L802.0,984.0 L803.2,973.9 L804.5,963.8 L805.8,953.6 L807.1,943.5 L808.5,933.4 L809.9,923.3 L811.3,913.2 L812.7,903.1 L814.2,893.0 L815.7,882.9 L817.3,872.8 L818.9,862.7 L820.5,852.6 L822.1,842.4 L823.8,832.3 L825.5,822.2 L826.6,812.0 L826.4,812.0 L824.0,822.0 L822.4,832.1 L820.7,842.2 L819.1,852.3 L817.5,862.4 L815.9,872.6 L814.4,882.7 L812.8,892.8 L811.4,902.9 L809.9,913.0 L808.5,923.1 L807.1,933.2 L805.7,943.3 L804.4,953.5 L803.1,963.6 L801.8,973.7 L800.6,983.8 L799.4,993.9 L798.2,1004.0 L797.1,1014.1 L796.0,1024.3 L794.9,1034.4Z" fill="#4a7f3c"/>
<g filter="url(#soft2)">
<circle cx="828.8" cy="767.0" r="1.4" fill="#6a8a3e"/>
<circle cx="829.2" cy="768.4" r="1.7" fill="#7d9248"/>
<circle cx="829.0" cy="769.7" r="1.6" fill="#8f9e52"/>
<circle cx="828.1" cy="771.1" r="1.6" fill="#92a456"/>
<circle cx="830.9" cy="772.5" r="1.9" fill="#8f9e52"/>
<circle cx="830.2" cy="773.8" r="1.6" fill="#92a456"/>
<circle cx="829.4" cy="775.2" r="1.6" fill="#7d9248"/>
<circle cx="830.7" cy="776.5" r="1.5" fill="#8f9e52"/>
<circle cx="826.7" cy="777.9" r="1.5" fill="#5f8238"/>
<circle cx="831.0" cy="779.3" r="1.5" fill="#7d9248"/>
<circle cx="826.8" cy="780.6" r="1.3" fill="#7d9248"/>
<circle cx="831.1" cy="782.0" r="1.8" fill="#8f9e52"/>
<circle cx="828.4" cy="783.4" r="1.2" fill="#6a8a3e"/>
<circle cx="825.3" cy="784.7" r="1.2" fill="#6a8a3e"/>
<circle cx="827.3" cy="786.1" r="1.5" fill="#6a8a3e"/>
<circle cx="825.6" cy="787.5" r="1.4" fill="#8f9e52"/>
<circle cx="828.9" cy="788.8" r="1.2" fill="#6a8a3e"/>
<circle cx="826.2" cy="790.2" r="1.4" fill="#7d9248"/>
<circle cx="827.4" cy="791.5" r="1.2" fill="#8f9e52"/>
<circle cx="826.0" cy="792.9" r="1.2" fill="#6a8a3e"/>
<circle cx="827.2" cy="794.3" r="1.3" fill="#5f8238"/>
<circle cx="828.8" cy="795.6" r="1.7" fill="#92a456"/>
<circle cx="826.4" cy="797.0" r="1.2" fill="#7d9248"/>
<circle cx="828.1" cy="798.4" r="1.4" fill="#92a456"/>
<circle cx="828.3" cy="799.7" r="1.7" fill="#6a8a3e"/>
<circle cx="828.0" cy="801.1" r="1.4" fill="#7d9248"/>
<circle cx="826.9" cy="802.5" r="1.4" fill="#6a8a3e"/>
<circle cx="827.0" cy="803.8" r="1.8" fill="#5f8238"/>
<circle cx="826.9" cy="805.2" r="1.3" fill="#92a456"/>
<circle cx="827.3" cy="806.5" r="1.6" fill="#5f8238"/>
<circle cx="827.0" cy="807.9" r="1.2" fill="#5f8238"/>
<circle cx="828.1" cy="809.3" r="1.6" fill="#8f9e52"/>
<circle cx="827.5" cy="810.6" r="1.9" fill="#8f9e52"/>
<circle cx="826.2" cy="812.0" r="1.2" fill="#7d9248"/>
</g>
<path d="M799.6,1035.9 L798.5,1025.6 L797.4,1015.3 L796.2,1004.9 L795.0,994.6 L793.8,984.3 L792.5,973.9 L791.2,963.6 L789.9,953.3 L788.5,942.9 L787.1,932.6 L785.7,922.3 L784.3,911.9 L782.8,901.6 L781.3,891.3 L779.7,880.9 L778.1,870.6 L776.5,860.3 L774.9,849.9 L773.2,839.6 L771.5,829.2 L769.8,818.9 L767.4,808.7 L767.2,808.7 L768.3,819.2 L770.1,829.5 L771.8,839.8 L773.5,850.1 L775.1,860.5 L776.7,870.8 L778.3,881.1 L779.9,891.5 L781.4,901.8 L782.9,912.1 L784.3,922.5 L785.7,932.8 L787.1,943.1 L788.5,953.4 L789.8,963.8 L791.1,974.1 L792.4,984.4 L793.6,994.8 L794.8,1005.1 L796.0,1015.4 L797.1,1025.8 L798.2,1036.1Z" fill="#4a7f3c"/>
<g filter="url(#soft2)">
<circle cx="757.1" cy="768.0" r="1.3" fill="#6a8a3e"/>
<circle cx="757.3" cy="769.3" r="1.3" fill="#92a456"/>
<circle cx="759.9" cy="770.6" r="1.5" fill="#5f8238"/>
<circle cx="759.1" cy="771.9" r="1.5" fill="#8f9e52"/>
<circle cx="760.3" cy="773.3" r="1.7" fill="#8f9e52"/>
<circle cx="760.3" cy="774.6" r="1.6" fill="#8f9e52"/>
<circle cx="759.9" cy="775.9" r="1.9" fill="#6a8a3e"/>
<circle cx="760.5" cy="777.2" r="1.2" fill="#6a8a3e"/>
<circle cx="761.1" cy="778.5" r="1.6" fill="#6a8a3e"/>
<circle cx="763.4" cy="779.8" r="1.4" fill="#5f8238"/>
<circle cx="760.5" cy="781.1" r="1.3" fill="#5f8238"/>
<circle cx="759.9" cy="782.4" r="1.6" fill="#5f8238"/>
<circle cx="763.7" cy="783.8" r="1.6" fill="#92a456"/>
<circle cx="758.6" cy="785.1" r="1.7" fill="#5f8238"/>
<circle cx="758.9" cy="786.4" r="1.2" fill="#6a8a3e"/>
<circle cx="759.2" cy="787.7" r="1.4" fill="#6a8a3e"/>
<circle cx="759.6" cy="789.0" r="1.9" fill="#92a456"/>
<circle cx="760.2" cy="790.3" r="1.8" fill="#6a8a3e"/>
<circle cx="763.6" cy="791.6" r="1.3" fill="#7d9248"/>
<circle cx="761.2" cy="792.9" r="1.2" fill="#6a8a3e"/>
<circle cx="762.3" cy="794.3" r="1.9" fill="#7d9248"/>
<circle cx="764.4" cy="795.6" r="1.2" fill="#5f8238"/>
<circle cx="764.4" cy="796.9" r="1.2" fill="#8f9e52"/>
<circle cx="764.9" cy="798.2" r="1.2" fill="#92a456"/>
<circle cx="765.6" cy="799.5" r="1.6" fill="#6a8a3e"/>
<circle cx="766.3" cy="800.8" r="1.6" fill="#6a8a3e"/>
<circle cx="766.3" cy="802.1" r="1.7" fill="#7d9248"/>
<circle cx="767.6" cy="803.4" r="1.7" fill="#7d9248"/>
<circle cx="767.1" cy="804.8" r="1.5" fill="#92a456"/>
<circle cx="767.8" cy="806.1" r="1.6" fill="#92a456"/>
<circle cx="767.2" cy="807.4" r="1.6" fill="#5f8238"/>
<circle cx="768.0" cy="808.7" r="1.3" fill="#92a456"/>
</g>
<path d="M813.0,1034.9 L812.3,1023.8 L811.5,1012.6 L810.6,1001.5 L809.8,990.4 L808.9,979.2 L808.0,968.1 L807.1,957.0 L806.2,945.8 L805.2,934.7 L804.2,923.5 L803.2,912.4 L802.2,901.3 L801.1,890.1 L800.1,879.0 L799.0,867.9 L797.9,856.7 L796.7,845.6 L795.6,834.5 L794.4,823.3 L793.2,812.2 L792.0,801.0 L790.1,790.0 L789.9,790.0 L790.5,801.2 L791.8,812.3 L793.0,823.5 L794.2,834.6 L795.3,845.7 L796.5,856.9 L797.6,868.0 L798.7,879.1 L799.7,890.3 L800.8,901.4 L801.8,912.5 L802.8,923.7 L803.8,934.8 L804.8,945.9 L805.7,957.1 L806.6,968.2 L807.5,979.3 L808.4,990.5 L809.2,1001.6 L810.1,1012.7 L810.9,1023.9 L811.6,1035.0Z" fill="#4a7f3c"/>
<g filter="url(#soft2)">
<circle cx="785.1" cy="742.0" r="1.9" fill="#7d9248"/>
<circle cx="786.6" cy="743.3" r="1.1" fill="#8f9e52"/>
<circle cx="784.9" cy="744.7" r="1.3" fill="#8f9e52"/>
<circle cx="786.8" cy="746.0" r="1.2" fill="#5f8238"/>
<circle cx="785.9" cy="747.3" r="1.7" fill="#7d9248"/>
<circle cx="787.1" cy="748.7" r="1.6" fill="#92a456"/>
<circle cx="787.0" cy="750.0" r="1.4" fill="#92a456"/>
<circle cx="786.4" cy="751.3" r="1.7" fill="#8f9e52"/>
<circle cx="788.7" cy="752.7" r="1.5" fill="#5f8238"/>
<circle cx="789.0" cy="754.0" r="1.7" fill="#6a8a3e"/>
<circle cx="786.8" cy="755.3" r="1.3" fill="#7d9248"/>
<circle cx="786.5" cy="756.7" r="1.6" fill="#5f8238"/>
<circle cx="786.1" cy="758.0" r="1.5" fill="#7d9248"/>
<circle cx="786.6" cy="759.3" r="1.4" fill="#8f9e52"/>
<circle cx="786.8" cy="760.7" r="1.4" fill="#5f8238"/>
<circle cx="784.5" cy="762.0" r="1.6" fill="#6a8a3e"/>
<circle cx="788.7" cy="763.3" r="1.5" fill="#8f9e52"/>
<circle cx="784.6" cy="764.7" r="1.3" fill="#5f8238"/>
<circle cx="784.8" cy="766.0" r="1.3" fill="#92a456"/>
<circle cx="786.0" cy="767.3" r="1.2" fill="#92a456"/>
<circle cx="788.0" cy="768.7" r="1.4" fill="#8f9e52"/>
<circle cx="786.6" cy="770.0" r="1.5" fill="#5f8238"/>
<circle cx="789.4" cy="771.3" r="1.9" fill="#92a456"/>
<circle cx="787.7" cy="772.7" r="1.7" fill="#92a456"/>
<circle cx="788.1" cy="774.0" r="1.3" fill="#5f8238"/>
<circle cx="787.9" cy="775.3" r="1.4" fill="#92a456"/>
<circle cx="787.8" cy="776.7" r="1.6" fill="#5f8238"/>
<circle cx="789.0" cy="778.0" r="1.3" fill="#5f8238"/>
<circle cx="789.3" cy="779.3" r="1.4" fill="#7d9248"/>
<circle cx="790.3" cy="780.7" r="1.6" fill="#7d9248"/>
<circle cx="789.3" cy="782.0" r="1.5" fill="#92a456"/>
<circle cx="790.7" cy="783.3" r="1.3" fill="#8f9e52"/>
<circle cx="790.4" cy="784.7" r="1.6" fill="#8f9e52"/>
<circle cx="790.6" cy="786.0" r="1.7" fill="#8f9e52"/>
<circle cx="790.5" cy="787.3" r="1.3" fill="#5f8238"/>
<circle cx="789.7" cy="788.7" r="1.2" fill="#8f9e52"/>
<circle cx="791.0" cy="790.0" r="1.2" fill="#7d9248"/>
</g>
<path d="M794.0,1036.8 L793.0,1031.4 L791.9,1026.0 L790.8,1020.6 L789.7,1015.2 L788.5,1009.9 L787.3,1004.5 L786.1,999.1 L784.9,993.7 L783.6,988.3 L782.3,982.9 L781.0,977.5 L779.6,972.1 L778.2,966.7 L776.8,961.3 L775.4,955.9 L773.9,950.5 L772.4,945.2 L770.8,939.8 L769.3,934.4 L767.7,929.0 L766.0,923.6 L763.5,918.5 L763.4,918.5 L764.2,924.2 L765.8,929.5 L767.4,934.9 L768.9,940.3 L770.5,945.7 L772.0,951.1 L773.4,956.5 L774.9,961.8 L776.3,967.2 L777.7,972.6 L779.0,978.0 L780.4,983.4 L781.7,988.7 L782.9,994.1 L784.2,999.5 L785.4,1004.9 L786.6,1010.3 L787.7,1015.7 L788.8,1021.0 L789.9,1026.4 L791.0,1031.8 L792.0,1037.2Z" fill="#4b8a3d"/>
<path d="M814.7,1037.1 L815.4,1031.2 L816.2,1025.2 L816.9,1019.2 L817.7,1013.3 L818.5,1007.3 L819.4,1001.4 L820.2,995.4 L821.1,989.4 L822.0,983.5 L822.9,977.5 L823.8,971.5 L824.7,965.6 L825.7,959.6 L826.7,953.7 L827.7,947.7 L828.7,941.7 L829.8,935.8 L830.9,929.8 L831.9,923.9 L833.1,917.9 L834.2,911.9 L834.4,905.8 L834.3,905.8 L832.2,911.6 L831.1,917.5 L830.0,923.5 L828.9,929.5 L827.8,935.4 L826.8,941.4 L825.7,947.4 L824.7,953.3 L823.7,959.3 L822.8,965.3 L821.8,971.2 L820.9,977.2 L820.0,983.2 L819.1,989.1 L818.2,995.1 L817.4,1001.1 L816.6,1007.0 L815.7,1013.0 L815.0,1019.0 L814.2,1024.9 L813.5,1030.9 L812.7,1036.9Z" fill="#4b8a3d"/>
<path d="M816.0,1037.1 L816.6,1031.3 L817.2,1025.5 L817.8,1019.7 L818.4,1013.9 L819.1,1008.1 L819.7,1002.3 L820.4,996.6 L821.1,990.8 L821.8,985.0 L822.5,979.2 L823.3,973.4 L824.0,967.6 L824.8,961.8 L825.6,956.0 L826.4,950.2 L827.2,944.4 L828.0,938.6 L828.9,932.8 L829.8,927.1 L830.7,921.3 L831.5,915.5 L831.6,909.5 L831.4,909.5 L829.6,915.2 L828.7,921.0 L827.8,926.8 L826.9,932.6 L826.1,938.3 L825.2,944.1 L824.4,949.9 L823.6,955.7 L822.8,961.5 L822.0,967.3 L821.3,973.1 L820.5,978.9 L819.8,984.7 L819.1,990.5 L818.4,996.3 L817.7,1002.1 L817.1,1007.9 L816.4,1013.7 L815.8,1019.5 L815.2,1025.3 L814.6,1031.1 L814.0,1036.9Z" fill="#356f2e"/>
<path d="M793.2,1036.8 L792.1,1031.5 L791.0,1026.2 L789.8,1020.9 L788.6,1015.6 L787.3,1010.2 L786.0,1004.9 L784.7,999.6 L783.4,994.3 L782.0,989.0 L780.6,983.7 L779.2,978.4 L777.7,973.1 L776.2,967.8 L774.7,962.4 L773.1,957.1 L771.5,951.8 L769.9,946.5 L768.2,941.2 L766.5,935.9 L764.8,930.6 L763.0,925.3 L760.4,920.3 L760.3,920.3 L761.2,925.9 L762.9,931.2 L764.6,936.5 L766.3,941.8 L768.0,947.1 L769.6,952.4 L771.2,957.7 L772.7,963.0 L774.3,968.3 L775.8,973.6 L777.2,978.9 L778.7,984.2 L780.1,989.5 L781.4,994.8 L782.8,1000.1 L784.1,1005.4 L785.4,1010.7 L786.6,1016.0 L787.8,1021.3 L789.0,1026.6 L790.2,1031.9 L791.3,1037.2Z" fill="#356f2e"/>
<path d="M801.8,1037.0 L801.6,1030.4 L801.3,1023.9 L801.0,1017.4 L800.7,1010.9 L800.4,1004.4 L800.1,997.8 L799.8,991.3 L799.5,984.8 L799.1,978.3 L798.8,971.8 L798.4,965.2 L798.1,958.7 L797.7,952.2 L797.4,945.7 L797.0,939.1 L796.6,932.6 L796.2,926.1 L795.8,919.6 L795.4,913.1 L795.0,906.5 L794.5,900.0 L793.2,893.6 L793.1,893.6 L792.6,900.2 L793.0,906.7 L793.4,913.2 L793.8,919.7 L794.2,926.2 L794.6,932.7 L795.0,939.3 L795.4,945.8 L795.7,952.3 L796.1,958.8 L796.4,965.3 L796.8,971.9 L797.1,978.4 L797.5,984.9 L797.8,991.4 L798.1,997.9 L798.4,1004.4 L798.7,1011.0 L799.0,1017.5 L799.3,1024.0 L799.6,1030.5 L799.8,1037.0Z" fill="#4b8a3d"/>
<path d="M820.7,1037.2 L821.8,1031.8 L823.0,1026.4 L824.2,1021.1 L825.5,1015.7 L826.8,1010.3 L828.1,1004.9 L829.5,999.5 L830.9,994.1 L832.3,988.7 L833.7,983.4 L835.2,978.0 L836.7,972.6 L838.3,967.2 L839.9,961.8 L841.5,956.4 L843.1,951.0 L844.8,945.7 L846.5,940.3 L848.3,934.9 L850.1,929.5 L851.9,924.1 L852.9,918.4 L852.7,918.4 L850.0,923.5 L848.2,928.9 L846.4,934.3 L844.6,939.7 L842.9,945.1 L841.2,950.5 L839.6,955.8 L838.0,961.2 L836.4,966.6 L834.8,972.0 L833.3,977.4 L831.8,982.8 L830.3,988.2 L828.9,993.6 L827.5,999.0 L826.2,1004.4 L824.8,1009.8 L823.6,1015.2 L822.3,1020.6 L821.1,1026.0 L819.9,1031.4 L818.7,1036.8Z" fill="#3f7a35"/>
<path d="M804.1,1037.0 L803.8,1031.6 L803.6,1026.3 L803.3,1021.0 L803.1,1015.6 L802.8,1010.3 L802.6,1004.9 L802.3,999.6 L802.0,994.3 L801.7,988.9 L801.4,983.6 L801.1,978.3 L800.8,972.9 L800.5,967.6 L800.2,962.3 L799.8,956.9 L799.5,951.6 L799.2,946.3 L798.8,940.9 L798.4,935.6 L798.1,930.2 L797.7,924.9 L796.4,919.6 L796.3,919.7 L795.7,925.1 L796.1,930.4 L796.5,935.7 L796.8,941.1 L797.2,946.4 L797.5,951.7 L797.8,957.1 L798.2,962.4 L798.5,967.7 L798.8,973.0 L799.1,978.4 L799.4,983.7 L799.7,989.0 L800.0,994.4 L800.3,999.7 L800.6,1005.0 L800.8,1010.4 L801.1,1015.7 L801.3,1021.0 L801.6,1026.4 L801.8,1031.7 L802.1,1037.0Z" fill="#356f2e"/>
<path d="M802.7,1036.9 L802.5,1032.6 L802.2,1028.3 L802.0,1024.0 L801.7,1019.7 L801.5,1015.3 L801.2,1011.0 L800.9,1006.7 L800.6,1002.4 L800.3,998.1 L800.0,993.7 L799.7,989.4 L799.4,985.1 L799.0,980.8 L798.7,976.5 L798.4,972.1 L798.0,967.8 L797.7,963.5 L797.3,959.2 L796.9,954.9 L796.5,950.5 L796.1,946.2 L794.8,942.0 L794.6,942.0 L794.0,946.4 L794.4,950.7 L794.7,955.0 L795.1,959.4 L795.5,963.7 L795.8,968.0 L796.2,972.3 L796.5,976.6 L796.8,980.9 L797.2,985.3 L797.5,989.6 L797.8,993.9 L798.1,998.2 L798.4,1002.5 L798.7,1006.8 L799.0,1011.2 L799.3,1015.5 L799.5,1019.8 L799.8,1024.1 L800.0,1028.4 L800.3,1032.7 L800.5,1037.1Z" fill="#8f8050"/>
<path d="M799.6,1036.9 L799.1,1033.1 L798.6,1029.3 L798.1,1025.6 L797.6,1021.8 L797.0,1018.0 L796.5,1014.3 L795.9,1010.5 L795.3,1006.7 L794.7,1003.0 L794.1,999.2 L793.5,995.4 L792.9,991.7 L792.2,987.9 L791.6,984.1 L790.9,980.4 L790.2,976.6 L789.5,972.8 L788.8,969.1 L788.0,965.3 L787.3,961.5 L786.5,957.8 L784.8,954.2 L784.6,954.2 L784.4,958.2 L785.1,962.0 L785.9,965.7 L786.6,969.5 L787.3,973.2 L788.0,977.0 L788.7,980.8 L789.4,984.5 L790.1,988.3 L790.7,992.0 L791.3,995.8 L792.0,999.6 L792.6,1003.3 L793.2,1007.1 L793.7,1010.8 L794.3,1014.6 L794.9,1018.3 L795.4,1022.1 L795.9,1025.9 L796.4,1029.6 L796.9,1033.4 L797.4,1037.1Z" fill="#8f8050"/>
<path d="M811.2,1037.1 L811.4,1032.1 L811.7,1027.1 L812.0,1022.1 L812.3,1017.2 L812.6,1012.2 L812.9,1007.2 L813.2,1002.2 L813.5,997.2 L813.8,992.3 L814.1,987.3 L814.5,982.3 L814.8,977.3 L815.2,972.4 L815.5,967.4 L815.9,962.4 L816.3,957.4 L816.7,952.5 L817.0,947.5 L817.4,942.5 L817.8,937.5 L818.2,932.6 L817.6,927.5 L817.5,927.5 L816.1,932.4 L815.6,937.4 L815.2,942.3 L814.8,947.3 L814.5,952.3 L814.1,957.3 L813.7,962.3 L813.3,967.2 L813.0,972.2 L812.6,977.2 L812.3,982.2 L811.9,987.2 L811.6,992.1 L811.3,997.1 L811.0,1002.1 L810.7,1007.1 L810.4,1012.0 L810.1,1017.0 L809.8,1022.0 L809.5,1027.0 L809.3,1032.0 L809.0,1036.9Z" fill="#9a9a58"/>
<path d="M791.6,1036.8 L790.8,1032.3 L790.1,1027.8 L789.2,1023.2 L788.4,1018.7 L787.6,1014.2 L786.7,1009.7 L785.8,1005.1 L784.9,1000.6 L783.9,996.1 L782.9,991.5 L782.0,987.0 L781.0,982.5 L779.9,978.0 L778.9,973.4 L777.8,968.9 L776.7,964.4 L775.6,959.8 L774.4,955.3 L773.3,950.8 L772.1,946.3 L770.9,941.7 L768.7,937.5 L768.5,937.5 L768.8,942.3 L770.0,946.8 L771.2,951.3 L772.3,955.9 L773.5,960.4 L774.6,964.9 L775.7,969.4 L776.7,973.9 L777.8,978.5 L778.8,983.0 L779.8,987.5 L780.8,992.0 L781.8,996.5 L782.7,1001.0 L783.6,1005.6 L784.5,1010.1 L785.4,1014.6 L786.2,1019.1 L787.1,1023.6 L787.9,1028.1 L788.7,1032.7 L789.4,1037.2Z" fill="#b39c6c"/>
<path d="M796.8,1036.8 L796.3,1033.1 L795.7,1029.3 L795.2,1025.5 L794.6,1021.7 L794.0,1017.9 L793.4,1014.1 L792.7,1010.3 L792.1,1006.5 L791.4,1002.7 L790.8,998.9 L790.1,995.1 L789.4,991.4 L788.7,987.6 L787.9,983.8 L787.2,980.0 L786.4,976.2 L785.6,972.4 L784.8,968.6 L784.0,964.8 L783.2,961.0 L782.3,957.2 L780.5,953.7 L780.4,953.7 L780.3,957.7 L781.1,961.5 L781.9,965.3 L782.7,969.1 L783.5,972.8 L784.3,976.6 L785.0,980.4 L785.8,984.2 L786.5,988.0 L787.2,991.8 L787.9,995.5 L788.6,999.3 L789.3,1003.1 L789.9,1006.9 L790.6,1010.7 L791.2,1014.5 L791.8,1018.2 L792.4,1022.0 L793.0,1025.8 L793.5,1029.6 L794.1,1033.4 L794.6,1037.2Z" fill="#b39c6c"/>
<path d="M804.8,1037.0 L804.7,1033.5 L804.6,1030.1 L804.4,1026.7 L804.3,1023.2 L804.2,1019.8 L804.0,1016.3 L803.9,1012.9 L803.7,1009.5 L803.6,1006.0 L803.4,1002.6 L803.3,999.2 L803.1,995.7 L802.9,992.3 L802.8,988.9 L802.6,985.4 L802.4,982.0 L802.2,978.5 L802.1,975.1 L801.9,971.7 L801.7,968.2 L801.5,964.8 L800.3,961.4 L800.1,961.4 L799.3,964.9 L799.5,968.4 L799.7,971.8 L799.9,975.2 L800.0,978.7 L800.2,982.1 L800.4,985.5 L800.6,989.0 L800.7,992.4 L800.9,995.8 L801.1,999.3 L801.2,1002.7 L801.4,1006.1 L801.5,1009.6 L801.7,1013.0 L801.8,1016.4 L802.0,1019.9 L802.1,1023.3 L802.2,1026.7 L802.4,1030.2 L802.5,1033.6 L802.6,1037.0Z" fill="#8f8050"/>
<path d="M810.5,1037.1 L810.9,1033.6 L811.2,1030.0 L811.6,1026.5 L812.0,1023.0 L812.4,1019.4 L812.7,1015.9 L813.2,1012.4 L813.6,1008.8 L814.0,1005.3 L814.4,1001.7 L814.9,998.2 L815.3,994.7 L815.8,991.1 L816.3,987.6 L816.7,984.1 L817.2,980.5 L817.7,977.0 L818.3,973.5 L818.8,969.9 L819.3,966.4 L819.8,962.8 L819.4,959.1 L819.2,959.1 L817.7,962.5 L817.1,966.0 L816.6,969.6 L816.1,973.1 L815.6,976.7 L815.1,980.2 L814.6,983.8 L814.1,987.3 L813.6,990.8 L813.1,994.4 L812.7,997.9 L812.2,1001.5 L811.8,1005.0 L811.4,1008.6 L811.0,1012.1 L810.6,1015.6 L810.2,1019.2 L809.8,1022.7 L809.4,1026.3 L809.0,1029.8 L808.7,1033.4 L808.3,1036.9Z" fill="#9a9a58"/>
<path d="M818.6,1037.2 L819.5,1033.1 L820.4,1029.0 L821.3,1025.0 L822.3,1020.9 L823.2,1016.8 L824.2,1012.7 L825.3,1008.6 L826.3,1004.5 L827.4,1000.4 L828.5,996.3 L829.7,992.2 L830.8,988.2 L832.0,984.1 L833.2,980.0 L834.4,975.9 L835.7,971.8 L837.0,967.7 L838.3,963.6 L839.6,959.5 L840.9,955.4 L842.3,951.3 L842.8,946.9 L842.6,946.9 L840.3,950.6 L838.9,954.7 L837.5,958.8 L836.2,962.9 L834.9,967.0 L833.6,971.1 L832.3,975.2 L831.1,979.3 L829.9,983.4 L828.7,987.5 L827.5,991.7 L826.4,995.8 L825.3,999.9 L824.2,1004.0 L823.1,1008.1 L822.1,1012.2 L821.1,1016.3 L820.1,1020.4 L819.2,1024.5 L818.2,1028.6 L817.3,1032.7 L816.4,1036.8Z" fill="#a89262"/>
</g>
<path d="M752,850 C748,880 756,905 762,930 S776,965 781,990" fill="none" stroke="#b9a274" stroke-width="1.6" stroke-linecap="round" filter="url(#soft)"/>
<path d="M771,868 C776,900 790,925 797,950" fill="none" stroke="#b9a274" stroke-width="1.6" stroke-linecap="round" filter="url(#soft)"/>
<path d="M826,905 C812,935 800,950 784,952 S770,960 774,1000" fill="none" stroke="#b9a274" stroke-width="1.6" stroke-linecap="round" filter="url(#soft)"/>
<path d="M790,880 C796,910 802,930 806,960" fill="none" stroke="#b9a274" stroke-width="1.6" stroke-linecap="round" filter="url(#soft)"/>
<path d="M836,945 C828,965 822,975 812,990" fill="none" stroke="#b9a274" stroke-width="1.6" stroke-linecap="round" filter="url(#soft)"/>
<path d="M776,1000 C772,1010 770,1020 773,1035" fill="none" stroke="#b9a274" stroke-width="1.6" stroke-linecap="round" filter="url(#soft)"/>
<path d="M842,990 C834,1000 826,1004 818,1012" fill="none" stroke="#b9a274" stroke-width="1.6" stroke-linecap="round" filter="url(#soft)"/>
<path d="M760,940 C770,948 800,940 826,938" fill="none" stroke="#b9a274" stroke-width="1.6" stroke-linecap="round" filter="url(#soft)"/>
<g filter="url(#soft)">
<path d="M980.3,1033.0 L977.9,1020.0 L975.5,1006.9 L973.0,993.9 L970.5,980.9 L968.0,967.9 L965.5,954.8 L962.9,941.8 L960.5,928.7 L958.2,915.6 L955.8,902.4 L953.4,889.3 L950.9,876.2 L948.3,863.1 L945.7,850.0 L943.0,836.8 L940.2,823.7 L937.3,810.6 L934.1,797.6 L930.9,784.5 L927.6,771.5 L924.2,758.4 L920.9,745.4 L920.7,745.4 L923.2,758.7 L925.7,771.9 L928.1,785.1 L930.6,798.3 L933.2,811.5 L935.8,824.7 L938.6,837.8 L941.4,850.9 L944.3,863.9 L947.1,877.0 L950.0,890.0 L952.9,903.0 L955.8,916.1 L958.6,929.1 L961.4,942.1 L964.0,955.1 L966.5,968.2 L969.0,981.2 L971.5,994.2 L974.0,1007.2 L976.4,1020.2 L978.8,1033.2Z" fill="#437d32"/>
<path d="M992.2,1035.9 L991.1,1022.3 L990.0,1008.6 L988.8,995.0 L987.6,981.3 L986.2,967.7 L984.8,954.0 L983.4,940.4 L982.1,926.7 L980.8,913.1 L979.4,899.4 L977.9,885.8 L976.2,872.1 L974.5,858.5 L972.6,844.9 L970.6,831.3 L968.5,817.7 L966.1,804.1 L963.5,790.6 L960.6,777.1 L957.6,763.6 L954.5,750.1 L951.3,736.7 L951.1,736.7 L953.2,750.4 L955.1,764.0 L957.0,777.7 L959.0,791.3 L961.0,804.9 L963.1,818.5 L965.3,832.1 L967.5,845.6 L969.7,859.2 L971.8,872.8 L973.9,886.3 L975.9,899.9 L977.9,913.4 L979.9,927.0 L981.8,940.6 L983.3,954.2 L984.7,967.8 L986.1,981.5 L987.3,995.1 L988.5,1008.7 L989.6,1022.4 L990.7,1036.0Z" fill="#588f40"/>
<path d="M990.2,1036.3 L989.1,1022.5 L988.0,1008.7 L986.9,994.9 L985.7,981.1 L984.6,967.2 L983.4,953.4 L982.2,939.6 L981.1,925.8 L980.2,911.9 L979.2,898.1 L978.2,884.2 L977.1,870.4 L976.0,856.6 L974.7,842.7 L973.3,828.9 L971.7,815.1 L970.1,801.3 L968.3,787.5 L966.5,773.7 L964.6,760.0 L962.7,746.2 L960.8,732.4 L960.6,732.4 L961.8,746.3 L962.9,760.1 L964.0,774.0 L965.1,787.9 L966.3,801.7 L967.5,815.5 L968.7,829.4 L970.1,843.2 L971.5,857.0 L973.0,870.8 L974.6,884.6 L976.2,898.4 L977.8,912.2 L979.4,925.9 L980.7,939.7 L981.9,953.6 L983.1,967.4 L984.2,981.2 L985.4,995.0 L986.5,1008.8 L987.6,1022.6 L988.7,1036.4Z" fill="#417932"/>
<path d="M989.7,1034.0 L988.9,1020.6 L988.2,1007.2 L987.4,993.8 L986.7,980.4 L986.1,967.0 L985.4,953.6 L984.8,940.2 L984.2,926.8 L983.7,913.4 L983.2,900.0 L983.0,886.6 L983.3,873.2 L983.5,859.7 L983.6,846.3 L983.6,832.9 L983.4,819.5 L982.8,806.1 L982.2,792.7 L981.5,779.3 L980.7,765.8 L979.9,752.4 L979.1,739.0 L978.9,739.0 L978.3,752.4 L977.8,765.9 L977.3,779.3 L977.0,792.7 L976.9,806.2 L976.9,819.6 L977.3,833.0 L977.9,846.5 L978.7,859.9 L979.8,873.3 L980.9,886.7 L981.7,900.1 L982.2,913.5 L982.7,926.9 L983.3,940.3 L983.9,953.7 L984.6,967.1 L985.2,980.5 L985.9,993.9 L986.7,1007.3 L987.4,1020.7 L988.2,1034.1Z" fill="#417932"/>
<path d="M971.9,1035.8 L972.7,1021.9 L973.5,1008.0 L974.4,994.2 L975.3,980.3 L976.2,966.4 L977.1,952.6 L978.1,938.7 L979.5,924.9 L981.0,911.0 L982.4,897.2 L983.8,883.4 L985.2,869.5 L986.4,855.7 L987.7,841.8 L988.8,828.0 L989.8,814.1 L990.6,800.2 L991.3,786.3 L992.0,772.4 L992.6,758.5 L993.2,744.5 L993.8,730.6 L993.6,730.6 L991.8,744.4 L989.9,758.2 L988.1,772.0 L986.4,785.9 L984.8,799.7 L983.4,813.6 L982.1,827.4 L981.0,841.3 L980.1,855.2 L979.3,869.1 L978.6,883.0 L977.9,896.9 L977.4,910.8 L976.9,924.7 L976.4,938.6 L975.6,952.5 L974.7,966.3 L973.8,980.2 L972.9,994.1 L972.0,1007.9 L971.2,1021.8 L970.4,1035.7Z" fill="#588f40"/>
<path d="M973.0,1033.1 L975.1,1019.9 L977.2,1006.7 L979.4,993.5 L981.5,980.3 L983.6,967.0 L985.8,953.8 L987.9,940.6 L990.6,927.4 L993.2,914.2 L995.8,901.0 L998.3,887.8 L1000.8,874.6 L1003.1,861.3 L1005.4,848.0 L1007.5,834.7 L1009.5,821.4 L1011.5,808.0 L1013.4,794.6 L1015.2,781.3 L1017.0,767.9 L1018.8,754.4 L1020.7,741.0 L1020.5,741.0 L1017.8,754.3 L1015.0,767.5 L1012.3,780.8 L1009.6,794.0 L1007.0,807.3 L1004.4,820.5 L1002.0,833.8 L999.6,847.1 L997.5,860.4 L995.4,873.7 L993.5,887.0 L991.6,900.3 L989.8,913.7 L988.1,927.0 L986.4,940.3 L984.3,953.6 L982.1,966.8 L980.0,980.0 L977.9,993.3 L975.8,1006.5 L973.6,1019.7 L971.5,1032.9Z" fill="#4c8839"/>
<path d="M985.9,1032.6 L988.1,1021.2 L990.3,1009.8 L992.5,998.3 L994.8,986.9 L997.0,975.5 L999.4,964.0 L1001.7,952.6 L1004.5,941.2 L1007.2,929.8 L1010.0,918.4 L1012.7,907.0 L1015.5,895.6 L1018.2,884.1 L1021.0,872.7 L1023.7,861.2 L1026.3,849.7 L1028.8,838.2 L1031.2,826.6 L1033.6,815.0 L1036.0,803.4 L1038.3,791.8 L1040.7,780.1 L1040.5,780.1 L1037.1,791.5 L1033.8,802.9 L1030.5,814.3 L1027.3,825.7 L1024.2,837.1 L1021.3,848.6 L1018.6,860.1 L1016.1,871.6 L1013.6,883.1 L1011.2,894.6 L1008.9,906.1 L1006.6,917.7 L1004.4,929.2 L1002.3,940.7 L1000.3,952.3 L997.9,963.7 L995.6,975.2 L993.3,986.6 L991.0,998.1 L988.8,1009.5 L986.6,1020.9 L984.5,1032.3Z" fill="#508a3c"/>
<path d="M981.8,1034.7 L983.7,1026.1 L985.6,1017.5 L987.5,1008.9 L989.5,1000.3 L991.5,991.7 L993.5,983.1 L995.6,974.5 L997.6,965.8 L1000.0,957.3 L1002.6,948.8 L1005.2,940.2 L1007.7,931.7 L1010.3,923.1 L1012.7,914.5 L1015.1,905.9 L1017.5,897.3 L1019.6,888.6 L1021.5,879.8 L1023.3,871.0 L1025.1,862.1 L1026.8,853.2 L1028.5,844.3 L1028.3,844.3 L1025.2,852.8 L1022.1,861.3 L1019.2,869.8 L1016.3,878.4 L1013.6,887.0 L1011.2,895.6 L1009.0,904.3 L1006.9,913.0 L1005.0,921.8 L1003.1,930.5 L1001.3,939.3 L999.6,948.0 L998.0,956.8 L996.2,965.5 L994.1,974.1 L992.1,982.7 L990.0,991.4 L988.0,1000.0 L986.1,1008.6 L984.1,1017.2 L982.2,1025.8 L980.3,1034.4Z" fill="#437d32"/>
<path d="M970.9,1036.3 L972.7,1028.4 L974.6,1020.5 L976.5,1012.6 L978.6,1004.7 L980.8,996.8 L983.0,988.9 L985.4,981.1 L987.8,973.2 L990.6,965.5 L993.7,957.8 L996.9,950.2 L1000.0,942.5 L1003.2,934.9 L1006.3,927.2 L1009.5,919.5 L1012.5,911.7 L1015.5,903.8 L1018.5,896.0 L1021.5,888.1 L1024.6,880.2 L1027.8,872.2 L1031.1,864.3 L1030.9,864.3 L1026.7,871.7 L1022.6,879.2 L1018.6,886.7 L1014.7,894.3 L1011.0,901.9 L1007.4,909.6 L1004.1,917.3 L1001.0,925.1 L998.1,933.0 L995.5,940.9 L993.0,948.8 L990.7,956.8 L988.6,964.8 L986.4,972.8 L983.9,980.6 L981.6,988.5 L979.3,996.4 L977.2,1004.3 L975.1,1012.2 L973.1,1020.1 L971.2,1028.0 L969.5,1036.0Z" fill="#3d752e"/>
<path d="M991.4,1037.0 L993.3,1029.3 L995.2,1021.7 L997.1,1014.1 L999.2,1006.4 L1001.2,998.8 L1003.4,991.2 L1005.7,983.6 L1008.2,976.0 L1010.9,968.5 L1013.5,961.0 L1016.2,953.5 L1019.0,945.9 L1021.7,938.4 L1024.5,930.8 L1027.2,923.2 L1029.9,915.6 L1032.6,907.9 L1035.3,900.3 L1038.1,892.6 L1040.9,884.9 L1043.8,877.2 L1046.8,869.5 L1046.6,869.5 L1043.1,876.9 L1039.5,884.3 L1036.1,891.8 L1032.8,899.3 L1029.5,906.7 L1026.4,914.3 L1023.4,921.8 L1020.5,929.4 L1017.9,937.0 L1015.3,944.7 L1012.9,952.3 L1010.6,960.0 L1008.3,967.7 L1006.2,975.4 L1004.2,983.1 L1002.0,990.8 L999.8,998.4 L997.7,1006.0 L995.7,1013.7 L993.7,1021.3 L991.8,1029.0 L990.0,1036.6Z" fill="#417932"/>
<path d="M979.9,1035.3 L976.3,1027.9 L972.7,1020.6 L969.1,1013.3 L965.4,1006.0 L961.6,998.6 L957.7,991.2 L953.8,983.8 L950.1,976.2 L946.5,968.6 L942.8,960.9 L938.9,953.2 L935.0,945.6 L930.9,938.0 L926.7,930.4 L922.4,922.8 L917.8,915.3 L913.0,907.8 L908.0,900.5 L902.9,893.1 L897.7,885.8 L892.4,878.6 L887.0,871.3 L886.8,871.3 L891.2,879.3 L895.4,887.3 L899.6,895.2 L903.9,903.0 L908.1,910.8 L912.4,918.5 L916.8,926.1 L921.2,933.5 L925.7,940.9 L930.2,948.3 L934.7,955.6 L939.2,962.9 L943.7,970.1 L948.2,977.3 L952.5,984.5 L956.4,991.9 L960.2,999.3 L964.0,1006.6 L967.7,1014.0 L971.4,1021.3 L975.0,1028.6 L978.5,1035.9Z" fill="#417932"/>
<path d="M985.0,1035.6 L983.2,1026.0 L981.3,1016.5 L979.4,1006.9 L977.4,997.3 L975.4,987.8 L973.3,978.2 L971.2,968.6 L969.4,959.0 L967.5,949.3 L965.4,939.7 L963.3,930.0 L961.0,920.4 L958.6,910.8 L956.0,901.3 L953.2,891.8 L950.2,882.3 L947.1,872.8 L943.8,863.4 L940.4,854.0 L936.9,844.7 L933.2,835.3 L929.6,826.0 L929.4,826.0 L932.2,835.7 L934.8,845.3 L937.4,855.0 L940.0,864.6 L942.6,874.2 L945.1,883.8 L947.7,893.3 L950.4,902.9 L953.1,912.3 L955.9,921.8 L958.6,931.3 L961.4,940.7 L964.1,950.1 L966.8,959.6 L969.5,969.0 L971.8,978.5 L973.9,988.1 L976.0,997.6 L978.0,1007.2 L979.9,1016.7 L981.7,1026.3 L983.5,1035.9Z" fill="#35692a"/>
<path d="M985.8,1033.1 L984.7,1021.6 L983.6,1010.0 L982.5,998.5 L981.3,987.0 L980.1,975.4 L978.9,963.9 L977.8,952.3 L976.9,940.7 L976.0,929.1 L975.0,917.6 L973.9,906.0 L972.8,894.4 L971.6,882.8 L970.4,871.3 L969.0,859.7 L967.6,848.1 L966.1,836.6 L964.2,825.1 L962.2,813.6 L960.1,802.1 L957.9,790.6 L955.6,779.2 L955.4,779.2 L956.4,790.9 L957.3,802.5 L958.2,814.1 L959.3,825.7 L960.5,837.3 L961.9,848.9 L963.4,860.4 L964.9,871.9 L966.5,883.4 L968.0,895.0 L969.6,906.5 L971.3,918.0 L972.9,929.5 L974.5,941.0 L976.1,952.5 L977.4,964.0 L978.6,975.6 L979.8,987.1 L981.0,998.6 L982.1,1010.2 L983.2,1021.7 L984.3,1033.3Z" fill="#35692a"/>
<path d="M987.9,1032.8 L985.3,1024.5 L982.7,1016.2 L980.0,1007.8 L977.2,999.5 L974.4,991.2 L971.6,982.8 L968.7,974.4 L965.7,966.1 L962.8,957.7 L959.9,949.3 L956.9,940.9 L953.8,932.4 L950.6,924.0 L947.4,915.6 L944.1,907.2 L940.7,898.8 L937.1,890.4 L933.5,882.1 L929.8,873.7 L926.0,865.4 L922.1,857.0 L918.3,848.7 L918.1,848.7 L921.6,857.2 L925.0,865.8 L928.4,874.3 L931.8,882.8 L935.1,891.3 L938.4,899.7 L941.7,908.1 L945.0,916.5 L948.3,924.9 L951.6,933.3 L954.9,941.6 L958.1,949.9 L961.2,958.3 L964.3,966.6 L967.3,974.9 L970.2,983.3 L973.0,991.6 L975.8,1000.0 L978.6,1008.3 L981.2,1016.6 L983.9,1024.9 L986.5,1033.3Z" fill="#4c8839"/>
<path d="M975.9,1033.7 L975.6,1022.6 L975.4,1011.5 L975.1,1000.4 L974.8,989.4 L974.4,978.3 L974.1,967.2 L973.8,956.1 L973.9,945.0 L974.0,933.9 L974.0,922.8 L973.9,911.7 L973.8,900.6 L973.5,889.6 L973.1,878.5 L972.4,867.4 L971.7,856.3 L970.9,845.3 L970.0,834.2 L969.1,823.2 L968.1,812.1 L967.1,801.0 L966.1,790.0 L965.9,790.0 L966.1,801.1 L966.1,812.2 L966.2,823.3 L966.3,834.4 L966.5,845.5 L966.7,856.6 L966.9,867.6 L967.2,878.7 L967.7,889.8 L968.3,900.9 L969.0,911.9 L969.7,923.0 L970.5,934.0 L971.4,945.1 L972.3,956.2 L972.6,967.2 L972.9,978.3 L973.3,989.4 L973.6,1000.5 L973.9,1011.5 L974.1,1022.6 L974.4,1033.7Z" fill="#316428"/>
<path d="M977.8,1032.6 L979.1,1022.1 L980.5,1011.6 L981.8,1001.1 L983.1,990.5 L984.4,980.0 L985.7,969.4 L986.9,958.9 L988.2,948.3 L989.4,937.8 L991.1,927.3 L992.8,916.8 L994.4,906.2 L995.9,895.7 L997.3,885.1 L998.5,874.5 L999.6,863.9 L1000.4,853.3 L1001.1,842.7 L1001.7,832.0 L1002.2,821.4 L1002.7,810.7 L1003.1,800.0 L1002.9,800.0 L1001.3,810.6 L999.7,821.1 L998.2,831.7 L996.7,842.2 L995.2,852.8 L993.9,863.4 L992.7,873.9 L991.8,884.5 L990.9,895.1 L990.1,905.8 L989.3,916.4 L988.6,927.0 L987.9,937.6 L986.7,948.2 L985.4,958.7 L984.2,969.3 L982.9,979.8 L981.6,990.3 L980.3,1000.9 L979.0,1011.4 L977.7,1021.9 L976.3,1032.5Z" fill="#588f40"/>
<path d="M976.7,1036.2 L977.6,1026.3 L978.6,1016.4 L979.6,1006.6 L980.7,996.7 L981.9,986.9 L983.1,977.0 L984.4,967.2 L985.8,957.3 L987.3,947.5 L989.3,937.7 L991.6,928.0 L993.9,918.3 L995.9,908.6 L997.7,898.8 L999.5,889.0 L1001.2,879.2 L1002.9,869.3 L1004.7,859.5 L1006.4,849.6 L1008.3,839.8 L1010.1,829.9 L1012.1,820.0 L1011.9,820.0 L1009.1,829.6 L1006.3,839.3 L1003.7,849.0 L1001.1,858.7 L998.6,868.4 L996.3,878.2 L994.1,887.9 L992.1,897.7 L990.3,907.6 L988.8,917.4 L987.7,927.4 L986.8,937.3 L985.8,947.3 L984.3,957.1 L982.9,967.0 L981.6,976.8 L980.4,986.7 L979.2,996.5 L978.1,1006.4 L977.1,1016.3 L976.1,1026.2 L975.2,1036.1Z" fill="#35692a"/>
<path d="M983.9,1032.8 L982.4,1023.6 L980.9,1014.4 L979.4,1005.2 L977.9,995.9 L976.3,986.7 L974.7,977.5 L973.0,968.3 L971.4,959.1 L969.7,949.8 L967.9,940.6 L966.6,931.3 L965.5,922.0 L964.2,912.6 L962.7,903.3 L960.9,894.1 L958.9,884.8 L956.7,875.7 L954.3,866.5 L951.9,857.4 L949.3,848.2 L946.7,839.1 L944.1,830.0 L943.9,830.0 L945.5,839.4 L947.0,848.7 L948.6,858.1 L950.1,867.4 L951.7,876.7 L953.4,886.0 L955.2,895.2 L957.2,904.4 L959.4,913.6 L961.8,922.7 L964.2,931.8 L966.4,940.9 L968.2,950.1 L969.9,959.3 L971.5,968.6 L973.2,977.8 L974.8,987.0 L976.4,996.2 L977.9,1005.4 L979.4,1014.6 L980.9,1023.8 L982.4,1033.0Z" fill="#3d752e"/>
<path d="M970.9,1033.1 L970.9,1024.8 L970.8,1016.4 L970.6,1008.1 L970.5,999.7 L970.2,991.4 L969.9,983.0 L969.6,974.7 L969.2,966.4 L969.1,958.0 L969.1,949.7 L969.1,941.3 L968.9,932.9 L968.6,924.6 L968.2,916.2 L967.6,907.9 L966.9,899.5 L965.8,891.2 L964.5,882.9 L963.1,874.7 L961.5,866.4 L959.8,858.2 L958.1,850.0 L957.9,850.0 L958.3,858.4 L958.7,866.8 L959.0,875.1 L959.4,883.5 L959.9,891.8 L960.5,900.1 L961.2,908.4 L962.1,916.7 L963.0,925.0 L964.0,933.3 L965.0,941.6 L966.0,949.8 L967.0,958.1 L967.7,966.4 L968.1,974.8 L968.4,983.1 L968.7,991.4 L969.0,999.8 L969.1,1008.1 L969.3,1016.4 L969.4,1024.8 L969.4,1033.1Z" fill="#4c8839"/>
<path d="M976.9,1036.1 L976.9,1026.4 L976.9,1016.6 L977.0,1006.9 L977.1,997.1 L977.2,987.4 L977.4,977.7 L977.6,967.9 L978.2,958.2 L979.1,948.5 L980.0,938.8 L980.8,929.1 L981.6,919.4 L982.2,909.7 L982.7,900.0 L983.1,890.2 L983.4,880.5 L983.7,870.8 L984.0,861.0 L984.2,851.3 L984.5,841.5 L984.7,831.8 L985.1,822.0 L984.9,822.0 L983.6,831.7 L982.3,841.4 L981.1,851.0 L979.9,860.7 L978.8,870.4 L977.9,880.2 L977.0,889.9 L976.3,899.6 L975.8,909.4 L975.5,919.1 L975.5,928.9 L975.5,938.6 L975.7,948.4 L976.1,958.2 L976.1,967.9 L975.9,977.6 L975.7,987.4 L975.6,997.1 L975.5,1006.9 L975.4,1016.6 L975.4,1026.4 L975.4,1036.1Z" fill="#498336"/>
<path d="M985.3,1034.5 L985.8,1026.1 L986.3,1017.7 L986.8,1009.3 L987.3,1000.9 L987.9,992.6 L988.4,984.2 L988.9,975.8 L989.4,967.4 L989.9,959.1 L990.6,950.7 L991.8,942.3 L992.9,934.0 L994.0,925.6 L994.8,917.3 L995.5,908.9 L995.9,900.5 L996.1,892.1 L996.2,883.7 L996.3,875.3 L996.2,866.9 L996.2,858.4 L996.1,850.0 L995.9,850.0 L994.8,858.3 L993.6,866.7 L992.5,875.0 L991.5,883.4 L990.5,891.8 L989.7,900.1 L989.0,908.5 L988.7,916.9 L988.5,925.3 L988.5,933.7 L988.6,942.1 L988.8,950.6 L988.4,959.0 L987.9,967.3 L987.4,975.7 L986.9,984.1 L986.4,992.5 L985.8,1000.9 L985.3,1009.2 L984.8,1017.6 L984.3,1026.0 L983.8,1034.4Z" fill="#316428"/>
<path d="M976.4,1036.1 L978.0,1029.1 L979.7,1022.0 L981.4,1014.9 L983.2,1007.9 L985.0,1000.8 L986.8,993.7 L988.7,986.7 L990.6,979.6 L992.5,972.5 L995.1,965.6 L997.8,958.7 L1000.4,951.8 L1002.7,944.8 L1004.7,937.7 L1006.7,930.5 L1008.6,923.4 L1010.5,916.2 L1012.4,909.0 L1014.3,901.8 L1016.2,894.5 L1018.1,887.3 L1020.1,880.0 L1019.9,880.0 L1017.2,887.0 L1014.4,893.9 L1011.7,900.9 L1009.0,907.9 L1006.5,914.9 L1004.0,922.0 L1001.6,929.0 L999.2,936.1 L997.1,943.1 L995.3,950.3 L993.7,957.6 L992.5,964.9 L991.1,972.1 L989.2,979.2 L987.3,986.3 L985.4,993.4 L983.6,1000.4 L981.8,1007.5 L980.0,1014.6 L978.3,1021.6 L976.6,1028.7 L974.9,1035.8Z" fill="#3d752e"/>
<path d="M976.7,1033.5 L975.0,1026.6 L973.3,1019.7 L971.5,1012.8 L969.8,1005.8 L968.0,998.9 L966.3,991.9 L964.5,985.0 L962.7,978.0 L961.2,970.9 L959.8,963.8 L958.4,956.7 L956.9,949.6 L955.3,942.6 L953.5,935.5 L951.7,928.5 L949.6,921.5 L947.3,914.6 L945.0,907.6 L942.6,900.7 L940.1,893.8 L937.6,886.9 L935.1,880.0 L934.9,880.0 L936.5,887.2 L937.9,894.4 L939.5,901.6 L941.0,908.7 L942.6,915.9 L944.3,923.0 L946.0,930.0 L948.0,937.0 L950.0,944.0 L952.2,950.9 L954.4,957.8 L956.7,964.7 L959.0,971.5 L961.2,978.4 L963.0,985.3 L964.8,992.3 L966.6,999.2 L968.3,1006.2 L970.1,1013.1 L971.8,1020.1 L973.5,1027.0 L975.2,1033.9Z" fill="#508a3c"/>
<path d="M987.7,1036.1 L987.0,1028.1 L986.3,1020.1 L985.5,1012.1 L984.8,1004.1 L984.1,996.1 L983.5,988.1 L982.8,980.1 L982.1,972.1 L981.4,964.1 L981.5,956.0 L981.5,948.0 L981.3,939.9 L981.0,931.9 L980.5,923.9 L979.7,915.9 L978.8,907.9 L977.8,899.9 L976.7,891.9 L975.6,883.9 L974.5,875.9 L973.2,868.0 L972.1,860.0 L971.9,860.0 L972.0,868.1 L972.1,876.1 L972.3,884.2 L972.5,892.3 L972.7,900.3 L973.0,908.3 L973.5,916.4 L974.0,924.4 L974.8,932.4 L975.9,940.4 L977.1,948.3 L978.4,956.3 L979.9,964.2 L980.6,972.2 L981.3,980.2 L982.0,988.2 L982.7,996.2 L983.4,1004.2 L984.1,1012.2 L984.8,1020.2 L985.5,1028.2 L986.2,1036.2Z" fill="#4c8839"/>
<path d="M974.4,1035.1 L975.3,1027.1 L976.3,1019.1 L977.3,1011.1 L978.4,1003.2 L979.6,995.2 L980.9,987.2 L982.1,979.2 L983.5,971.2 L984.9,963.3 L986.5,955.3 L988.5,947.5 L990.6,939.6 L992.6,931.8 L994.7,923.9 L996.6,916.1 L998.6,908.2 L1000.4,900.2 L1002.0,892.3 L1003.6,884.2 L1005.1,876.2 L1006.5,868.1 L1008.1,860.0 L1007.9,860.0 L1005.1,867.7 L1002.3,875.4 L999.6,883.2 L997.2,891.0 L994.9,898.9 L992.9,906.8 L991.2,914.8 L989.6,922.8 L988.2,930.9 L987.0,938.9 L985.8,947.0 L984.8,955.0 L983.4,963.0 L982.0,971.0 L980.7,979.0 L979.4,987.0 L978.1,994.9 L977.0,1002.9 L975.8,1010.9 L974.8,1018.9 L973.8,1027.0 L972.9,1035.0Z" fill="#498336"/>
<path d="M981.1,1035.3 L978.5,1028.4 L975.9,1021.6 L973.2,1014.7 L970.4,1007.8 L967.5,1001.0 L964.5,994.1 L961.6,987.2 L958.7,980.2 L955.7,973.3 L952.7,966.3 L949.5,959.4 L946.3,952.4 L942.9,945.5 L939.4,938.6 L935.8,931.7 L932.0,924.9 L928.0,918.2 L923.8,911.5 L919.5,904.8 L915.1,898.2 L910.6,891.6 L906.1,885.0 L905.9,885.0 L909.8,892.1 L913.5,899.1 L917.2,906.2 L920.9,913.2 L924.5,920.1 L928.1,927.0 L931.8,933.9 L935.4,940.7 L939.1,947.5 L942.7,954.2 L946.3,961.0 L949.8,967.7 L953.3,974.4 L956.7,981.2 L960.1,987.9 L963.2,994.7 L966.1,1001.6 L969.0,1008.4 L971.8,1015.3 L974.5,1022.1 L977.1,1029.0 L979.7,1035.8Z" fill="#3d752e"/>
<path d="M987.4,1032.9 L989.2,1027.1 L991.1,1021.3 L993.0,1015.6 L995.0,1009.8 L997.0,1004.0 L999.1,998.2 L1001.2,992.4 L1003.4,986.6 L1005.6,980.8 L1008.0,975.1 L1010.8,969.5 L1013.5,963.8 L1016.2,958.2 L1018.8,952.4 L1021.2,946.6 L1023.6,940.7 L1026.0,934.8 L1028.4,928.9 L1030.7,923.0 L1033.1,917.0 L1035.6,911.0 L1038.1,905.0 L1037.9,905.0 L1034.8,910.6 L1031.6,916.3 L1028.6,922.0 L1025.6,927.6 L1022.7,933.3 L1019.9,939.1 L1017.2,944.8 L1014.6,950.6 L1012.3,956.5 L1010.1,962.4 L1008.2,968.4 L1006.3,974.4 L1004.2,980.3 L1002.0,986.1 L999.8,991.9 L997.7,997.7 L995.6,1003.5 L993.6,1009.3 L991.6,1015.1 L989.7,1020.9 L987.8,1026.7 L985.9,1032.5Z" fill="#508a3c"/>
<path d="M991.0,1033.7 L989.9,1023.0 L988.8,1012.3 L987.5,1001.6 L986.2,991.0 L984.8,980.3 L983.3,969.6 L981.7,958.9 L980.1,948.3 L978.5,937.6 L977.1,926.9 L975.6,916.2 L974.0,905.5 L972.2,894.8 L970.2,884.2 L968.1,873.5 L965.8,862.9 L963.2,852.3 L960.5,841.8 L957.6,831.3 L954.5,820.9 L951.3,810.4 L948.1,800.0 L947.9,800.0 L950.2,810.7 L952.3,821.4 L954.5,832.1 L956.6,842.7 L958.7,853.4 L960.8,864.0 L963.1,874.6 L965.4,885.1 L967.7,895.7 L970.0,906.2 L972.3,916.8 L974.5,927.4 L976.7,937.9 L978.6,948.5 L980.2,959.2 L981.8,969.8 L983.3,980.5 L984.7,991.2 L986.0,1001.8 L987.3,1012.5 L988.5,1023.2 L989.6,1033.9Z" fill="#508a3c"/>
<path d="M974.5,1034.9 L975.1,1023.3 L975.8,1011.7 L976.4,1000.1 L977.1,988.6 L977.8,977.0 L978.4,965.4 L979.1,953.8 L979.8,942.2 L980.6,930.7 L981.9,919.1 L983.3,907.6 L984.5,896.0 L985.6,884.5 L986.5,872.9 L987.1,861.3 L987.7,849.7 L988.2,838.1 L988.6,826.5 L989.0,814.9 L989.4,803.2 L989.7,791.6 L990.1,780.0 L989.9,780.0 L988.6,791.5 L987.3,803.1 L986.0,814.7 L984.8,826.2 L983.6,837.8 L982.5,849.3 L981.5,860.9 L980.6,872.5 L980.0,884.1 L979.5,895.7 L979.3,907.3 L979.2,918.9 L979.1,930.6 L978.4,942.2 L977.6,953.7 L976.9,965.3 L976.3,976.9 L975.6,988.5 L974.9,1000.1 L974.3,1011.6 L973.6,1023.2 L973.0,1034.8Z" fill="#498336"/>
<path d="M990.6,1037.0 L991.6,1025.1 L992.6,1013.2 L993.6,1001.3 L994.6,989.4 L995.7,977.5 L996.8,965.6 L997.8,953.7 L999.2,941.9 L1000.7,930.0 L1002.1,918.1 L1003.5,906.2 L1004.9,894.3 L1006.2,882.5 L1007.5,870.6 L1008.8,858.7 L1010.0,846.8 L1011.1,834.8 L1012.0,822.9 L1012.8,810.9 L1013.6,799.0 L1014.3,787.0 L1015.1,775.0 L1014.9,775.0 L1013.1,786.9 L1011.3,798.7 L1009.5,810.6 L1007.9,822.5 L1006.3,834.3 L1004.9,846.2 L1003.7,858.1 L1002.6,870.1 L1001.5,882.0 L1000.6,893.9 L999.6,905.9 L998.8,917.8 L998.0,929.7 L997.2,941.7 L996.4,953.6 L995.3,965.5 L994.2,977.4 L993.2,989.3 L992.1,1001.2 L991.1,1013.1 L990.1,1025.0 L989.1,1036.9Z" fill="#417932"/>
<path d="M975.7,1036.5 L975.9,1025.8 L976.2,1015.0 L976.4,1004.3 L976.6,993.5 L976.8,982.7 L976.9,972.0 L977.0,961.2 L977.1,950.5 L977.7,939.7 L978.3,929.0 L978.8,918.2 L979.1,907.5 L979.3,896.7 L979.3,886.0 L979.0,875.2 L978.7,864.5 L978.3,853.7 L977.7,843.0 L977.1,832.2 L976.5,821.5 L975.8,810.7 L975.1,800.0 L974.9,800.0 L974.7,810.8 L974.5,821.5 L974.3,832.3 L974.0,843.0 L973.9,853.8 L973.7,864.5 L973.5,875.3 L973.5,886.0 L973.6,896.8 L973.8,907.5 L974.2,918.2 L974.7,929.0 L975.2,939.7 L975.6,950.5 L975.5,961.2 L975.4,972.0 L975.3,982.7 L975.1,993.5 L974.9,1004.2 L974.7,1015.0 L974.4,1025.7 L974.2,1036.5Z" fill="#3d752e"/>
<path d="M983.0,1035.7 L979.8,1029.7 L976.6,1023.7 L973.3,1017.6 L970.0,1011.5 L966.6,1005.4 L963.2,999.3 L959.7,993.2 L956.3,987.0 L952.8,980.8 L949.3,974.5 L945.8,968.2 L942.1,962.0 L938.4,955.7 L934.6,949.4 L930.7,943.1 L926.8,936.8 L922.7,930.6 L918.4,924.4 L913.9,918.3 L909.4,912.2 L904.7,906.1 L900.1,900.0 L899.9,900.0 L903.9,906.6 L907.8,913.2 L911.7,919.7 L915.6,926.2 L919.5,932.6 L923.5,938.9 L927.5,945.2 L931.5,951.3 L935.4,957.5 L939.4,963.6 L943.3,969.7 L947.1,975.8 L951.0,981.9 L954.7,987.9 L958.4,994.0 L961.9,1000.1 L965.3,1006.2 L968.7,1012.3 L972.0,1018.3 L975.3,1024.4 L978.5,1030.4 L981.7,1036.4Z" fill="#508a3c"/>
<path d="M991.3,1035.5 L992.8,1031.3 L994.3,1027.0 L995.9,1022.8 L997.5,1018.5 L999.1,1014.2 L1000.7,1009.9 L1002.4,1005.7 L1004.1,1001.4 L1005.9,997.1 L1007.7,992.8 L1009.5,988.5 L1011.5,984.3 L1013.4,980.0 L1015.4,975.7 L1017.3,971.4 L1019.3,967.1 L1021.2,962.8 L1023.1,958.4 L1025.0,954.0 L1026.9,949.5 L1028.7,945.1 L1030.7,940.6 L1030.5,940.6 L1028.2,944.8 L1025.9,949.1 L1023.6,953.3 L1021.4,957.6 L1019.2,961.8 L1017.2,966.1 L1015.2,970.5 L1013.4,974.8 L1011.5,979.2 L1009.8,983.5 L1008.0,987.9 L1006.3,992.2 L1004.5,996.5 L1002.8,1000.8 L1001.0,1005.1 L999.3,1009.4 L997.7,1013.7 L996.1,1018.0 L994.5,1022.2 L992.9,1026.5 L991.3,1030.8 L989.8,1035.0Z" fill="#588f40"/>
<path d="M983.4,1034.7 L980.7,1031.3 L977.9,1027.8 L975.1,1024.4 L972.2,1020.9 L969.3,1017.4 L966.3,1013.9 L963.2,1010.4 L960.1,1006.9 L957.0,1003.3 L953.8,999.7 L950.6,996.0 L947.3,992.4 L943.9,988.8 L940.4,985.3 L936.8,981.7 L933.1,978.2 L929.3,974.7 L925.4,971.2 L921.5,967.7 L917.5,964.2 L913.4,960.7 L909.4,957.1 L909.2,957.3 L913.1,961.0 L916.9,964.8 L920.7,968.6 L924.3,972.3 L928.0,976.0 L931.5,979.7 L935.1,983.4 L938.6,987.0 L942.0,990.6 L945.5,994.1 L948.9,997.6 L952.3,1001.1 L955.7,1004.5 L959.0,1007.9 L962.1,1011.4 L965.1,1014.9 L968.1,1018.4 L971.1,1021.9 L973.9,1025.3 L976.7,1028.8 L979.5,1032.2 L982.2,1035.7Z" fill="#437d32"/>
<path d="M981.4,1032.5 L980.0,1021.0 L978.5,1009.4 L977.1,997.9 L975.5,986.4 L974.0,974.9 L972.4,963.3 L970.8,951.8 L969.1,940.3 L967.4,928.7 L965.6,917.2 L963.8,905.7 L962.0,894.2 L960.1,882.6 L958.2,871.1 L956.3,859.6 L954.3,848.0 L952.2,836.5 L950.2,825.0 L948.1,813.5 L945.9,801.9 L943.8,790.4 L940.9,779.0 L940.7,779.0 L942.3,790.7 L944.5,802.2 L946.7,813.7 L948.8,825.2 L950.9,836.8 L952.9,848.3 L954.9,859.8 L956.8,871.3 L958.7,882.9 L960.6,894.4 L962.4,905.9 L964.2,917.4 L966.0,929.0 L967.7,940.5 L969.4,952.0 L971.0,963.5 L972.6,975.1 L974.1,986.6 L975.7,998.1 L977.1,1009.6 L978.6,1021.1 L980.0,1032.7Z" fill="#4c8a3e"/>
<g filter="url(#soft2)">
<circle cx="934.5" cy="743.6" r="1.4" fill="#7d9248"/>
<circle cx="934.7" cy="745.0" r="1.6" fill="#92a456"/>
<circle cx="934.4" cy="746.3" r="1.7" fill="#7d9248"/>
<circle cx="935.8" cy="747.7" r="1.5" fill="#93a455"/>
<circle cx="936.3" cy="749.0" r="1.4" fill="#5f8238"/>
<circle cx="938.5" cy="750.4" r="1.6" fill="#6a8a3e"/>
<circle cx="938.1" cy="751.8" r="1.5" fill="#6a8a3e"/>
<circle cx="938.7" cy="753.1" r="1.8" fill="#6a8a3e"/>
<circle cx="938.7" cy="754.5" r="1.2" fill="#93a455"/>
<circle cx="939.1" cy="755.9" r="1.5" fill="#5f8238"/>
<circle cx="936.9" cy="757.2" r="1.4" fill="#93a455"/>
<circle cx="935.8" cy="758.6" r="1.1" fill="#5f8238"/>
<circle cx="939.1" cy="759.9" r="1.7" fill="#5f8238"/>
<circle cx="936.0" cy="761.3" r="1.7" fill="#5f8238"/>
<circle cx="939.1" cy="762.7" r="1.3" fill="#6a8a3e"/>
<circle cx="936.3" cy="764.0" r="1.8" fill="#93a455"/>
<circle cx="937.8" cy="765.4" r="1.2" fill="#7d9248"/>
<circle cx="938.5" cy="766.7" r="1.6" fill="#7d9248"/>
<circle cx="940.0" cy="768.1" r="1.9" fill="#92a456"/>
<circle cx="940.2" cy="769.5" r="1.4" fill="#7d9248"/>
<circle cx="939.4" cy="770.8" r="1.7" fill="#5f8238"/>
<circle cx="939.7" cy="772.2" r="1.2" fill="#5f8238"/>
<circle cx="941.1" cy="773.6" r="1.2" fill="#5f8238"/>
<circle cx="941.0" cy="774.9" r="1.5" fill="#92a456"/>
<circle cx="940.6" cy="776.3" r="1.3" fill="#92a456"/>
<circle cx="940.6" cy="777.6" r="1.5" fill="#6a8a3e"/>
<circle cx="941.6" cy="779.0" r="1.4" fill="#92a456"/>
</g>
<path d="M985.3,1033.1 L984.8,1022.5 L984.4,1011.9 L983.9,1001.3 L983.3,990.7 L982.8,980.1 L982.3,969.5 L981.7,958.9 L981.1,948.3 L980.6,937.7 L980.0,927.1 L979.4,916.5 L978.7,905.9 L978.1,895.3 L977.5,884.7 L976.8,874.1 L976.1,863.5 L975.4,852.9 L974.7,842.3 L974.0,831.7 L973.3,821.1 L972.6,810.5 L971.2,800.0 L971.0,800.0 L971.1,810.7 L971.9,821.2 L972.6,831.8 L973.3,842.4 L974.0,853.0 L974.7,863.6 L975.4,874.2 L976.1,884.8 L976.7,895.4 L977.3,906.0 L978.0,916.6 L978.6,927.2 L979.2,937.8 L979.8,948.4 L980.3,959.0 L980.9,969.6 L981.4,980.2 L981.9,990.8 L982.5,1001.4 L983.0,1012.0 L983.4,1022.6 L983.9,1033.2Z" fill="#4c8a3e"/>
<g filter="url(#soft2)">
<circle cx="970.8" cy="740.0" r="1.5" fill="#92a456"/>
<circle cx="970.9" cy="741.3" r="1.5" fill="#6a8a3e"/>
<circle cx="972.3" cy="742.7" r="1.3" fill="#93a455"/>
<circle cx="970.7" cy="744.0" r="1.8" fill="#92a456"/>
<circle cx="972.9" cy="745.3" r="1.1" fill="#5f8238"/>
<circle cx="970.8" cy="746.7" r="1.6" fill="#7d9248"/>
<circle cx="973.5" cy="748.0" r="1.9" fill="#93a455"/>
<circle cx="971.1" cy="749.3" r="1.8" fill="#92a456"/>
<circle cx="973.5" cy="750.7" r="1.7" fill="#7d9248"/>
<circle cx="971.1" cy="752.0" r="1.9" fill="#6a8a3e"/>
<circle cx="971.4" cy="753.3" r="1.2" fill="#92a456"/>
<circle cx="969.8" cy="754.7" r="1.7" fill="#92a456"/>
<circle cx="970.0" cy="756.0" r="1.3" fill="#92a456"/>
<circle cx="973.1" cy="757.3" r="1.4" fill="#5f8238"/>
<circle cx="973.5" cy="758.7" r="1.6" fill="#7d9248"/>
<circle cx="973.9" cy="760.0" r="1.8" fill="#7d9248"/>
<circle cx="972.0" cy="761.3" r="1.3" fill="#93a455"/>
<circle cx="970.7" cy="762.7" r="1.2" fill="#5f8238"/>
<circle cx="968.3" cy="764.0" r="1.8" fill="#93a455"/>
<circle cx="971.2" cy="765.3" r="1.3" fill="#92a456"/>
<circle cx="970.1" cy="766.7" r="1.6" fill="#7d9248"/>
<circle cx="969.2" cy="768.0" r="1.7" fill="#7d9248"/>
<circle cx="968.6" cy="769.3" r="1.7" fill="#93a455"/>
<circle cx="968.7" cy="770.7" r="1.8" fill="#93a455"/>
<circle cx="970.9" cy="772.0" r="1.8" fill="#5f8238"/>
<circle cx="969.8" cy="773.3" r="1.8" fill="#6a8a3e"/>
<circle cx="968.4" cy="774.7" r="1.2" fill="#92a456"/>
<circle cx="969.7" cy="776.0" r="1.5" fill="#93a455"/>
<circle cx="970.7" cy="777.3" r="1.5" fill="#5f8238"/>
<circle cx="971.6" cy="778.7" r="1.5" fill="#5f8238"/>
<circle cx="971.8" cy="780.0" r="1.2" fill="#5f8238"/>
<circle cx="970.8" cy="781.3" r="1.6" fill="#5f8238"/>
<circle cx="971.9" cy="782.7" r="1.7" fill="#7d9248"/>
<circle cx="970.8" cy="784.0" r="1.5" fill="#5f8238"/>
<circle cx="971.7" cy="785.3" r="1.3" fill="#7d9248"/>
<circle cx="971.8" cy="786.7" r="1.7" fill="#5f8238"/>
<circle cx="971.7" cy="788.0" r="1.8" fill="#92a456"/>
<circle cx="971.3" cy="789.3" r="1.1" fill="#6a8a3e"/>
<circle cx="972.4" cy="790.7" r="1.5" fill="#92a456"/>
<circle cx="972.5" cy="792.0" r="1.1" fill="#93a455"/>
<circle cx="972.5" cy="793.3" r="1.6" fill="#5f8238"/>
<circle cx="972.0" cy="794.7" r="1.7" fill="#5f8238"/>
<circle cx="971.2" cy="796.0" r="1.3" fill="#93a455"/>
<circle cx="972.0" cy="797.3" r="1.8" fill="#5f8238"/>
<circle cx="972.0" cy="798.7" r="1.7" fill="#6a8a3e"/>
<circle cx="970.8" cy="800.0" r="1.8" fill="#7d9248"/>
</g>
<path d="M977.8,1033.3 L978.2,1021.5 L978.5,1009.8 L978.9,998.0 L979.3,986.3 L979.7,974.6 L980.2,962.8 L980.6,951.1 L981.0,939.4 L981.5,927.6 L981.9,915.9 L982.4,904.1 L982.9,892.4 L983.4,880.7 L983.9,868.9 L984.4,857.2 L984.9,845.5 L985.5,833.7 L986.0,822.0 L986.6,810.2 L987.2,798.5 L987.8,786.8 L987.7,775.0 L987.5,775.0 L986.2,786.7 L985.7,798.4 L985.2,810.2 L984.6,821.9 L984.1,833.7 L983.5,845.4 L983.0,857.1 L982.5,868.9 L982.0,880.6 L981.5,892.4 L981.0,904.1 L980.5,915.8 L980.1,927.6 L979.6,939.3 L979.2,951.0 L978.8,962.8 L978.3,974.5 L977.9,986.3 L977.5,998.0 L977.1,1009.7 L976.8,1021.5 L976.4,1033.2Z" fill="#4c8a3e"/>
<g filter="url(#soft2)">
<circle cx="986.8" cy="728.9" r="1.6" fill="#5f8238"/>
<circle cx="987.6" cy="730.3" r="1.1" fill="#6a8a3e"/>
<circle cx="987.2" cy="731.6" r="1.7" fill="#93a455"/>
<circle cx="986.3" cy="733.0" r="1.7" fill="#5f8238"/>
<circle cx="989.3" cy="734.3" r="1.2" fill="#6a8a3e"/>
<circle cx="987.8" cy="735.7" r="1.9" fill="#93a455"/>
<circle cx="986.6" cy="737.0" r="1.8" fill="#7d9248"/>
<circle cx="985.8" cy="738.4" r="1.5" fill="#6a8a3e"/>
<circle cx="987.3" cy="739.7" r="1.2" fill="#93a455"/>
<circle cx="988.5" cy="741.1" r="1.7" fill="#5f8238"/>
<circle cx="985.9" cy="742.5" r="1.3" fill="#5f8238"/>
<circle cx="989.2" cy="743.8" r="1.4" fill="#93a455"/>
<circle cx="989.5" cy="745.2" r="1.4" fill="#92a456"/>
<circle cx="989.4" cy="746.5" r="1.8" fill="#7d9248"/>
<circle cx="984.1" cy="747.9" r="1.4" fill="#93a455"/>
<circle cx="987.9" cy="749.2" r="1.6" fill="#5f8238"/>
<circle cx="988.8" cy="750.6" r="1.2" fill="#6a8a3e"/>
<circle cx="988.7" cy="752.0" r="1.3" fill="#6a8a3e"/>
<circle cx="987.8" cy="753.3" r="1.3" fill="#92a456"/>
<circle cx="985.3" cy="754.7" r="1.7" fill="#7d9248"/>
<circle cx="986.5" cy="756.0" r="1.4" fill="#5f8238"/>
<circle cx="986.6" cy="757.4" r="1.3" fill="#6a8a3e"/>
<circle cx="986.9" cy="758.7" r="1.6" fill="#7d9248"/>
<circle cx="988.3" cy="760.1" r="1.3" fill="#6a8a3e"/>
<circle cx="987.2" cy="761.4" r="1.1" fill="#92a456"/>
<circle cx="987.4" cy="762.8" r="1.3" fill="#93a455"/>
<circle cx="987.9" cy="764.2" r="1.7" fill="#5f8238"/>
<circle cx="987.9" cy="765.5" r="1.8" fill="#7d9248"/>
<circle cx="987.8" cy="766.9" r="1.4" fill="#7d9248"/>
<circle cx="988.6" cy="768.2" r="1.7" fill="#7d9248"/>
<circle cx="988.7" cy="769.6" r="1.7" fill="#93a455"/>
<circle cx="987.5" cy="770.9" r="1.4" fill="#6a8a3e"/>
<circle cx="988.1" cy="772.3" r="1.8" fill="#6a8a3e"/>
<circle cx="987.8" cy="773.6" r="1.7" fill="#5f8238"/>
<circle cx="988.2" cy="775.0" r="1.3" fill="#5f8238"/>
</g>
<path d="M974.4,1032.3 L975.6,1021.3 L976.9,1010.3 L978.2,999.3 L979.5,988.3 L980.9,977.2 L982.2,966.2 L983.7,955.2 L985.1,944.2 L986.6,933.2 L988.2,922.2 L989.7,911.2 L991.3,900.2 L992.9,889.2 L994.6,878.2 L996.3,867.2 L998.0,856.2 L999.8,845.2 L1001.6,834.2 L1003.5,823.1 L1005.4,812.1 L1007.3,801.1 L1008.6,790.0 L1008.4,790.0 L1005.8,800.9 L1003.9,811.9 L1002.1,822.9 L1000.2,833.9 L998.4,844.9 L996.7,855.9 L994.9,867.0 L993.2,878.0 L991.6,889.0 L989.9,900.0 L988.3,911.0 L986.8,922.0 L985.2,933.0 L983.7,944.0 L982.3,955.0 L980.9,966.1 L979.5,977.1 L978.1,988.1 L976.8,999.1 L975.5,1010.1 L974.2,1021.1 L973.0,1032.1Z" fill="#4c8a3e"/>
<g filter="url(#soft2)">
<circle cx="1012.2" cy="744.5" r="1.6" fill="#93a455"/>
<circle cx="1012.3" cy="745.8" r="1.4" fill="#6a8a3e"/>
<circle cx="1013.1" cy="747.2" r="1.2" fill="#5f8238"/>
<circle cx="1012.3" cy="748.5" r="1.7" fill="#6a8a3e"/>
<circle cx="1011.7" cy="749.9" r="1.3" fill="#92a456"/>
<circle cx="1013.1" cy="751.2" r="1.5" fill="#7d9248"/>
<circle cx="1012.3" cy="752.5" r="1.8" fill="#7d9248"/>
<circle cx="1010.8" cy="753.9" r="1.4" fill="#5f8238"/>
<circle cx="1011.0" cy="755.2" r="1.1" fill="#93a455"/>
<circle cx="1013.5" cy="756.5" r="1.5" fill="#93a455"/>
<circle cx="1013.6" cy="757.9" r="1.9" fill="#92a456"/>
<circle cx="1012.5" cy="759.2" r="1.2" fill="#7d9248"/>
<circle cx="1011.6" cy="760.6" r="1.4" fill="#93a455"/>
<circle cx="1013.5" cy="761.9" r="1.8" fill="#7d9248"/>
<circle cx="1012.2" cy="763.2" r="1.3" fill="#6a8a3e"/>
<circle cx="1008.2" cy="764.6" r="1.5" fill="#6a8a3e"/>
<circle cx="1009.4" cy="765.9" r="1.4" fill="#6a8a3e"/>
<circle cx="1010.9" cy="767.2" r="1.3" fill="#6a8a3e"/>
<circle cx="1008.2" cy="768.6" r="1.7" fill="#92a456"/>
<circle cx="1010.4" cy="769.9" r="1.3" fill="#93a455"/>
<circle cx="1010.7" cy="771.3" r="1.8" fill="#7d9248"/>
<circle cx="1009.5" cy="772.6" r="1.3" fill="#5f8238"/>
<circle cx="1009.0" cy="773.9" r="1.8" fill="#6a8a3e"/>
<circle cx="1008.5" cy="775.3" r="1.8" fill="#6a8a3e"/>
<circle cx="1009.2" cy="776.6" r="1.4" fill="#5f8238"/>
<circle cx="1009.5" cy="778.0" r="1.7" fill="#92a456"/>
<circle cx="1009.2" cy="779.3" r="1.1" fill="#92a456"/>
<circle cx="1010.6" cy="780.6" r="1.6" fill="#92a456"/>
<circle cx="1010.5" cy="782.0" r="1.8" fill="#6a8a3e"/>
<circle cx="1009.7" cy="783.3" r="1.4" fill="#92a456"/>
<circle cx="1009.0" cy="784.6" r="1.7" fill="#7d9248"/>
<circle cx="1010.1" cy="786.0" r="1.6" fill="#5f8238"/>
<circle cx="1009.5" cy="787.3" r="1.6" fill="#93a455"/>
<circle cx="1008.8" cy="788.7" r="1.8" fill="#6a8a3e"/>
<circle cx="1008.6" cy="790.0" r="1.8" fill="#93a455"/>
</g>
<path d="M988.0,1035.5 L989.2,1025.3 L990.5,1015.2 L991.7,1005.0 L993.1,994.9 L994.4,984.7 L995.8,974.6 L997.2,964.4 L998.7,954.3 L1000.2,944.1 L1001.7,934.0 L1003.3,923.8 L1004.8,913.7 L1006.5,903.5 L1008.1,893.4 L1009.8,883.2 L1011.6,873.1 L1013.3,862.9 L1015.1,852.7 L1017.0,842.6 L1018.9,832.4 L1020.8,822.3 L1022.1,812.0 L1021.9,812.0 L1019.3,822.0 L1017.4,832.2 L1015.6,842.3 L1013.8,852.5 L1012.0,862.7 L1010.2,872.8 L1008.5,883.0 L1006.8,893.1 L1005.1,903.3 L1003.5,913.4 L1001.9,923.6 L1000.3,933.8 L998.8,943.9 L997.3,954.1 L995.8,964.2 L994.4,974.4 L993.0,984.5 L991.7,994.7 L990.3,1004.9 L989.1,1015.0 L987.8,1025.2 L986.6,1035.3Z" fill="#4c8a3e"/>
<g filter="url(#soft2)">
<circle cx="1028.0" cy="781.0" r="1.5" fill="#6a8a3e"/>
<circle cx="1029.5" cy="782.3" r="1.2" fill="#7d9248"/>
<circle cx="1027.7" cy="783.7" r="1.3" fill="#7d9248"/>
<circle cx="1027.3" cy="785.0" r="1.1" fill="#5f8238"/>
<circle cx="1030.2" cy="786.4" r="1.1" fill="#5f8238"/>
<circle cx="1027.7" cy="787.7" r="1.6" fill="#5f8238"/>
<circle cx="1025.1" cy="789.1" r="1.8" fill="#92a456"/>
<circle cx="1025.5" cy="790.4" r="1.2" fill="#93a455"/>
<circle cx="1025.1" cy="791.8" r="1.7" fill="#6a8a3e"/>
<circle cx="1026.7" cy="793.1" r="1.9" fill="#7d9248"/>
<circle cx="1023.1" cy="794.5" r="1.6" fill="#6a8a3e"/>
<circle cx="1026.3" cy="795.8" r="1.3" fill="#6a8a3e"/>
<circle cx="1023.2" cy="797.2" r="1.7" fill="#5f8238"/>
<circle cx="1024.0" cy="798.5" r="1.6" fill="#92a456"/>
<circle cx="1023.2" cy="799.9" r="1.2" fill="#5f8238"/>
<circle cx="1024.7" cy="801.2" r="1.8" fill="#93a455"/>
<circle cx="1024.8" cy="802.6" r="1.8" fill="#92a456"/>
<circle cx="1023.1" cy="803.9" r="1.5" fill="#6a8a3e"/>
<circle cx="1023.2" cy="805.3" r="1.6" fill="#6a8a3e"/>
<circle cx="1024.4" cy="806.6" r="1.1" fill="#92a456"/>
<circle cx="1023.5" cy="808.0" r="1.7" fill="#6a8a3e"/>
<circle cx="1022.9" cy="809.3" r="1.6" fill="#92a456"/>
<circle cx="1023.2" cy="810.7" r="1.4" fill="#92a456"/>
<circle cx="1022.9" cy="812.0" r="1.3" fill="#5f8238"/>
</g>
<path d="M988.6,1034.8 L987.3,1022.9 L986.0,1011.1 L984.6,999.3 L983.2,987.5 L981.8,975.7 L980.3,963.9 L978.8,952.1 L977.2,940.3 L975.6,928.4 L974.0,916.6 L972.3,904.8 L970.7,893.0 L968.9,881.2 L967.2,869.4 L965.3,857.6 L963.5,845.8 L961.6,833.9 L959.7,822.1 L957.8,810.3 L955.8,798.5 L953.8,786.7 L951.1,775.0 L950.9,775.0 L952.3,786.9 L954.4,798.7 L956.4,810.5 L958.3,822.4 L960.2,834.2 L962.1,846.0 L964.0,857.8 L965.8,869.6 L967.5,881.4 L969.3,893.2 L971.0,905.0 L972.6,916.8 L974.2,928.6 L975.8,940.4 L977.4,952.3 L978.9,964.1 L980.4,975.9 L981.8,987.7 L983.2,999.5 L984.6,1011.3 L985.9,1023.1 L987.2,1034.9Z" fill="#4c8a3e"/>
<g filter="url(#soft2)">
<circle cx="951.1" cy="738.0" r="1.7" fill="#5f8238"/>
<circle cx="952.0" cy="739.4" r="1.3" fill="#7d9248"/>
<circle cx="950.6" cy="740.7" r="1.4" fill="#92a456"/>
<circle cx="950.9" cy="742.1" r="1.2" fill="#93a455"/>
<circle cx="951.8" cy="743.5" r="1.7" fill="#7d9248"/>
<circle cx="950.9" cy="744.9" r="1.3" fill="#92a456"/>
<circle cx="952.5" cy="746.2" r="1.4" fill="#7d9248"/>
<circle cx="949.4" cy="747.6" r="1.7" fill="#93a455"/>
<circle cx="953.5" cy="749.0" r="1.3" fill="#92a456"/>
<circle cx="952.6" cy="750.3" r="1.9" fill="#93a455"/>
<circle cx="950.4" cy="751.7" r="1.8" fill="#5f8238"/>
<circle cx="952.8" cy="753.1" r="1.2" fill="#93a455"/>
<circle cx="949.4" cy="754.4" r="1.7" fill="#92a456"/>
<circle cx="948.9" cy="755.8" r="1.7" fill="#6a8a3e"/>
<circle cx="951.7" cy="757.2" r="1.9" fill="#6a8a3e"/>
<circle cx="951.2" cy="758.6" r="1.3" fill="#92a456"/>
<circle cx="951.7" cy="759.9" r="1.2" fill="#7d9248"/>
<circle cx="951.9" cy="761.3" r="1.5" fill="#92a456"/>
<circle cx="952.1" cy="762.7" r="1.4" fill="#7d9248"/>
<circle cx="950.6" cy="764.0" r="1.1" fill="#5f8238"/>
<circle cx="951.5" cy="765.4" r="1.3" fill="#6a8a3e"/>
<circle cx="951.2" cy="766.8" r="1.3" fill="#6a8a3e"/>
<circle cx="951.2" cy="768.1" r="1.5" fill="#5f8238"/>
<circle cx="951.1" cy="769.5" r="1.2" fill="#92a456"/>
<circle cx="952.1" cy="770.9" r="1.1" fill="#92a456"/>
<circle cx="951.7" cy="772.3" r="1.9" fill="#7d9248"/>
<circle cx="952.3" cy="773.6" r="1.4" fill="#93a455"/>
<circle cx="951.2" cy="775.0" r="1.7" fill="#6a8a3e"/>
</g>
<path d="M982.7,1035.0 L982.8,1032.2 L982.9,1029.3 L983.0,1026.4 L983.1,1023.5 L983.2,1020.6 L983.3,1017.8 L983.5,1014.9 L983.6,1012.0 L983.7,1009.1 L983.8,1006.2 L984.0,1003.3 L984.1,1000.5 L984.2,997.6 L984.4,994.7 L984.5,991.8 L984.7,988.9 L984.8,986.1 L985.0,983.2 L985.1,980.3 L985.3,977.4 L985.5,974.5 L984.5,971.6 L984.3,971.6 L983.0,974.4 L982.9,977.3 L982.7,980.2 L982.6,983.1 L982.4,985.9 L982.3,988.8 L982.1,991.7 L982.0,994.6 L981.8,997.5 L981.7,1000.4 L981.6,1003.2 L981.4,1006.1 L981.3,1009.0 L981.2,1011.9 L981.1,1014.8 L980.9,1017.7 L980.8,1020.5 L980.7,1023.4 L980.6,1026.3 L980.5,1029.2 L980.4,1032.1 L980.3,1035.0Z" fill="#5f9040"/>
<path d="M975.4,1034.9 L975.1,1032.4 L974.8,1029.9 L974.5,1027.4 L974.2,1024.9 L973.8,1022.4 L973.5,1019.9 L973.2,1017.4 L972.8,1014.9 L972.4,1012.4 L972.1,1009.9 L971.7,1007.4 L971.3,1005.0 L970.9,1002.5 L970.5,1000.0 L970.1,997.5 L969.7,995.0 L969.3,992.5 L968.8,990.0 L968.4,987.5 L967.9,985.0 L967.5,982.5 L965.9,980.2 L965.7,980.3 L965.0,983.0 L965.5,985.5 L966.0,987.9 L966.5,990.4 L966.9,992.9 L967.3,995.4 L967.7,997.9 L968.1,1000.4 L968.5,1002.8 L968.9,1005.3 L969.3,1007.8 L969.7,1010.3 L970.1,1012.8 L970.4,1015.3 L970.8,1017.7 L971.1,1020.2 L971.5,1022.7 L971.8,1025.2 L972.1,1027.7 L972.4,1030.2 L972.7,1032.7 L973.0,1035.1Z" fill="#86a652"/>
<path d="M983.1,1035.1 L983.2,1031.3 L983.4,1027.5 L983.6,1023.7 L983.8,1019.9 L984.0,1016.1 L984.2,1012.3 L984.4,1008.5 L984.6,1004.8 L984.8,1001.0 L985.0,997.2 L985.3,993.4 L985.5,989.6 L985.7,985.8 L986.0,982.0 L986.2,978.2 L986.4,974.5 L986.7,970.7 L987.0,966.9 L987.2,963.1 L987.5,959.3 L987.8,955.5 L986.9,951.7 L986.8,951.6 L985.3,955.3 L985.1,959.1 L984.8,962.9 L984.6,966.7 L984.3,970.5 L984.1,974.3 L983.8,978.1 L983.6,981.9 L983.3,985.7 L983.1,989.5 L982.9,993.3 L982.6,997.0 L982.4,1000.8 L982.2,1004.6 L982.0,1008.4 L981.8,1012.2 L981.6,1016.0 L981.4,1019.8 L981.2,1023.6 L981.0,1027.4 L980.8,1031.2 L980.7,1034.9Z" fill="#6f9c44"/>
<path d="M992.7,1035.3 L993.4,1032.5 L994.0,1029.7 L994.7,1026.9 L995.4,1024.1 L996.1,1021.3 L996.8,1018.6 L997.5,1015.8 L998.3,1013.0 L999.0,1010.2 L999.8,1007.4 L1000.6,1004.6 L1001.4,1001.9 L1002.3,999.1 L1003.2,996.3 L1004.0,993.5 L1004.9,990.7 L1005.8,987.9 L1006.8,985.2 L1007.7,982.4 L1008.7,979.6 L1009.7,976.8 L1009.6,973.6 L1009.5,973.6 L1007.3,976.0 L1006.4,978.8 L1005.4,981.6 L1004.5,984.4 L1003.6,987.2 L1002.6,990.0 L1001.7,992.8 L1000.9,995.6 L1000.0,998.4 L999.1,1001.2 L998.3,1004.0 L997.5,1006.8 L996.7,1009.6 L995.9,1012.4 L995.2,1015.2 L994.4,1018.0 L993.7,1020.8 L993.0,1023.6 L992.3,1026.3 L991.7,1029.1 L991.0,1031.9 L990.4,1034.7Z" fill="#5f9040"/>
<path d="M977.5,1034.9 L977.4,1031.6 L977.2,1028.2 L977.1,1024.8 L976.9,1021.5 L976.7,1018.1 L976.6,1014.7 L976.4,1011.3 L976.2,1008.0 L976.0,1004.6 L975.8,1001.2 L975.6,997.9 L975.5,994.5 L975.3,991.1 L975.0,987.7 L974.8,984.4 L974.6,981.0 L974.4,977.6 L974.2,974.3 L974.0,970.9 L973.8,967.5 L973.6,964.1 L972.1,960.8 L972.0,960.9 L971.0,964.3 L971.3,967.7 L971.6,971.0 L971.8,974.4 L972.0,977.8 L972.2,981.1 L972.4,984.5 L972.7,987.9 L972.9,991.3 L973.1,994.6 L973.3,998.0 L973.4,1001.4 L973.6,1004.7 L973.8,1008.1 L974.0,1011.5 L974.2,1014.8 L974.3,1018.2 L974.5,1021.6 L974.7,1024.9 L974.8,1028.3 L975.0,1031.7 L975.1,1035.1Z" fill="#86a652"/>
<path d="M968.4,1034.8 L968.0,1032.4 L967.5,1030.1 L967.0,1027.7 L966.4,1025.4 L965.9,1023.0 L965.4,1020.7 L964.8,1018.4 L964.2,1016.0 L963.6,1013.7 L963.0,1011.3 L962.4,1009.0 L961.8,1006.6 L961.1,1004.3 L960.5,1001.9 L959.8,999.6 L959.1,997.3 L958.4,994.9 L957.7,992.6 L957.0,990.2 L956.3,987.9 L955.5,985.5 L953.6,983.6 L953.5,983.6 L953.1,986.3 L953.9,988.6 L954.7,990.9 L955.4,993.3 L956.1,995.6 L956.8,997.9 L957.5,1000.3 L958.2,1002.6 L958.8,1004.9 L959.5,1007.3 L960.1,1009.6 L960.7,1011.9 L961.3,1014.3 L961.9,1016.6 L962.5,1018.9 L963.0,1021.3 L963.6,1023.6 L964.1,1025.9 L964.6,1028.2 L965.1,1030.6 L965.6,1032.9 L966.1,1035.2Z" fill="#6f9c44"/>
<path d="M988.1,1035.1 L988.5,1031.6 L988.8,1028.2 L989.2,1024.7 L989.5,1021.2 L989.9,1017.8 L990.3,1014.3 L990.7,1010.8 L991.1,1007.3 L991.5,1003.9 L991.9,1000.4 L992.4,996.9 L992.8,993.5 L993.3,990.0 L993.7,986.5 L994.2,983.1 L994.7,979.6 L995.2,976.1 L995.7,972.6 L996.2,969.2 L996.7,965.7 L997.3,962.2 L996.6,958.6 L996.5,958.6 L994.8,961.9 L994.3,965.3 L993.8,968.8 L993.3,972.3 L992.8,975.8 L992.3,979.3 L991.8,982.7 L991.3,986.2 L990.9,989.7 L990.4,993.2 L990.0,996.6 L989.5,1000.1 L989.1,1003.6 L988.7,1007.1 L988.3,1010.5 L987.9,1014.0 L987.5,1017.5 L987.2,1021.0 L986.8,1024.5 L986.4,1027.9 L986.1,1031.4 L985.7,1034.9Z" fill="#86a652"/>
<path d="M978.6,1035.0 L978.5,1032.4 L978.4,1029.9 L978.3,1027.3 L978.2,1024.8 L978.1,1022.2 L978.0,1019.7 L977.9,1017.1 L977.8,1014.6 L977.6,1012.0 L977.5,1009.5 L977.4,1006.9 L977.3,1004.4 L977.2,1001.8 L977.0,999.3 L976.9,996.7 L976.8,994.2 L976.6,991.6 L976.5,989.1 L976.4,986.5 L976.2,984.0 L976.1,981.4 L974.8,979.0 L974.6,979.0 L973.6,981.6 L973.8,984.1 L974.0,986.7 L974.1,989.2 L974.2,991.8 L974.4,994.3 L974.5,996.9 L974.6,999.4 L974.8,1001.9 L974.9,1004.5 L975.0,1007.0 L975.1,1009.6 L975.2,1012.1 L975.4,1014.7 L975.5,1017.2 L975.6,1019.8 L975.7,1022.3 L975.8,1024.9 L975.9,1027.4 L976.0,1030.0 L976.1,1032.5 L976.2,1035.0Z" fill="#6f9c44"/>
<path d="M992.5,1035.3 L993.1,1032.8 L993.7,1030.2 L994.4,1027.7 L995.0,1025.2 L995.7,1022.7 L996.3,1020.2 L997.0,1017.6 L997.8,1015.1 L998.5,1012.6 L999.2,1010.1 L1000.0,1007.6 L1000.8,1005.0 L1001.6,1002.5 L1002.4,1000.0 L1003.2,997.5 L1004.1,994.9 L1005.0,992.4 L1005.8,989.9 L1006.8,987.4 L1007.7,984.9 L1008.7,982.4 L1008.5,979.4 L1008.4,979.4 L1006.3,981.5 L1005.4,984.0 L1004.5,986.6 L1003.6,989.1 L1002.7,991.6 L1001.8,994.2 L1001.0,996.7 L1000.1,999.2 L999.3,1001.8 L998.5,1004.3 L997.7,1006.8 L996.9,1009.4 L996.2,1011.9 L995.5,1014.4 L994.7,1017.0 L994.0,1019.5 L993.3,1022.1 L992.7,1024.6 L992.0,1027.1 L991.4,1029.7 L990.8,1032.2 L990.2,1034.7Z" fill="#86a652"/>
<path d="M974.7,1034.9 L974.4,1031.1 L974.0,1027.2 L973.7,1023.4 L973.3,1019.6 L973.0,1015.8 L972.6,1011.9 L972.2,1008.1 L971.8,1004.3 L971.4,1000.4 L971.0,996.6 L970.5,992.8 L970.1,988.9 L969.7,985.1 L969.2,981.3 L968.7,977.5 L968.3,973.6 L967.8,969.8 L967.3,966.0 L966.8,962.1 L966.3,958.3 L965.8,954.5 L964.1,950.8 L964.0,950.8 L963.3,954.8 L963.9,958.6 L964.4,962.5 L964.9,966.3 L965.4,970.1 L965.9,973.9 L966.4,977.8 L966.8,981.6 L967.3,985.4 L967.7,989.2 L968.1,993.0 L968.6,996.9 L969.0,1000.7 L969.4,1004.5 L969.8,1008.3 L970.2,1012.2 L970.6,1016.0 L970.9,1019.8 L971.3,1023.6 L971.6,1027.5 L972.0,1031.3 L972.3,1035.1Z" fill="#7aa34c"/>
</g>
<path d="M770.5,1046.5 L840.9,1046.5 L835,1093 L775,1093 Z" fill="url(#potg)"/>
<ellipse cx="805.8" cy="1040.5" rx="42.14999999999998" ry="10.0" fill="#d4dae4"/>
<ellipse cx="805.8" cy="1038.9" rx="37.14999999999998" ry="5.8" fill="#97a3b6"/>
<ellipse cx="805.8" cy="1041.0" rx="23.149999999999977" ry="3.7" fill="#6b5a3c"/>
<path d="M943.6,1045.1 L1014.9,1045.1 L1009,1093 L948.4,1093 Z" fill="url(#potg2)"/>
<ellipse cx="979.2" cy="1038.35" rx="42.549999999999955" ry="10.75" fill="#e6e9ef"/>
<ellipse cx="979.2" cy="1036.75" rx="37.549999999999955" ry="6.55" fill="#aab3c2"/>
<ellipse cx="979.2" cy="1038.85" rx="23.549999999999955" ry="4.45" fill="#6b5a3c"/>
<line x1="797.6" y1="1041" x2="793.9" y2="1012" stroke="#b39c6c" stroke-width="2.2"/>
<line x1="812.0" y1="1041" x2="815.5" y2="1012" stroke="#8f8050" stroke-width="2.2"/>
<line x1="810.1" y1="1041" x2="812.6" y2="1012" stroke="#b39c6c" stroke-width="2.2"/>
<line x1="809.2" y1="1041" x2="811.3" y2="1012" stroke="#b39c6c" stroke-width="2.2"/>
<line x1="801.3" y1="1041" x2="799.4" y2="1012" stroke="#b39c6c" stroke-width="2.2"/>
<line x1="792.9" y1="1041" x2="786.9" y2="1012" stroke="#8f8050" stroke-width="2.2"/>
<line x1="800.3" y1="1041" x2="798.0" y2="1012" stroke="#a89262" stroke-width="2.2"/>
<line x1="798.7" y1="1041" x2="795.5" y2="1012" stroke="#a89262" stroke-width="2.2"/>
<line x1="812.5" y1="1041" x2="816.3" y2="1012" stroke="#a89262" stroke-width="2.2"/>
<line x1="969.1" y1="1040" x2="965.7" y2="1012" stroke="#86ad52" stroke-width="2.6"/>
<line x1="981.1" y1="1040" x2="981.8" y2="1012" stroke="#86ad52" stroke-width="2.6"/>
<line x1="972.3" y1="1040" x2="969.9" y2="1012" stroke="#7aa64a" stroke-width="2.6"/>
<line x1="971.7" y1="1040" x2="969.2" y2="1012" stroke="#6a9a40" stroke-width="2.6"/>
<line x1="976.4" y1="1040" x2="975.5" y2="1012" stroke="#7a8a42" stroke-width="2.6"/>
<line x1="968.5" y1="1040" x2="964.9" y2="1012" stroke="#7a8a42" stroke-width="2.6"/>
<line x1="980.1" y1="1040" x2="980.4" y2="1012" stroke="#7a8a42" stroke-width="2.6"/>
<line x1="970.3" y1="1040" x2="967.2" y2="1012" stroke="#86ad52" stroke-width="2.6"/>
<rect x="1038.8" y="1047.8" width="3.1" height="36.5" fill="#fff"/>
</g>
<text x="789.7" y="1078.6" font-size="14.5" textLength="26.2" lengthAdjust="spacingAndGlyphs" font-style="italic" fill="#111" stroke="#111" stroke-width="0">els1</text>
<text x="953.9" y="1074.6" font-size="14.5" textLength="56.1" lengthAdjust="spacingAndGlyphs" font-style="italic" fill="#111" stroke="#111" stroke-width="0">pELS1F</text>
<rect x="1059.8" y="715.5" width="137.2" height="377" fill="#0a0a12"/>
<g clip-path="url(#clipF)">
<g filter="url(#b6)" opacity="0.35"><ellipse cx="1120" cy="850" rx="18" ry="60" fill="#14142a"/><ellipse cx="1180" cy="960" rx="16" ry="70" fill="#121226"/><ellipse cx="1075" cy="1010" rx="12" ry="50" fill="#131328"/></g>
<g filter="url(#soft)">
<path d="M1093.6,723.4 C1092.6,738 1090.6,760 1089.6,800 C1088.6,840 1088.8,870 1089.6,905 C1090.6,950 1093.4,1005 1096.6,1071 L1102.6,1071 C1103.4,1005 1104.9,950 1104.9,905 C1104.9,870 1103.6,840 1101.6,800 C1099.6,765 1096.2,738 1093.6,723.4Z" fill="#4b6c3b"/>
<path d="M1093.6,723.4 L1092.2,742 L1095.6,742 Z" fill="#c98a7a"/>
<path d="M1096.6,1071 L1097.6,1040 L1101.6,1040 L1102.6,1071 Z" fill="#8a7a4c"/>
<circle cx="1094.2" cy="770.6" r="2.0" fill="#dba58c"/>
<circle cx="1094.2" cy="770.6" r="1.0" fill="#f6d8ca"/>
<circle cx="1097" cy="764.5" r="1.1" fill="#dba58c"/>
<circle cx="1096.3" cy="795" r="1.8" fill="#dba58c"/>
<circle cx="1096.3" cy="795" r="0.9" fill="#f6d8ca"/>
<circle cx="1100.5" cy="815.5" r="1.5" fill="#dba58c"/>
<circle cx="1100.5" cy="815.5" r="0.8" fill="#f6d8ca"/>
<circle cx="1090.4" cy="822" r="1.0" fill="#dba58c"/>
<circle cx="1096.5" cy="825.5" r="1.0" fill="#dba58c"/>
<circle cx="1100.3" cy="833.4" r="1.4" fill="#dba58c"/>
<circle cx="1093.7" cy="838" r="1.2" fill="#dba58c"/>
<circle cx="1091.3" cy="855" r="1.5" fill="#dba58c"/>
<circle cx="1091.3" cy="855" r="0.8" fill="#f6d8ca"/>
<circle cx="1092.5" cy="862.5" r="2.3" fill="#dba58c"/>
<circle cx="1092.5" cy="862.5" r="1.1" fill="#f6d8ca"/>
<circle cx="1103" cy="862" r="1.0" fill="#dba58c"/>
<circle cx="1098.6" cy="880.6" r="2.0" fill="#dba58c"/>
<circle cx="1098.6" cy="880.6" r="1.0" fill="#f6d8ca"/>
<circle cx="1101.6" cy="906" r="1.1" fill="#dba58c"/>
<circle cx="1094.6" cy="983" r="2.0" fill="#dba58c"/>
<circle cx="1094.6" cy="983" r="1.0" fill="#f6d8ca"/>
<circle cx="1102.4" cy="975" r="1.0" fill="#dba58c"/>
<path d="M1163.8,744 C1161.4,765 1157.8,790 1156.4,830 C1155.2,870 1155.2,900 1155.6,940 C1156,985 1156.6,1030 1156.2,1066 L1160.6,1071 C1163.6,1030 1167.6,985 1169,940 C1169.8,900 1169.8,870 1169.2,830 C1168.4,790 1166.2,765 1163.8,744Z" fill="#3c6836"/>
<path d="M1155.4,1056 L1157.2,1070 L1161.4,1071 L1160.2,1060 Z" fill="#9a8a55"/>
</g>
<rect x="1186.1" y="1027.8" width="3" height="36" fill="#fff"/>
</g>
<text x="1083.5" y="1086.2" font-size="14.5" textLength="27" lengthAdjust="spacingAndGlyphs" font-style="italic" fill="#fff" stroke="#fff" stroke-width="0.18">els1</text>
<text x="1133.9" y="1086.2" font-size="14.5" textLength="55.9" lengthAdjust="spacingAndGlyphs" font-style="italic" fill="#fff" stroke="#fff" stroke-width="0.18">pELS1F</text>
</svg>
</body></html>
